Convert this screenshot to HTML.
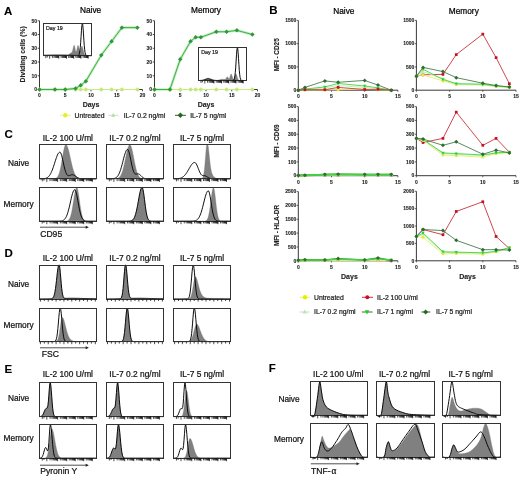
<!DOCTYPE html>
<html><head><meta charset="utf-8"><style>
html,body{margin:0;padding:0;background:#fff;}
body{width:520px;height:479px;overflow:hidden;}
svg{display:block;font-family:"Liberation Sans", sans-serif;will-change:transform;}
</style></head><body>
<svg width="520" height="479" viewBox="0 0 520 479" font-family='"Liberation Sans", sans-serif'>
<rect width="520" height="479" fill="#fff"/>
<text x="4.00" y="15.20" font-size="11.5" font-weight="bold" text-anchor="start" fill="#000" stroke="#000" stroke-width="0.1">A</text>
<text x="25.30" y="54.30" font-size="6.8" font-weight="bold" text-anchor="middle" fill="#222" stroke="#222" stroke-width="0.1" transform="rotate(-90 25.30 54.30)">Dividing cells (%)</text>
<text x="90.60" y="12.60" font-size="8.3" text-anchor="middle" fill="#000" stroke="#000" stroke-width="0.22">Naive</text>
<line x1="39.50" y1="20.75" x2="39.50" y2="89.50" stroke="#222" stroke-width="0.9"/>
<line x1="37.70" y1="89.50" x2="39.50" y2="89.50" stroke="#222" stroke-width="0.8"/>
<text x="37.10" y="91.30" font-size="5.0" font-weight="bold" text-anchor="end" fill="#222" stroke="#222" stroke-width="0.1">0</text>
<line x1="37.70" y1="75.75" x2="39.50" y2="75.75" stroke="#222" stroke-width="0.8"/>
<text x="37.10" y="77.55" font-size="5.0" font-weight="bold" text-anchor="end" fill="#222" stroke="#222" stroke-width="0.1">10</text>
<line x1="37.70" y1="62.00" x2="39.50" y2="62.00" stroke="#222" stroke-width="0.8"/>
<text x="37.10" y="63.80" font-size="5.0" font-weight="bold" text-anchor="end" fill="#222" stroke="#222" stroke-width="0.1">20</text>
<line x1="37.70" y1="48.25" x2="39.50" y2="48.25" stroke="#222" stroke-width="0.8"/>
<text x="37.10" y="50.05" font-size="5.0" font-weight="bold" text-anchor="end" fill="#222" stroke="#222" stroke-width="0.1">30</text>
<line x1="37.70" y1="34.50" x2="39.50" y2="34.50" stroke="#222" stroke-width="0.8"/>
<text x="37.10" y="36.30" font-size="5.0" font-weight="bold" text-anchor="end" fill="#222" stroke="#222" stroke-width="0.1">40</text>
<line x1="37.70" y1="20.75" x2="39.50" y2="20.75" stroke="#222" stroke-width="0.8"/>
<text x="37.10" y="22.55" font-size="5.0" font-weight="bold" text-anchor="end" fill="#222" stroke="#222" stroke-width="0.1">50</text>
<line x1="39.50" y1="89.50" x2="142.50" y2="89.50" stroke="#222" stroke-width="0.9"/>
<line x1="39.50" y1="89.50" x2="39.50" y2="91.30" stroke="#222" stroke-width="0.8"/>
<text x="39.50" y="97.10" font-size="5.0" font-weight="bold" text-anchor="middle" fill="#222" stroke="#222" stroke-width="0.1">0</text>
<line x1="65.25" y1="89.50" x2="65.25" y2="91.30" stroke="#222" stroke-width="0.8"/>
<text x="65.25" y="97.10" font-size="5.0" font-weight="bold" text-anchor="middle" fill="#222" stroke="#222" stroke-width="0.1">5</text>
<line x1="91.00" y1="89.50" x2="91.00" y2="91.30" stroke="#222" stroke-width="0.8"/>
<text x="91.00" y="97.10" font-size="5.0" font-weight="bold" text-anchor="middle" fill="#222" stroke="#222" stroke-width="0.1">10</text>
<line x1="116.75" y1="89.50" x2="116.75" y2="91.30" stroke="#222" stroke-width="0.8"/>
<text x="116.75" y="97.10" font-size="5.0" font-weight="bold" text-anchor="middle" fill="#222" stroke="#222" stroke-width="0.1">15</text>
<line x1="142.50" y1="89.50" x2="142.50" y2="91.30" stroke="#222" stroke-width="0.8"/>
<text x="142.50" y="97.10" font-size="5.0" font-weight="bold" text-anchor="middle" fill="#222" stroke="#222" stroke-width="0.1">20</text>
<text x="91.00" y="107.00" font-size="7.0" font-weight="bold" text-anchor="middle" fill="#222" stroke="#222" stroke-width="0.1">Days</text>
<polyline points="39.50,89.50 54.95,89.50 65.25,89.50 75.55,89.50 80.70,89.50 85.85,89.50 101.30,89.50 111.60,89.50 121.90,89.50 137.35,89.50" fill="none" stroke="#c8ec80" stroke-width="1.2" stroke-linejoin="round"/>
<circle cx="39.50" cy="89.50" r="1.9" fill="#d9ee6a"/>
<circle cx="54.95" cy="89.50" r="1.9" fill="#d9ee6a"/>
<circle cx="65.25" cy="89.50" r="1.9" fill="#d9ee6a"/>
<circle cx="75.55" cy="89.50" r="1.9" fill="#d9ee6a"/>
<circle cx="80.70" cy="89.50" r="1.9" fill="#d9ee6a"/>
<circle cx="85.85" cy="89.50" r="1.9" fill="#d9ee6a"/>
<circle cx="101.30" cy="89.50" r="1.9" fill="#d9ee6a"/>
<circle cx="111.60" cy="89.50" r="1.9" fill="#d9ee6a"/>
<circle cx="121.90" cy="89.50" r="1.9" fill="#d9ee6a"/>
<circle cx="137.35" cy="89.50" r="1.9" fill="#d9ee6a"/>
<polygon points="39.50,87.58 41.26,90.78 37.74,90.78" fill="#b4e6a0"/>
<polygon points="54.95,87.58 56.71,90.78 53.19,90.78" fill="#b4e6a0"/>
<polygon points="65.25,87.58 67.01,90.78 63.49,90.78" fill="#b4e6a0"/>
<polygon points="75.55,87.58 77.31,90.78 73.79,90.78" fill="#b4e6a0"/>
<polygon points="80.70,87.58 82.46,90.78 78.94,90.78" fill="#b4e6a0"/>
<polygon points="85.85,87.58 87.61,90.78 84.09,90.78" fill="#b4e6a0"/>
<polygon points="101.30,87.58 103.06,90.78 99.54,90.78" fill="#b4e6a0"/>
<polygon points="111.60,87.58 113.36,90.78 109.84,90.78" fill="#b4e6a0"/>
<polygon points="121.90,87.58 123.66,90.78 120.14,90.78" fill="#b4e6a0"/>
<polygon points="137.35,87.58 139.11,90.78 135.59,90.78" fill="#b4e6a0"/>
<polyline points="39.50,89.50 54.95,89.50 65.25,89.50 75.55,88.40 80.70,85.38 85.85,81.25 101.30,55.12 111.60,41.38 121.90,27.62 137.35,27.62" fill="none" stroke="#8ee88e" stroke-width="2.6" stroke-linejoin="round" stroke-opacity="0.6"/>
<polyline points="39.50,89.50 54.95,89.50 65.25,89.50 75.55,88.40 80.70,85.38 85.85,81.25 101.30,55.12 111.60,41.38 121.90,27.62 137.35,27.62" fill="none" stroke="#48a84e" stroke-width="1.0" stroke-linejoin="round"/>
<polygon points="39.50,87.25 41.75,89.50 39.50,91.75 37.25,89.50" fill="#2e983e"/>
<polygon points="54.95,87.25 57.20,89.50 54.95,91.75 52.70,89.50" fill="#2e983e"/>
<polygon points="65.25,87.25 67.50,89.50 65.25,91.75 63.00,89.50" fill="#2e983e"/>
<polygon points="75.55,86.15 77.80,88.40 75.55,90.65 73.30,88.40" fill="#2e983e"/>
<polygon points="80.70,83.12 82.95,85.38 80.70,87.62 78.45,85.38" fill="#2e983e"/>
<polygon points="85.85,79.00 88.10,81.25 85.85,83.50 83.60,81.25" fill="#2e983e"/>
<polygon points="101.30,52.88 103.55,55.12 101.30,57.38 99.05,55.12" fill="#2e983e"/>
<polygon points="111.60,39.12 113.85,41.38 111.60,43.62 109.35,41.38" fill="#2e983e"/>
<polygon points="121.90,25.38 124.15,27.62 121.90,29.88 119.65,27.62" fill="#2e983e"/>
<polygon points="137.35,25.38 139.60,27.62 137.35,29.88 135.10,27.62" fill="#2e983e"/>
<rect x="43.4" y="23.3" width="48.1" height="32.4" fill="#fff"/>
<path d="M43.40,55.70 L43.40,55.70 L43.80,55.70 L44.20,55.70 L44.60,55.70 L45.00,55.70 L45.40,55.70 L45.80,55.70 L46.21,55.70 L46.61,55.70 L47.01,55.70 L47.41,55.70 L47.81,55.70 L48.21,55.70 L48.61,55.70 L49.01,55.70 L49.41,55.70 L49.81,55.70 L50.21,55.70 L50.61,55.70 L51.02,55.70 L51.42,55.70 L51.82,55.70 L52.22,55.70 L52.62,55.70 L53.02,55.70 L53.42,55.70 L53.82,55.70 L54.22,55.70 L54.62,55.70 L55.02,55.70 L55.42,55.70 L55.83,55.70 L56.23,55.70 L56.63,55.70 L57.03,55.70 L57.43,55.70 L57.83,55.70 L58.23,55.70 L58.63,55.70 L59.03,55.70 L59.43,55.70 L59.83,55.70 L60.23,55.70 L60.64,55.70 L61.04,55.70 L61.44,55.70 L61.84,55.70 L62.24,55.70 L62.64,55.70 L63.04,55.70 L63.44,55.70 L63.84,55.70 L64.24,55.70 L64.64,55.70 L65.05,55.70 L65.45,55.70 L65.85,55.69 L66.25,55.68 L66.65,55.66 L67.05,55.61 L67.45,55.53 L67.85,55.39 L68.25,55.17 L68.65,54.86 L69.05,54.47 L69.45,54.04 L69.86,53.62 L70.26,53.27 L70.66,53.03 L71.06,52.88 L71.46,52.71 L71.86,52.34 L72.26,51.54 L72.66,50.21 L73.06,48.46 L73.46,46.69 L73.86,45.44 L74.26,45.19 L74.66,46.21 L75.07,48.14 L75.47,50.16 L75.87,51.49 L76.27,51.62 L76.67,50.52 L77.07,48.59 L77.47,46.60 L77.87,45.40 L78.27,45.52 L78.67,46.87 L79.07,48.81 L79.47,50.50 L79.88,51.27 L80.28,50.90 L80.68,49.59 L81.08,47.90 L81.48,46.50 L81.88,45.97 L82.28,46.40 L82.68,47.56 L83.08,49.18 L83.48,50.91 L83.88,52.49 L84.28,53.73 L84.69,54.59 L85.09,55.13 L85.49,55.43 L85.89,55.58 L86.29,55.65 L86.69,55.68 L87.09,55.69 L87.49,55.70 L87.89,55.70 L88.29,55.70 L88.69,55.70 L89.09,55.70 L89.50,55.70 L89.90,55.70 L90.30,55.70 L90.70,55.70 L91.10,55.70 L91.50,55.70 L91.50,55.70Z" fill="#808080" stroke="#777" stroke-width="0.3"/>
<path d="M43.40,55.31 L43.80,55.30 L44.20,55.29 L44.60,55.27 L45.00,55.26 L45.40,55.25 L45.80,55.24 L46.21,55.23 L46.61,55.22 L47.01,55.21 L47.41,55.20 L47.81,55.19 L48.21,55.18 L48.61,55.17 L49.01,55.16 L49.41,55.15 L49.81,55.14 L50.21,55.14 L50.61,55.13 L51.02,55.12 L51.42,55.11 L51.82,55.11 L52.22,55.10 L52.62,55.09 L53.02,55.09 L53.42,55.08 L53.82,55.08 L54.22,55.07 L54.62,55.07 L55.02,55.06 L55.42,55.06 L55.83,55.06 L56.23,55.06 L56.63,55.05 L57.03,55.05 L57.43,55.05 L57.83,55.05 L58.23,55.05 L58.63,55.05 L59.03,55.05 L59.43,55.06 L59.83,55.06 L60.23,55.06 L60.64,55.06 L61.04,55.07 L61.44,55.07 L61.84,55.08 L62.24,55.08 L62.64,55.09 L63.04,55.09 L63.44,55.10 L63.84,55.11 L64.24,55.11 L64.64,55.12 L65.05,55.13 L65.45,55.14 L65.85,55.14 L66.25,55.15 L66.65,55.16 L67.05,55.17 L67.45,55.18 L67.85,55.19 L68.25,55.20 L68.65,55.21 L69.05,55.22 L69.45,55.23 L69.86,55.24 L70.26,55.25 L70.66,55.26 L71.06,55.27 L71.46,55.29 L71.86,55.30 L72.26,55.31 L72.66,55.32 L73.06,55.33 L73.46,55.34 L73.86,55.35 L74.26,55.36 L74.66,55.37 L75.07,55.38 L75.47,55.39 L75.87,55.40 L76.27,55.41 L76.67,55.42 L77.07,55.43 L77.47,55.43 L77.87,55.40 L78.27,55.31 L78.67,55.05 L79.07,54.46 L79.47,53.23 L79.88,51.00 L80.28,47.43 L80.68,42.42 L81.08,36.38 L81.48,30.26 L81.88,25.45 L82.28,23.30 L82.68,24.20 L83.08,28.13 L83.48,33.91 L83.88,40.14 L84.28,45.66 L84.69,49.83 L85.09,52.58 L85.49,54.17 L85.89,55.00 L86.29,55.37 L86.69,55.53 L87.09,55.59 L87.49,55.61 L87.89,55.62 L88.29,55.63 L88.69,55.63 L89.09,55.64 L89.50,55.64 L89.90,55.65 L90.30,55.65 L90.70,55.65 L91.10,55.65 L91.50,55.66" fill="none" stroke="#000" stroke-width="0.95" stroke-linejoin="round"/>
<rect x="43.50" y="23.50" width="48.00" height="32.00" fill="none" stroke="#333" stroke-width="1"/>
<line x1="45.80" y1="55.70" x2="45.80" y2="58.10" stroke="#111" stroke-width="0.75"/>
<line x1="47.25" y1="55.70" x2="47.25" y2="57.50" stroke="#111" stroke-width="0.75"/>
<line x1="49.65" y1="55.70" x2="49.65" y2="58.70" stroke="#111" stroke-width="0.75"/>
<line x1="52.40" y1="55.70" x2="52.40" y2="57.90" stroke="#111" stroke-width="0.75"/>
<line x1="54.01" y1="55.70" x2="54.01" y2="57.90" stroke="#111" stroke-width="0.75"/>
<line x1="55.16" y1="55.70" x2="55.16" y2="57.90" stroke="#111" stroke-width="0.75"/>
<line x1="56.04" y1="55.70" x2="56.04" y2="57.90" stroke="#111" stroke-width="0.75"/>
<line x1="56.76" y1="55.70" x2="56.76" y2="57.90" stroke="#111" stroke-width="0.75"/>
<line x1="57.38" y1="55.70" x2="57.38" y2="57.90" stroke="#111" stroke-width="0.75"/>
<line x1="57.91" y1="55.70" x2="57.91" y2="57.90" stroke="#111" stroke-width="0.75"/>
<line x1="58.37" y1="55.70" x2="58.37" y2="57.90" stroke="#111" stroke-width="0.75"/>
<line x1="58.79" y1="55.70" x2="58.79" y2="58.70" stroke="#111" stroke-width="0.75"/>
<line x1="61.11" y1="55.70" x2="61.11" y2="57.90" stroke="#111" stroke-width="0.75"/>
<line x1="62.46" y1="55.70" x2="62.46" y2="57.90" stroke="#111" stroke-width="0.75"/>
<line x1="63.43" y1="55.70" x2="63.43" y2="57.90" stroke="#111" stroke-width="0.75"/>
<line x1="64.17" y1="55.70" x2="64.17" y2="57.90" stroke="#111" stroke-width="0.75"/>
<line x1="64.78" y1="55.70" x2="64.78" y2="57.90" stroke="#111" stroke-width="0.75"/>
<line x1="65.30" y1="55.70" x2="65.30" y2="57.90" stroke="#111" stroke-width="0.75"/>
<line x1="65.74" y1="55.70" x2="65.74" y2="57.90" stroke="#111" stroke-width="0.75"/>
<line x1="66.14" y1="55.70" x2="66.14" y2="57.90" stroke="#111" stroke-width="0.75"/>
<line x1="66.49" y1="55.70" x2="66.49" y2="58.70" stroke="#111" stroke-width="0.75"/>
<line x1="68.66" y1="55.70" x2="68.66" y2="57.90" stroke="#111" stroke-width="0.75"/>
<line x1="69.93" y1="55.70" x2="69.93" y2="57.90" stroke="#111" stroke-width="0.75"/>
<line x1="70.83" y1="55.70" x2="70.83" y2="57.90" stroke="#111" stroke-width="0.75"/>
<line x1="71.53" y1="55.70" x2="71.53" y2="57.90" stroke="#111" stroke-width="0.75"/>
<line x1="72.10" y1="55.70" x2="72.10" y2="57.90" stroke="#111" stroke-width="0.75"/>
<line x1="72.59" y1="55.70" x2="72.59" y2="57.90" stroke="#111" stroke-width="0.75"/>
<line x1="73.00" y1="55.70" x2="73.00" y2="57.90" stroke="#111" stroke-width="0.75"/>
<line x1="73.37" y1="55.70" x2="73.37" y2="57.90" stroke="#111" stroke-width="0.75"/>
<line x1="73.70" y1="55.70" x2="73.70" y2="58.70" stroke="#111" stroke-width="0.75"/>
<line x1="75.87" y1="55.70" x2="75.87" y2="57.90" stroke="#111" stroke-width="0.75"/>
<line x1="77.15" y1="55.70" x2="77.15" y2="57.90" stroke="#111" stroke-width="0.75"/>
<line x1="78.05" y1="55.70" x2="78.05" y2="57.90" stroke="#111" stroke-width="0.75"/>
<line x1="78.75" y1="55.70" x2="78.75" y2="57.90" stroke="#111" stroke-width="0.75"/>
<line x1="79.32" y1="55.70" x2="79.32" y2="57.90" stroke="#111" stroke-width="0.75"/>
<line x1="79.80" y1="55.70" x2="79.80" y2="57.90" stroke="#111" stroke-width="0.75"/>
<line x1="80.22" y1="55.70" x2="80.22" y2="57.90" stroke="#111" stroke-width="0.75"/>
<line x1="80.59" y1="55.70" x2="80.59" y2="57.90" stroke="#111" stroke-width="0.75"/>
<line x1="80.92" y1="55.70" x2="80.92" y2="58.70" stroke="#111" stroke-width="0.75"/>
<line x1="83.09" y1="55.70" x2="83.09" y2="57.90" stroke="#111" stroke-width="0.75"/>
<line x1="84.36" y1="55.70" x2="84.36" y2="57.90" stroke="#111" stroke-width="0.75"/>
<line x1="85.26" y1="55.70" x2="85.26" y2="57.90" stroke="#111" stroke-width="0.75"/>
<line x1="85.96" y1="55.70" x2="85.96" y2="57.90" stroke="#111" stroke-width="0.75"/>
<line x1="86.53" y1="55.70" x2="86.53" y2="57.90" stroke="#111" stroke-width="0.75"/>
<line x1="87.02" y1="55.70" x2="87.02" y2="57.90" stroke="#111" stroke-width="0.75"/>
<line x1="87.43" y1="55.70" x2="87.43" y2="57.90" stroke="#111" stroke-width="0.75"/>
<line x1="87.80" y1="55.70" x2="87.80" y2="57.90" stroke="#111" stroke-width="0.75"/>
<line x1="88.13" y1="55.70" x2="88.13" y2="58.70" stroke="#111" stroke-width="0.75"/>
<text x="46.00" y="30.00" font-size="5.3" text-anchor="start" fill="#222" stroke="#222" stroke-width="0.22">Day 19</text>
<text x="206.00" y="12.60" font-size="8.3" text-anchor="middle" fill="#000" stroke="#000" stroke-width="0.22">Memory</text>
<line x1="154.50" y1="20.75" x2="154.50" y2="89.50" stroke="#222" stroke-width="0.9"/>
<line x1="152.70" y1="89.50" x2="154.50" y2="89.50" stroke="#222" stroke-width="0.8"/>
<text x="152.10" y="91.30" font-size="5.0" font-weight="bold" text-anchor="end" fill="#222" stroke="#222" stroke-width="0.1">0</text>
<line x1="152.70" y1="75.75" x2="154.50" y2="75.75" stroke="#222" stroke-width="0.8"/>
<text x="152.10" y="77.55" font-size="5.0" font-weight="bold" text-anchor="end" fill="#222" stroke="#222" stroke-width="0.1">10</text>
<line x1="152.70" y1="62.00" x2="154.50" y2="62.00" stroke="#222" stroke-width="0.8"/>
<text x="152.10" y="63.80" font-size="5.0" font-weight="bold" text-anchor="end" fill="#222" stroke="#222" stroke-width="0.1">20</text>
<line x1="152.70" y1="48.25" x2="154.50" y2="48.25" stroke="#222" stroke-width="0.8"/>
<text x="152.10" y="50.05" font-size="5.0" font-weight="bold" text-anchor="end" fill="#222" stroke="#222" stroke-width="0.1">30</text>
<line x1="152.70" y1="34.50" x2="154.50" y2="34.50" stroke="#222" stroke-width="0.8"/>
<text x="152.10" y="36.30" font-size="5.0" font-weight="bold" text-anchor="end" fill="#222" stroke="#222" stroke-width="0.1">40</text>
<line x1="152.70" y1="20.75" x2="154.50" y2="20.75" stroke="#222" stroke-width="0.8"/>
<text x="152.10" y="22.55" font-size="5.0" font-weight="bold" text-anchor="end" fill="#222" stroke="#222" stroke-width="0.1">50</text>
<line x1="154.50" y1="89.50" x2="257.50" y2="89.50" stroke="#222" stroke-width="0.9"/>
<line x1="154.50" y1="89.50" x2="154.50" y2="91.30" stroke="#222" stroke-width="0.8"/>
<text x="154.50" y="97.10" font-size="5.0" font-weight="bold" text-anchor="middle" fill="#222" stroke="#222" stroke-width="0.1">0</text>
<line x1="180.25" y1="89.50" x2="180.25" y2="91.30" stroke="#222" stroke-width="0.8"/>
<text x="180.25" y="97.10" font-size="5.0" font-weight="bold" text-anchor="middle" fill="#222" stroke="#222" stroke-width="0.1">5</text>
<line x1="206.00" y1="89.50" x2="206.00" y2="91.30" stroke="#222" stroke-width="0.8"/>
<text x="206.00" y="97.10" font-size="5.0" font-weight="bold" text-anchor="middle" fill="#222" stroke="#222" stroke-width="0.1">10</text>
<line x1="231.75" y1="89.50" x2="231.75" y2="91.30" stroke="#222" stroke-width="0.8"/>
<text x="231.75" y="97.10" font-size="5.0" font-weight="bold" text-anchor="middle" fill="#222" stroke="#222" stroke-width="0.1">15</text>
<line x1="257.50" y1="89.50" x2="257.50" y2="91.30" stroke="#222" stroke-width="0.8"/>
<text x="257.50" y="97.10" font-size="5.0" font-weight="bold" text-anchor="middle" fill="#222" stroke="#222" stroke-width="0.1">20</text>
<text x="206.00" y="107.00" font-size="7.0" font-weight="bold" text-anchor="middle" fill="#222" stroke="#222" stroke-width="0.1">Days</text>
<polyline points="154.50,89.50 169.95,89.50 180.25,89.50 190.55,89.50 195.70,89.50 200.85,89.50 216.30,89.50 226.60,89.50 236.90,89.50 252.35,89.50" fill="none" stroke="#c8ec80" stroke-width="1.2" stroke-linejoin="round"/>
<circle cx="154.50" cy="89.50" r="1.9" fill="#d9ee6a"/>
<circle cx="169.95" cy="89.50" r="1.9" fill="#d9ee6a"/>
<circle cx="180.25" cy="89.50" r="1.9" fill="#d9ee6a"/>
<circle cx="190.55" cy="89.50" r="1.9" fill="#d9ee6a"/>
<circle cx="195.70" cy="89.50" r="1.9" fill="#d9ee6a"/>
<circle cx="200.85" cy="89.50" r="1.9" fill="#d9ee6a"/>
<circle cx="216.30" cy="89.50" r="1.9" fill="#d9ee6a"/>
<circle cx="226.60" cy="89.50" r="1.9" fill="#d9ee6a"/>
<circle cx="236.90" cy="89.50" r="1.9" fill="#d9ee6a"/>
<circle cx="252.35" cy="89.50" r="1.9" fill="#d9ee6a"/>
<polygon points="154.50,87.58 156.26,90.78 152.74,90.78" fill="#b4e6a0"/>
<polygon points="169.95,87.58 171.71,90.78 168.19,90.78" fill="#b4e6a0"/>
<polygon points="180.25,87.58 182.01,90.78 178.49,90.78" fill="#b4e6a0"/>
<polygon points="190.55,87.58 192.31,90.78 188.79,90.78" fill="#b4e6a0"/>
<polygon points="195.70,87.58 197.46,90.78 193.94,90.78" fill="#b4e6a0"/>
<polygon points="200.85,87.58 202.61,90.78 199.09,90.78" fill="#b4e6a0"/>
<polygon points="216.30,87.58 218.06,90.78 214.54,90.78" fill="#b4e6a0"/>
<polygon points="226.60,87.58 228.36,90.78 224.84,90.78" fill="#b4e6a0"/>
<polygon points="236.90,87.58 238.66,90.78 235.14,90.78" fill="#b4e6a0"/>
<polygon points="252.35,87.58 254.11,90.78 250.59,90.78" fill="#b4e6a0"/>
<polyline points="154.50,89.50 169.95,89.50 180.25,59.25 190.55,41.38 195.70,37.25 200.85,37.25 216.30,31.75 226.60,31.75 236.90,30.38 252.35,34.50" fill="none" stroke="#8ee88e" stroke-width="2.6" stroke-linejoin="round" stroke-opacity="0.6"/>
<polyline points="154.50,89.50 169.95,89.50 180.25,59.25 190.55,41.38 195.70,37.25 200.85,37.25 216.30,31.75 226.60,31.75 236.90,30.38 252.35,34.50" fill="none" stroke="#48a84e" stroke-width="1.0" stroke-linejoin="round"/>
<polygon points="154.50,87.25 156.75,89.50 154.50,91.75 152.25,89.50" fill="#2e983e"/>
<polygon points="169.95,87.25 172.20,89.50 169.95,91.75 167.70,89.50" fill="#2e983e"/>
<polygon points="180.25,57.00 182.50,59.25 180.25,61.50 178.00,59.25" fill="#2e983e"/>
<polygon points="190.55,39.12 192.80,41.38 190.55,43.62 188.30,41.38" fill="#2e983e"/>
<polygon points="195.70,35.00 197.95,37.25 195.70,39.50 193.45,37.25" fill="#2e983e"/>
<polygon points="200.85,35.00 203.10,37.25 200.85,39.50 198.60,37.25" fill="#2e983e"/>
<polygon points="216.30,29.50 218.55,31.75 216.30,34.00 214.05,31.75" fill="#2e983e"/>
<polygon points="226.60,29.50 228.85,31.75 226.60,34.00 224.35,31.75" fill="#2e983e"/>
<polygon points="236.90,28.12 239.15,30.38 236.90,32.62 234.65,30.38" fill="#2e983e"/>
<polygon points="252.35,32.25 254.60,34.50 252.35,36.75 250.10,34.50" fill="#2e983e"/>
<rect x="198.6" y="47.5" width="47.9" height="33.0" fill="#fff"/>
<path d="M198.60,80.50 L198.60,80.49 L199.00,80.49 L199.40,80.48 L199.80,80.47 L200.20,80.45 L200.60,80.43 L201.00,80.40 L201.39,80.36 L201.79,80.30 L202.19,80.24 L202.59,80.15 L202.99,80.05 L203.39,79.92 L203.79,79.78 L204.19,79.62 L204.59,79.44 L204.99,79.25 L205.39,79.06 L205.78,78.87 L206.18,78.68 L206.58,78.52 L206.98,78.38 L207.38,78.28 L207.78,78.21 L208.18,78.19 L208.58,78.21 L208.98,78.28 L209.38,78.38 L209.78,78.52 L210.18,78.68 L210.57,78.87 L210.97,79.06 L211.37,79.25 L211.77,79.44 L212.17,79.62 L212.57,79.78 L212.97,79.92 L213.37,80.04 L213.77,80.14 L214.17,80.22 L214.57,80.28 L214.97,80.32 L215.36,80.34 L215.76,80.35 L216.16,80.34 L216.56,80.32 L216.96,80.28 L217.36,80.23 L217.76,80.16 L218.16,80.08 L218.56,79.99 L218.96,79.89 L219.36,79.79 L219.76,79.68 L220.16,79.57 L220.55,79.46 L220.95,79.37 L221.35,79.29 L221.75,79.23 L222.15,79.19 L222.55,79.18 L222.95,79.19 L223.35,79.23 L223.75,79.28 L224.15,79.34 L224.55,79.36 L224.94,79.32 L225.34,79.13 L225.74,78.74 L226.14,78.17 L226.54,77.52 L226.94,77.02 L227.34,76.86 L227.74,77.14 L228.14,77.72 L228.54,78.33 L228.94,78.65 L229.34,78.42 L229.73,77.59 L230.13,76.30 L230.53,74.95 L230.93,74.04 L231.33,73.96 L231.73,74.75 L232.13,76.10 L232.53,77.54 L232.93,78.65 L233.33,79.21 L233.73,79.15 L234.13,78.53 L234.52,77.44 L234.92,76.10 L235.32,74.84 L235.72,74.04 L236.12,73.96 L236.52,74.64 L236.92,75.84 L237.32,77.21 L237.72,78.45 L238.12,79.36 L238.52,79.94 L238.92,80.26 L239.31,80.41 L239.71,80.47 L240.11,80.49 L240.51,80.50 L240.91,80.50 L241.31,80.50 L241.71,80.50 L242.11,80.50 L242.51,80.50 L242.91,80.50 L243.31,80.50 L243.71,80.50 L244.10,80.50 L244.50,80.50 L244.90,80.50 L245.30,80.50 L245.70,80.50 L246.10,80.50 L246.50,80.50 L246.50,80.50Z" fill="#808080" stroke="#777" stroke-width="0.3"/>
<path d="M198.60,80.49 L199.00,80.49 L199.40,80.48 L199.80,80.48 L200.20,80.47 L200.60,80.45 L201.00,80.43 L201.39,80.40 L201.79,80.36 L202.19,80.31 L202.59,80.25 L202.99,80.18 L203.39,80.09 L203.79,79.99 L204.19,79.87 L204.59,79.74 L204.99,79.61 L205.39,79.47 L205.78,79.33 L206.18,79.20 L206.58,79.09 L206.98,78.99 L207.38,78.91 L207.78,78.87 L208.18,78.85 L208.58,78.87 L208.98,78.91 L209.38,78.99 L209.78,79.09 L210.18,79.20 L210.57,79.33 L210.97,79.47 L211.37,79.61 L211.77,79.74 L212.17,79.87 L212.57,79.99 L212.97,80.09 L213.37,80.18 L213.77,80.25 L214.17,80.31 L214.57,80.36 L214.97,80.40 L215.36,80.43 L215.76,80.45 L216.16,80.47 L216.56,80.48 L216.96,80.48 L217.36,80.49 L217.76,80.49 L218.16,80.50 L218.56,80.50 L218.96,80.50 L219.36,80.50 L219.76,80.50 L220.16,80.50 L220.55,80.50 L220.95,80.50 L221.35,80.50 L221.75,80.50 L222.15,80.50 L222.55,80.50 L222.95,80.50 L223.35,80.50 L223.75,80.50 L224.15,80.50 L224.55,80.50 L224.94,80.50 L225.34,80.50 L225.74,80.50 L226.14,80.50 L226.54,80.50 L226.94,80.50 L227.34,80.50 L227.74,80.50 L228.14,80.50 L228.54,80.50 L228.94,80.50 L229.34,80.50 L229.73,80.50 L230.13,80.50 L230.53,80.50 L230.93,80.50 L231.33,80.50 L231.73,80.50 L232.13,80.50 L232.53,80.48 L232.93,80.45 L233.33,80.34 L233.73,80.07 L234.13,79.46 L234.52,78.20 L234.92,75.92 L235.32,72.27 L235.72,67.16 L236.12,61.00 L236.52,54.76 L236.92,49.85 L237.32,47.57 L237.72,48.57 L238.12,52.56 L238.52,58.44 L238.92,64.78 L239.31,70.39 L239.71,74.64 L240.11,77.43 L240.51,79.05 L240.91,79.88 L241.31,80.26 L241.71,80.42 L242.11,80.47 L242.51,80.49 L242.91,80.50 L243.31,80.50 L243.71,80.50 L244.10,80.50 L244.50,80.50 L244.90,80.50 L245.30,80.50 L245.70,80.50 L246.10,80.50 L246.50,80.50" fill="none" stroke="#000" stroke-width="0.95" stroke-linejoin="round"/>
<rect x="198.50" y="47.50" width="48.00" height="33.00" fill="none" stroke="#333" stroke-width="1"/>
<line x1="201.00" y1="80.50" x2="201.00" y2="82.90" stroke="#111" stroke-width="0.75"/>
<line x1="202.43" y1="80.50" x2="202.43" y2="82.30" stroke="#111" stroke-width="0.75"/>
<line x1="204.83" y1="80.50" x2="204.83" y2="83.50" stroke="#111" stroke-width="0.75"/>
<line x1="207.57" y1="80.50" x2="207.57" y2="82.70" stroke="#111" stroke-width="0.75"/>
<line x1="209.17" y1="80.50" x2="209.17" y2="82.70" stroke="#111" stroke-width="0.75"/>
<line x1="210.31" y1="80.50" x2="210.31" y2="82.70" stroke="#111" stroke-width="0.75"/>
<line x1="211.19" y1="80.50" x2="211.19" y2="82.70" stroke="#111" stroke-width="0.75"/>
<line x1="211.91" y1="80.50" x2="211.91" y2="82.70" stroke="#111" stroke-width="0.75"/>
<line x1="212.52" y1="80.50" x2="212.52" y2="82.70" stroke="#111" stroke-width="0.75"/>
<line x1="213.05" y1="80.50" x2="213.05" y2="82.70" stroke="#111" stroke-width="0.75"/>
<line x1="213.51" y1="80.50" x2="213.51" y2="82.70" stroke="#111" stroke-width="0.75"/>
<line x1="213.93" y1="80.50" x2="213.93" y2="83.50" stroke="#111" stroke-width="0.75"/>
<line x1="216.24" y1="80.50" x2="216.24" y2="82.70" stroke="#111" stroke-width="0.75"/>
<line x1="217.58" y1="80.50" x2="217.58" y2="82.70" stroke="#111" stroke-width="0.75"/>
<line x1="218.54" y1="80.50" x2="218.54" y2="82.70" stroke="#111" stroke-width="0.75"/>
<line x1="219.28" y1="80.50" x2="219.28" y2="82.70" stroke="#111" stroke-width="0.75"/>
<line x1="219.89" y1="80.50" x2="219.89" y2="82.70" stroke="#111" stroke-width="0.75"/>
<line x1="220.40" y1="80.50" x2="220.40" y2="82.70" stroke="#111" stroke-width="0.75"/>
<line x1="220.85" y1="80.50" x2="220.85" y2="82.70" stroke="#111" stroke-width="0.75"/>
<line x1="221.24" y1="80.50" x2="221.24" y2="82.70" stroke="#111" stroke-width="0.75"/>
<line x1="221.59" y1="80.50" x2="221.59" y2="83.50" stroke="#111" stroke-width="0.75"/>
<line x1="223.75" y1="80.50" x2="223.75" y2="82.70" stroke="#111" stroke-width="0.75"/>
<line x1="225.02" y1="80.50" x2="225.02" y2="82.70" stroke="#111" stroke-width="0.75"/>
<line x1="225.92" y1="80.50" x2="225.92" y2="82.70" stroke="#111" stroke-width="0.75"/>
<line x1="226.61" y1="80.50" x2="226.61" y2="82.70" stroke="#111" stroke-width="0.75"/>
<line x1="227.18" y1="80.50" x2="227.18" y2="82.70" stroke="#111" stroke-width="0.75"/>
<line x1="227.66" y1="80.50" x2="227.66" y2="82.70" stroke="#111" stroke-width="0.75"/>
<line x1="228.08" y1="80.50" x2="228.08" y2="82.70" stroke="#111" stroke-width="0.75"/>
<line x1="228.45" y1="80.50" x2="228.45" y2="82.70" stroke="#111" stroke-width="0.75"/>
<line x1="228.78" y1="80.50" x2="228.78" y2="83.50" stroke="#111" stroke-width="0.75"/>
<line x1="230.94" y1="80.50" x2="230.94" y2="82.70" stroke="#111" stroke-width="0.75"/>
<line x1="232.21" y1="80.50" x2="232.21" y2="82.70" stroke="#111" stroke-width="0.75"/>
<line x1="233.10" y1="80.50" x2="233.10" y2="82.70" stroke="#111" stroke-width="0.75"/>
<line x1="233.80" y1="80.50" x2="233.80" y2="82.70" stroke="#111" stroke-width="0.75"/>
<line x1="234.37" y1="80.50" x2="234.37" y2="82.70" stroke="#111" stroke-width="0.75"/>
<line x1="234.85" y1="80.50" x2="234.85" y2="82.70" stroke="#111" stroke-width="0.75"/>
<line x1="235.27" y1="80.50" x2="235.27" y2="82.70" stroke="#111" stroke-width="0.75"/>
<line x1="235.63" y1="80.50" x2="235.63" y2="82.70" stroke="#111" stroke-width="0.75"/>
<line x1="235.96" y1="80.50" x2="235.96" y2="83.50" stroke="#111" stroke-width="0.75"/>
<line x1="238.12" y1="80.50" x2="238.12" y2="82.70" stroke="#111" stroke-width="0.75"/>
<line x1="239.39" y1="80.50" x2="239.39" y2="82.70" stroke="#111" stroke-width="0.75"/>
<line x1="240.29" y1="80.50" x2="240.29" y2="82.70" stroke="#111" stroke-width="0.75"/>
<line x1="240.98" y1="80.50" x2="240.98" y2="82.70" stroke="#111" stroke-width="0.75"/>
<line x1="241.55" y1="80.50" x2="241.55" y2="82.70" stroke="#111" stroke-width="0.75"/>
<line x1="242.03" y1="80.50" x2="242.03" y2="82.70" stroke="#111" stroke-width="0.75"/>
<line x1="242.45" y1="80.50" x2="242.45" y2="82.70" stroke="#111" stroke-width="0.75"/>
<line x1="242.82" y1="80.50" x2="242.82" y2="82.70" stroke="#111" stroke-width="0.75"/>
<line x1="243.15" y1="80.50" x2="243.15" y2="83.50" stroke="#111" stroke-width="0.75"/>
<text x="201.20" y="54.20" font-size="5.3" text-anchor="start" fill="#222" stroke="#222" stroke-width="0.22">Day 19</text>
<line x1="60.00" y1="115.30" x2="71.00" y2="115.30" stroke="#eef08a" stroke-width="1.0"/>
<circle cx="65.30" cy="115.30" r="2.2" fill="#e3ef2a"/>
<text x="74.60" y="117.60" font-size="6.8" text-anchor="start" fill="#222" stroke="#222" stroke-width="0.22">Untreated</text>
<line x1="108.30" y1="115.30" x2="118.50" y2="115.30" stroke="#c8e4c0" stroke-width="1.0"/>
<polygon points="113.30,113.02 115.39,116.82 111.21,116.82" fill="#a8e29c"/>
<text x="123.70" y="117.60" font-size="6.8" text-anchor="start" fill="#222" stroke="#222" stroke-width="0.22">IL-7 0.2 ng/ml</text>
<line x1="175.00" y1="115.30" x2="186.00" y2="115.30" stroke="#3a5e3a" stroke-width="1.0"/>
<polygon points="180.40,112.55 183.15,115.30 180.40,118.05 177.65,115.30" fill="#1f6a1f"/>
<text x="190.20" y="117.60" font-size="6.8" text-anchor="start" fill="#222" stroke="#222" stroke-width="0.22">IL-7 5 ng/ml</text>
<text x="269.30" y="14.40" font-size="11.5" font-weight="bold" text-anchor="start" fill="#000" stroke="#000" stroke-width="0.1">B</text>
<text x="343.80" y="14.00" font-size="8.3" text-anchor="middle" fill="#000" stroke="#000" stroke-width="0.22">Naive</text>
<text x="463.80" y="14.00" font-size="8.3" text-anchor="middle" fill="#000" stroke="#000" stroke-width="0.22">Memory</text>
<text x="279.40" y="54.80" font-size="6.4" font-weight="bold" text-anchor="middle" fill="#222" stroke="#222" stroke-width="0.1" transform="rotate(-90 279.40 54.80)">MFI - CD25</text>
<line x1="298.30" y1="20.40" x2="298.30" y2="90.20" stroke="#222" stroke-width="0.9"/>
<line x1="296.70" y1="90.20" x2="298.30" y2="90.20" stroke="#222" stroke-width="0.7"/>
<text x="296.30" y="91.95" font-size="5.0" font-weight="bold" text-anchor="end" fill="#222" stroke="#222" stroke-width="0.1">0</text>
<line x1="296.70" y1="66.93" x2="298.30" y2="66.93" stroke="#222" stroke-width="0.7"/>
<text x="296.30" y="68.68" font-size="5.0" font-weight="bold" text-anchor="end" fill="#222" stroke="#222" stroke-width="0.1">500</text>
<line x1="296.70" y1="43.67" x2="298.30" y2="43.67" stroke="#222" stroke-width="0.7"/>
<text x="296.30" y="45.42" font-size="5.0" font-weight="bold" text-anchor="end" fill="#222" stroke="#222" stroke-width="0.1">1000</text>
<line x1="296.70" y1="20.40" x2="298.30" y2="20.40" stroke="#222" stroke-width="0.7"/>
<text x="296.30" y="22.15" font-size="5.0" font-weight="bold" text-anchor="end" fill="#222" stroke="#222" stroke-width="0.1">1500</text>
<line x1="298.30" y1="90.20" x2="397.90" y2="90.20" stroke="#222" stroke-width="0.9"/>
<line x1="298.30" y1="90.20" x2="298.30" y2="91.80" stroke="#222" stroke-width="0.7"/>
<text x="298.30" y="98.00" font-size="5.0" font-weight="bold" text-anchor="middle" fill="#222" stroke="#222" stroke-width="0.1">0</text>
<line x1="331.50" y1="90.20" x2="331.50" y2="91.80" stroke="#222" stroke-width="0.7"/>
<text x="331.50" y="98.00" font-size="5.0" font-weight="bold" text-anchor="middle" fill="#222" stroke="#222" stroke-width="0.1">5</text>
<line x1="364.70" y1="90.20" x2="364.70" y2="91.80" stroke="#222" stroke-width="0.7"/>
<text x="364.70" y="98.00" font-size="5.0" font-weight="bold" text-anchor="middle" fill="#222" stroke="#222" stroke-width="0.1">10</text>
<line x1="397.90" y1="90.20" x2="397.90" y2="91.80" stroke="#222" stroke-width="0.7"/>
<text x="397.90" y="98.00" font-size="5.0" font-weight="bold" text-anchor="middle" fill="#222" stroke="#222" stroke-width="0.1">15</text>
<polyline points="298.30,90.20 304.94,89.97 324.86,89.97 338.14,89.73 364.70,89.04 377.98,89.73 391.26,90.20" fill="none" stroke="#e8e870" stroke-width="0.9" stroke-linejoin="round"/>
<circle cx="298.30" cy="90.20" r="1.5" fill="#e6ea30"/>
<circle cx="304.94" cy="89.97" r="1.5" fill="#e6ea30"/>
<circle cx="324.86" cy="89.97" r="1.5" fill="#e6ea30"/>
<circle cx="338.14" cy="89.73" r="1.5" fill="#e6ea30"/>
<circle cx="364.70" cy="89.04" r="1.5" fill="#e6ea30"/>
<circle cx="377.98" cy="89.73" r="1.5" fill="#e6ea30"/>
<circle cx="391.26" cy="90.20" r="1.5" fill="#e6ea30"/>
<polyline points="298.30,90.20 304.94,89.50 324.86,87.87 338.14,85.55 364.70,87.41 377.98,88.80 391.26,90.20" fill="none" stroke="#bfeab5" stroke-width="0.9" stroke-linejoin="round"/>
<polygon points="298.30,88.40 299.95,91.40 296.65,91.40" fill="#b8eab0"/>
<polygon points="304.94,87.70 306.59,90.70 303.29,90.70" fill="#b8eab0"/>
<polygon points="324.86,86.07 326.51,89.07 323.21,89.07" fill="#b8eab0"/>
<polygon points="338.14,83.75 339.79,86.75 336.49,86.75" fill="#b8eab0"/>
<polygon points="364.70,85.61 366.35,88.61 363.05,88.61" fill="#b8eab0"/>
<polygon points="377.98,87.00 379.63,90.00 376.33,90.00" fill="#b8eab0"/>
<polygon points="391.26,88.40 392.91,91.40 389.61,91.40" fill="#b8eab0"/>
<polyline points="298.30,90.20 304.94,89.04 324.86,86.94 338.14,83.45 364.70,86.01 377.98,87.87 391.26,90.20" fill="none" stroke="#3cd83c" stroke-width="0.9" stroke-linejoin="round"/>
<polygon points="298.30,92.00 299.95,89.00 296.65,89.00" fill="#30cc30"/>
<polygon points="304.94,90.84 306.59,87.84 303.29,87.84" fill="#30cc30"/>
<polygon points="324.86,88.74 326.51,85.74 323.21,85.74" fill="#30cc30"/>
<polygon points="338.14,85.25 339.79,82.25 336.49,82.25" fill="#30cc30"/>
<polygon points="364.70,87.81 366.35,84.81 363.05,84.81" fill="#30cc30"/>
<polygon points="377.98,89.67 379.63,86.67 376.33,86.67" fill="#30cc30"/>
<polygon points="391.26,92.00 392.91,89.00 389.61,89.00" fill="#30cc30"/>
<polyline points="298.30,90.20 304.94,89.73 324.86,89.73 338.14,87.41 364.70,89.50 377.98,89.27 391.26,90.20" fill="none" stroke="#c8343c" stroke-width="0.9" stroke-linejoin="round"/>
<rect x="296.95" y="88.85" width="2.7" height="2.7" fill="#c41020"/>
<rect x="303.59" y="88.38" width="2.7" height="2.7" fill="#c41020"/>
<rect x="323.51" y="88.38" width="2.7" height="2.7" fill="#c41020"/>
<rect x="336.79" y="86.06" width="2.7" height="2.7" fill="#c41020"/>
<rect x="363.35" y="88.15" width="2.7" height="2.7" fill="#c41020"/>
<rect x="376.63" y="87.92" width="2.7" height="2.7" fill="#c41020"/>
<rect x="389.91" y="88.85" width="2.7" height="2.7" fill="#c41020"/>
<polyline points="298.30,90.20 304.94,87.41 324.86,80.89 338.14,82.29 364.70,80.43 377.98,85.08 391.26,90.20" fill="none" stroke="#4a7c4a" stroke-width="0.9" stroke-linejoin="round"/>
<polygon points="298.30,88.20 300.30,90.20 298.30,92.20 296.30,90.20" fill="#2a6e35"/>
<polygon points="304.94,85.41 306.94,87.41 304.94,89.41 302.94,87.41" fill="#2a6e35"/>
<polygon points="324.86,78.89 326.86,80.89 324.86,82.89 322.86,80.89" fill="#2a6e35"/>
<polygon points="338.14,80.29 340.14,82.29 338.14,84.29 336.14,82.29" fill="#2a6e35"/>
<polygon points="364.70,78.43 366.70,80.43 364.70,82.43 362.70,80.43" fill="#2a6e35"/>
<polygon points="377.98,83.08 379.98,85.08 377.98,87.08 375.98,85.08" fill="#2a6e35"/>
<polygon points="391.26,88.20 393.26,90.20 391.26,92.20 389.26,90.20" fill="#2a6e35"/>
<line x1="416.40" y1="20.40" x2="416.40" y2="90.20" stroke="#222" stroke-width="0.9"/>
<line x1="414.80" y1="90.20" x2="416.40" y2="90.20" stroke="#222" stroke-width="0.7"/>
<text x="414.40" y="91.95" font-size="5.0" font-weight="bold" text-anchor="end" fill="#222" stroke="#222" stroke-width="0.1">0</text>
<line x1="414.80" y1="66.93" x2="416.40" y2="66.93" stroke="#222" stroke-width="0.7"/>
<text x="414.40" y="68.68" font-size="5.0" font-weight="bold" text-anchor="end" fill="#222" stroke="#222" stroke-width="0.1">500</text>
<line x1="414.80" y1="43.67" x2="416.40" y2="43.67" stroke="#222" stroke-width="0.7"/>
<text x="414.40" y="45.42" font-size="5.0" font-weight="bold" text-anchor="end" fill="#222" stroke="#222" stroke-width="0.1">1000</text>
<line x1="414.80" y1="20.40" x2="416.40" y2="20.40" stroke="#222" stroke-width="0.7"/>
<text x="414.40" y="22.15" font-size="5.0" font-weight="bold" text-anchor="end" fill="#222" stroke="#222" stroke-width="0.1">1500</text>
<line x1="416.40" y1="90.20" x2="516.00" y2="90.20" stroke="#222" stroke-width="0.9"/>
<line x1="416.40" y1="90.20" x2="416.40" y2="91.80" stroke="#222" stroke-width="0.7"/>
<text x="416.40" y="98.00" font-size="5.0" font-weight="bold" text-anchor="middle" fill="#222" stroke="#222" stroke-width="0.1">0</text>
<line x1="449.60" y1="90.20" x2="449.60" y2="91.80" stroke="#222" stroke-width="0.7"/>
<text x="449.60" y="98.00" font-size="5.0" font-weight="bold" text-anchor="middle" fill="#222" stroke="#222" stroke-width="0.1">5</text>
<line x1="482.80" y1="90.20" x2="482.80" y2="91.80" stroke="#222" stroke-width="0.7"/>
<text x="482.80" y="98.00" font-size="5.0" font-weight="bold" text-anchor="middle" fill="#222" stroke="#222" stroke-width="0.1">10</text>
<line x1="516.00" y1="90.20" x2="516.00" y2="91.80" stroke="#222" stroke-width="0.7"/>
<text x="516.00" y="98.00" font-size="5.0" font-weight="bold" text-anchor="middle" fill="#222" stroke="#222" stroke-width="0.1">15</text>
<polyline points="416.40,76.24 423.04,74.84 442.96,74.38 456.24,54.60 482.80,34.13 496.08,57.63 509.36,83.69" fill="none" stroke="#c8343c" stroke-width="0.9" stroke-linejoin="round"/>
<rect x="415.05" y="74.89" width="2.7" height="2.7" fill="#c41020"/>
<rect x="421.69" y="73.49" width="2.7" height="2.7" fill="#c41020"/>
<rect x="441.61" y="73.03" width="2.7" height="2.7" fill="#c41020"/>
<rect x="454.89" y="53.25" width="2.7" height="2.7" fill="#c41020"/>
<rect x="481.45" y="32.78" width="2.7" height="2.7" fill="#c41020"/>
<rect x="494.73" y="56.28" width="2.7" height="2.7" fill="#c41020"/>
<rect x="508.01" y="82.34" width="2.7" height="2.7" fill="#c41020"/>
<polyline points="416.40,76.24 423.04,74.84 442.96,80.89 456.24,84.62 482.80,85.08 496.08,86.48 509.36,87.87" fill="none" stroke="#e8e870" stroke-width="0.9" stroke-linejoin="round"/>
<circle cx="416.40" cy="76.24" r="1.5" fill="#e6ea30"/>
<circle cx="423.04" cy="74.84" r="1.5" fill="#e6ea30"/>
<circle cx="442.96" cy="80.89" r="1.5" fill="#e6ea30"/>
<circle cx="456.24" cy="84.62" r="1.5" fill="#e6ea30"/>
<circle cx="482.80" cy="85.08" r="1.5" fill="#e6ea30"/>
<circle cx="496.08" cy="86.48" r="1.5" fill="#e6ea30"/>
<circle cx="509.36" cy="87.87" r="1.5" fill="#e6ea30"/>
<polyline points="416.40,76.24 423.04,71.59 442.96,78.57 456.24,84.15 482.80,84.62 496.08,86.01 509.36,87.41" fill="none" stroke="#bfeab5" stroke-width="0.9" stroke-linejoin="round"/>
<polygon points="416.40,74.44 418.05,77.44 414.75,77.44" fill="#b8eab0"/>
<polygon points="423.04,69.79 424.69,72.79 421.39,72.79" fill="#b8eab0"/>
<polygon points="442.96,76.77 444.61,79.77 441.31,79.77" fill="#b8eab0"/>
<polygon points="456.24,82.35 457.89,85.35 454.59,85.35" fill="#b8eab0"/>
<polygon points="482.80,82.82 484.45,85.82 481.15,85.82" fill="#b8eab0"/>
<polygon points="496.08,84.21 497.73,87.21 494.43,87.21" fill="#b8eab0"/>
<polygon points="509.36,85.61 511.01,88.61 507.71,88.61" fill="#b8eab0"/>
<polyline points="416.40,76.24 423.04,69.26 442.96,79.50 456.24,83.69 482.80,84.15 496.08,86.01 509.36,86.94" fill="none" stroke="#3cd83c" stroke-width="0.9" stroke-linejoin="round"/>
<polygon points="416.40,78.04 418.05,75.04 414.75,75.04" fill="#30cc30"/>
<polygon points="423.04,71.06 424.69,68.06 421.39,68.06" fill="#30cc30"/>
<polygon points="442.96,81.30 444.61,78.30 441.31,78.30" fill="#30cc30"/>
<polygon points="456.24,85.49 457.89,82.49 454.59,82.49" fill="#30cc30"/>
<polygon points="482.80,85.95 484.45,82.95 481.15,82.95" fill="#30cc30"/>
<polygon points="496.08,87.81 497.73,84.81 494.43,84.81" fill="#30cc30"/>
<polygon points="509.36,88.74 511.01,85.74 507.71,85.74" fill="#30cc30"/>
<polyline points="416.40,76.24 423.04,67.40 442.96,71.59 456.24,77.64 482.80,83.22 496.08,85.55 509.36,86.94" fill="none" stroke="#4a7c4a" stroke-width="0.9" stroke-linejoin="round"/>
<polygon points="416.40,74.24 418.40,76.24 416.40,78.24 414.40,76.24" fill="#2a6e35"/>
<polygon points="423.04,65.40 425.04,67.40 423.04,69.40 421.04,67.40" fill="#2a6e35"/>
<polygon points="442.96,69.59 444.96,71.59 442.96,73.59 440.96,71.59" fill="#2a6e35"/>
<polygon points="456.24,75.64 458.24,77.64 456.24,79.64 454.24,77.64" fill="#2a6e35"/>
<polygon points="482.80,81.22 484.80,83.22 482.80,85.22 480.80,83.22" fill="#2a6e35"/>
<polygon points="496.08,83.55 498.08,85.55 496.08,87.55 494.08,85.55" fill="#2a6e35"/>
<polygon points="509.36,84.94 511.36,86.94 509.36,88.94 507.36,86.94" fill="#2a6e35"/>
<text x="279.40" y="141.00" font-size="6.4" font-weight="bold" text-anchor="middle" fill="#222" stroke="#222" stroke-width="0.1" transform="rotate(-90 279.40 141.00)">MFI - CD69</text>
<line x1="298.30" y1="106.60" x2="298.30" y2="175.70" stroke="#222" stroke-width="0.9"/>
<line x1="296.70" y1="175.70" x2="298.30" y2="175.70" stroke="#222" stroke-width="0.7"/>
<text x="296.30" y="177.45" font-size="5.0" font-weight="bold" text-anchor="end" fill="#222" stroke="#222" stroke-width="0.1">0</text>
<line x1="296.70" y1="161.88" x2="298.30" y2="161.88" stroke="#222" stroke-width="0.7"/>
<text x="296.30" y="163.63" font-size="5.0" font-weight="bold" text-anchor="end" fill="#222" stroke="#222" stroke-width="0.1">100</text>
<line x1="296.70" y1="148.06" x2="298.30" y2="148.06" stroke="#222" stroke-width="0.7"/>
<text x="296.30" y="149.81" font-size="5.0" font-weight="bold" text-anchor="end" fill="#222" stroke="#222" stroke-width="0.1">200</text>
<line x1="296.70" y1="134.24" x2="298.30" y2="134.24" stroke="#222" stroke-width="0.7"/>
<text x="296.30" y="135.99" font-size="5.0" font-weight="bold" text-anchor="end" fill="#222" stroke="#222" stroke-width="0.1">300</text>
<line x1="296.70" y1="120.42" x2="298.30" y2="120.42" stroke="#222" stroke-width="0.7"/>
<text x="296.30" y="122.17" font-size="5.0" font-weight="bold" text-anchor="end" fill="#222" stroke="#222" stroke-width="0.1">400</text>
<line x1="296.70" y1="106.60" x2="298.30" y2="106.60" stroke="#222" stroke-width="0.7"/>
<text x="296.30" y="108.35" font-size="5.0" font-weight="bold" text-anchor="end" fill="#222" stroke="#222" stroke-width="0.1">500</text>
<line x1="298.30" y1="175.70" x2="397.90" y2="175.70" stroke="#222" stroke-width="0.9"/>
<line x1="298.30" y1="175.70" x2="298.30" y2="177.30" stroke="#222" stroke-width="0.7"/>
<text x="298.30" y="184.00" font-size="5.0" font-weight="bold" text-anchor="middle" fill="#222" stroke="#222" stroke-width="0.1">0</text>
<line x1="331.50" y1="175.70" x2="331.50" y2="177.30" stroke="#222" stroke-width="0.7"/>
<text x="331.50" y="184.00" font-size="5.0" font-weight="bold" text-anchor="middle" fill="#222" stroke="#222" stroke-width="0.1">5</text>
<line x1="364.70" y1="175.70" x2="364.70" y2="177.30" stroke="#222" stroke-width="0.7"/>
<text x="364.70" y="184.00" font-size="5.0" font-weight="bold" text-anchor="middle" fill="#222" stroke="#222" stroke-width="0.1">10</text>
<line x1="397.90" y1="175.70" x2="397.90" y2="177.30" stroke="#222" stroke-width="0.7"/>
<text x="397.90" y="184.00" font-size="5.0" font-weight="bold" text-anchor="middle" fill="#222" stroke="#222" stroke-width="0.1">15</text>
<polyline points="298.30,175.70 304.94,175.42 324.86,175.01 338.14,175.01 364.70,175.01 377.98,175.01 391.26,175.01" fill="none" stroke="#c8343c" stroke-width="1.6" stroke-linejoin="round"/>
<polyline points="298.30,175.70 304.94,175.42 324.86,175.01 338.14,175.01 364.70,175.01 377.98,175.01 391.26,175.01" fill="none" stroke="#e8e870" stroke-width="1.6" stroke-linejoin="round"/>
<polyline points="298.30,175.70 304.94,175.42 324.86,174.87 338.14,174.59 364.70,174.87 377.98,174.87 391.26,174.87" fill="none" stroke="#bfeab5" stroke-width="1.6" stroke-linejoin="round"/>
<polyline points="298.30,175.42 304.94,175.29 324.86,174.59 338.14,174.32 364.70,174.59 377.98,174.59 391.26,174.59" fill="none" stroke="#4a7c4a" stroke-width="1.6" stroke-linejoin="round"/>
<polyline points="298.30,175.70 304.94,175.42 324.86,174.59 338.14,174.32 364.70,174.59 377.98,174.59 391.26,174.59" fill="none" stroke="#3cd83c" stroke-width="1.6" stroke-linejoin="round"/>
<rect x="296.95" y="174.35" width="2.7" height="2.7" fill="#c41020"/>
<rect x="303.59" y="174.07" width="2.7" height="2.7" fill="#c41020"/>
<rect x="323.51" y="173.66" width="2.7" height="2.7" fill="#c41020"/>
<rect x="336.79" y="173.66" width="2.7" height="2.7" fill="#c41020"/>
<rect x="363.35" y="173.66" width="2.7" height="2.7" fill="#c41020"/>
<rect x="376.63" y="173.66" width="2.7" height="2.7" fill="#c41020"/>
<rect x="389.91" y="173.66" width="2.7" height="2.7" fill="#c41020"/>
<circle cx="298.30" cy="175.70" r="1.5" fill="#e6ea30"/>
<circle cx="304.94" cy="175.42" r="1.5" fill="#e6ea30"/>
<circle cx="324.86" cy="175.01" r="1.5" fill="#e6ea30"/>
<circle cx="338.14" cy="175.01" r="1.5" fill="#e6ea30"/>
<circle cx="364.70" cy="175.01" r="1.5" fill="#e6ea30"/>
<circle cx="377.98" cy="175.01" r="1.5" fill="#e6ea30"/>
<circle cx="391.26" cy="175.01" r="1.5" fill="#e6ea30"/>
<polygon points="298.30,173.90 299.95,176.90 296.65,176.90" fill="#b8eab0"/>
<polygon points="304.94,173.62 306.59,176.62 303.29,176.62" fill="#b8eab0"/>
<polygon points="324.86,173.07 326.51,176.07 323.21,176.07" fill="#b8eab0"/>
<polygon points="338.14,172.79 339.79,175.79 336.49,175.79" fill="#b8eab0"/>
<polygon points="364.70,173.07 366.35,176.07 363.05,176.07" fill="#b8eab0"/>
<polygon points="377.98,173.07 379.63,176.07 376.33,176.07" fill="#b8eab0"/>
<polygon points="391.26,173.07 392.91,176.07 389.61,176.07" fill="#b8eab0"/>
<polygon points="298.30,177.50 299.95,174.50 296.65,174.50" fill="#30cc30"/>
<polygon points="304.94,177.22 306.59,174.22 303.29,174.22" fill="#30cc30"/>
<polygon points="324.86,176.39 326.51,173.39 323.21,173.39" fill="#30cc30"/>
<polygon points="338.14,176.12 339.79,173.12 336.49,173.12" fill="#30cc30"/>
<polygon points="364.70,176.39 366.35,173.39 363.05,173.39" fill="#30cc30"/>
<polygon points="377.98,176.39 379.63,173.39 376.33,173.39" fill="#30cc30"/>
<polygon points="391.26,176.39 392.91,173.39 389.61,173.39" fill="#30cc30"/>
<polygon points="298.30,173.42 300.30,175.42 298.30,177.42 296.30,175.42" fill="#2a6e35"/>
<polygon points="304.94,173.29 306.94,175.29 304.94,177.29 302.94,175.29" fill="#2a6e35"/>
<polygon points="324.86,172.59 326.86,174.59 324.86,176.59 322.86,174.59" fill="#2a6e35"/>
<polygon points="338.14,172.32 340.14,174.32 338.14,176.32 336.14,174.32" fill="#2a6e35"/>
<polygon points="364.70,172.59 366.70,174.59 364.70,176.59 362.70,174.59" fill="#2a6e35"/>
<polygon points="377.98,172.59 379.98,174.59 377.98,176.59 375.98,174.59" fill="#2a6e35"/>
<polygon points="391.26,172.59 393.26,174.59 391.26,176.59 389.26,174.59" fill="#2a6e35"/>
<line x1="416.40" y1="106.60" x2="416.40" y2="175.70" stroke="#222" stroke-width="0.9"/>
<line x1="414.80" y1="175.70" x2="416.40" y2="175.70" stroke="#222" stroke-width="0.7"/>
<text x="414.40" y="177.45" font-size="5.0" font-weight="bold" text-anchor="end" fill="#222" stroke="#222" stroke-width="0.1">0</text>
<line x1="414.80" y1="161.88" x2="416.40" y2="161.88" stroke="#222" stroke-width="0.7"/>
<text x="414.40" y="163.63" font-size="5.0" font-weight="bold" text-anchor="end" fill="#222" stroke="#222" stroke-width="0.1">100</text>
<line x1="414.80" y1="148.06" x2="416.40" y2="148.06" stroke="#222" stroke-width="0.7"/>
<text x="414.40" y="149.81" font-size="5.0" font-weight="bold" text-anchor="end" fill="#222" stroke="#222" stroke-width="0.1">200</text>
<line x1="414.80" y1="134.24" x2="416.40" y2="134.24" stroke="#222" stroke-width="0.7"/>
<text x="414.40" y="135.99" font-size="5.0" font-weight="bold" text-anchor="end" fill="#222" stroke="#222" stroke-width="0.1">300</text>
<line x1="414.80" y1="120.42" x2="416.40" y2="120.42" stroke="#222" stroke-width="0.7"/>
<text x="414.40" y="122.17" font-size="5.0" font-weight="bold" text-anchor="end" fill="#222" stroke="#222" stroke-width="0.1">400</text>
<line x1="414.80" y1="106.60" x2="416.40" y2="106.60" stroke="#222" stroke-width="0.7"/>
<text x="414.40" y="108.35" font-size="5.0" font-weight="bold" text-anchor="end" fill="#222" stroke="#222" stroke-width="0.1">500</text>
<line x1="416.40" y1="175.70" x2="516.00" y2="175.70" stroke="#222" stroke-width="0.9"/>
<line x1="416.40" y1="175.70" x2="416.40" y2="177.30" stroke="#222" stroke-width="0.7"/>
<text x="416.40" y="184.00" font-size="5.0" font-weight="bold" text-anchor="middle" fill="#222" stroke="#222" stroke-width="0.1">0</text>
<line x1="449.60" y1="175.70" x2="449.60" y2="177.30" stroke="#222" stroke-width="0.7"/>
<text x="449.60" y="184.00" font-size="5.0" font-weight="bold" text-anchor="middle" fill="#222" stroke="#222" stroke-width="0.1">5</text>
<line x1="482.80" y1="175.70" x2="482.80" y2="177.30" stroke="#222" stroke-width="0.7"/>
<text x="482.80" y="184.00" font-size="5.0" font-weight="bold" text-anchor="middle" fill="#222" stroke="#222" stroke-width="0.1">10</text>
<line x1="516.00" y1="175.70" x2="516.00" y2="177.30" stroke="#222" stroke-width="0.7"/>
<text x="516.00" y="184.00" font-size="5.0" font-weight="bold" text-anchor="middle" fill="#222" stroke="#222" stroke-width="0.1">15</text>
<polyline points="416.40,138.39 423.04,142.53 442.96,138.39 456.24,112.13 482.80,145.30 496.08,138.39 509.36,152.21" fill="none" stroke="#c8343c" stroke-width="0.9" stroke-linejoin="round"/>
<rect x="415.05" y="137.04" width="2.7" height="2.7" fill="#c41020"/>
<rect x="421.69" y="141.18" width="2.7" height="2.7" fill="#c41020"/>
<rect x="441.61" y="137.04" width="2.7" height="2.7" fill="#c41020"/>
<rect x="454.89" y="110.78" width="2.7" height="2.7" fill="#c41020"/>
<rect x="481.45" y="143.95" width="2.7" height="2.7" fill="#c41020"/>
<rect x="494.73" y="137.04" width="2.7" height="2.7" fill="#c41020"/>
<rect x="508.01" y="150.86" width="2.7" height="2.7" fill="#c41020"/>
<polyline points="416.40,138.39 423.04,140.46 442.96,154.97 456.24,155.66 482.80,157.04 496.08,153.59 509.36,152.90" fill="none" stroke="#e8e870" stroke-width="0.9" stroke-linejoin="round"/>
<circle cx="416.40" cy="138.39" r="1.5" fill="#e6ea30"/>
<circle cx="423.04" cy="140.46" r="1.5" fill="#e6ea30"/>
<circle cx="442.96" cy="154.97" r="1.5" fill="#e6ea30"/>
<circle cx="456.24" cy="155.66" r="1.5" fill="#e6ea30"/>
<circle cx="482.80" cy="157.04" r="1.5" fill="#e6ea30"/>
<circle cx="496.08" cy="153.59" r="1.5" fill="#e6ea30"/>
<circle cx="509.36" cy="152.90" r="1.5" fill="#e6ea30"/>
<polyline points="416.40,138.39 423.04,139.77 442.96,153.59 456.24,154.28 482.80,155.66 496.08,152.90 509.36,152.21" fill="none" stroke="#bfeab5" stroke-width="0.9" stroke-linejoin="round"/>
<polygon points="416.40,136.59 418.05,139.59 414.75,139.59" fill="#b8eab0"/>
<polygon points="423.04,137.97 424.69,140.97 421.39,140.97" fill="#b8eab0"/>
<polygon points="442.96,151.79 444.61,154.79 441.31,154.79" fill="#b8eab0"/>
<polygon points="456.24,152.48 457.89,155.48 454.59,155.48" fill="#b8eab0"/>
<polygon points="482.80,153.86 484.45,156.86 481.15,156.86" fill="#b8eab0"/>
<polygon points="496.08,151.10 497.73,154.10 494.43,154.10" fill="#b8eab0"/>
<polygon points="509.36,150.41 511.01,153.41 507.71,153.41" fill="#b8eab0"/>
<polyline points="416.40,138.39 423.04,139.49 442.96,152.90 456.24,153.59 482.80,154.97 496.08,152.90 509.36,152.21" fill="none" stroke="#3cd83c" stroke-width="0.9" stroke-linejoin="round"/>
<polygon points="416.40,140.19 418.05,137.19 414.75,137.19" fill="#30cc30"/>
<polygon points="423.04,141.29 424.69,138.29 421.39,138.29" fill="#30cc30"/>
<polygon points="442.96,154.70 444.61,151.70 441.31,151.70" fill="#30cc30"/>
<polygon points="456.24,155.39 457.89,152.39 454.59,152.39" fill="#30cc30"/>
<polygon points="482.80,156.77 484.45,153.77 481.15,153.77" fill="#30cc30"/>
<polygon points="496.08,154.70 497.73,151.70 494.43,151.70" fill="#30cc30"/>
<polygon points="509.36,154.01 511.01,151.01 507.71,151.01" fill="#30cc30"/>
<polyline points="416.40,138.39 423.04,139.08 442.96,145.30 456.24,141.84 482.80,154.28 496.08,150.13 509.36,152.90" fill="none" stroke="#4a7c4a" stroke-width="0.9" stroke-linejoin="round"/>
<polygon points="416.40,136.39 418.40,138.39 416.40,140.39 414.40,138.39" fill="#2a6e35"/>
<polygon points="423.04,137.08 425.04,139.08 423.04,141.08 421.04,139.08" fill="#2a6e35"/>
<polygon points="442.96,143.30 444.96,145.30 442.96,147.30 440.96,145.30" fill="#2a6e35"/>
<polygon points="456.24,139.84 458.24,141.84 456.24,143.84 454.24,141.84" fill="#2a6e35"/>
<polygon points="482.80,152.28 484.80,154.28 482.80,156.28 480.80,154.28" fill="#2a6e35"/>
<polygon points="496.08,148.13 498.08,150.13 496.08,152.13 494.08,150.13" fill="#2a6e35"/>
<polygon points="509.36,150.90 511.36,152.90 509.36,154.90 507.36,152.90" fill="#2a6e35"/>
<text x="279.40" y="225.50" font-size="6.4" font-weight="bold" text-anchor="middle" fill="#222" stroke="#222" stroke-width="0.1" transform="rotate(-90 279.40 225.50)">MFI - HLA-DR</text>
<line x1="298.30" y1="191.60" x2="298.30" y2="260.80" stroke="#222" stroke-width="0.9"/>
<line x1="296.70" y1="260.80" x2="298.30" y2="260.80" stroke="#222" stroke-width="0.7"/>
<text x="296.30" y="262.55" font-size="5.0" font-weight="bold" text-anchor="end" fill="#222" stroke="#222" stroke-width="0.1">0</text>
<line x1="296.70" y1="246.96" x2="298.30" y2="246.96" stroke="#222" stroke-width="0.7"/>
<text x="296.30" y="248.71" font-size="5.0" font-weight="bold" text-anchor="end" fill="#222" stroke="#222" stroke-width="0.1">500</text>
<line x1="296.70" y1="233.12" x2="298.30" y2="233.12" stroke="#222" stroke-width="0.7"/>
<text x="296.30" y="234.87" font-size="5.0" font-weight="bold" text-anchor="end" fill="#222" stroke="#222" stroke-width="0.1">1000</text>
<line x1="296.70" y1="219.28" x2="298.30" y2="219.28" stroke="#222" stroke-width="0.7"/>
<text x="296.30" y="221.03" font-size="5.0" font-weight="bold" text-anchor="end" fill="#222" stroke="#222" stroke-width="0.1">1500</text>
<line x1="296.70" y1="205.44" x2="298.30" y2="205.44" stroke="#222" stroke-width="0.7"/>
<text x="296.30" y="207.19" font-size="5.0" font-weight="bold" text-anchor="end" fill="#222" stroke="#222" stroke-width="0.1">2000</text>
<line x1="296.70" y1="191.60" x2="298.30" y2="191.60" stroke="#222" stroke-width="0.7"/>
<text x="296.30" y="193.35" font-size="5.0" font-weight="bold" text-anchor="end" fill="#222" stroke="#222" stroke-width="0.1">2500</text>
<line x1="298.30" y1="260.80" x2="397.90" y2="260.80" stroke="#222" stroke-width="0.9"/>
<line x1="298.30" y1="260.80" x2="298.30" y2="262.40" stroke="#222" stroke-width="0.7"/>
<text x="298.30" y="269.20" font-size="5.0" font-weight="bold" text-anchor="middle" fill="#222" stroke="#222" stroke-width="0.1">0</text>
<line x1="331.50" y1="260.80" x2="331.50" y2="262.40" stroke="#222" stroke-width="0.7"/>
<text x="331.50" y="269.20" font-size="5.0" font-weight="bold" text-anchor="middle" fill="#222" stroke="#222" stroke-width="0.1">5</text>
<line x1="364.70" y1="260.80" x2="364.70" y2="262.40" stroke="#222" stroke-width="0.7"/>
<text x="364.70" y="269.20" font-size="5.0" font-weight="bold" text-anchor="middle" fill="#222" stroke="#222" stroke-width="0.1">10</text>
<line x1="397.90" y1="260.80" x2="397.90" y2="262.40" stroke="#222" stroke-width="0.7"/>
<text x="397.90" y="269.20" font-size="5.0" font-weight="bold" text-anchor="middle" fill="#222" stroke="#222" stroke-width="0.1">15</text>
<polyline points="298.30,260.80 304.94,260.25 324.86,260.25 338.14,259.69 364.70,260.25 377.98,259.69 391.26,260.80" fill="none" stroke="#c8343c" stroke-width="1.4" stroke-linejoin="round"/>
<polyline points="298.30,260.80 304.94,260.52 324.86,260.52 338.14,260.25 364.70,260.52 377.98,259.97 391.26,260.25" fill="none" stroke="#e8e870" stroke-width="1.4" stroke-linejoin="round"/>
<polyline points="298.30,260.80 304.94,260.25 324.86,260.25 338.14,259.69 364.70,260.25 377.98,259.14 391.26,260.25" fill="none" stroke="#bfeab5" stroke-width="1.4" stroke-linejoin="round"/>
<polyline points="298.30,260.25 304.94,259.69 324.86,259.97 338.14,258.59 364.70,259.97 377.98,258.03 391.26,260.52" fill="none" stroke="#4a7c4a" stroke-width="1.4" stroke-linejoin="round"/>
<polyline points="298.30,260.80 304.94,259.97 324.86,259.97 338.14,259.14 364.70,259.97 377.98,258.59 391.26,259.97" fill="none" stroke="#3cd83c" stroke-width="1.4" stroke-linejoin="round"/>
<rect x="296.95" y="259.45" width="2.7" height="2.7" fill="#c41020"/>
<rect x="303.59" y="258.90" width="2.7" height="2.7" fill="#c41020"/>
<rect x="323.51" y="258.90" width="2.7" height="2.7" fill="#c41020"/>
<rect x="336.79" y="258.34" width="2.7" height="2.7" fill="#c41020"/>
<rect x="363.35" y="258.90" width="2.7" height="2.7" fill="#c41020"/>
<rect x="376.63" y="258.34" width="2.7" height="2.7" fill="#c41020"/>
<rect x="389.91" y="259.45" width="2.7" height="2.7" fill="#c41020"/>
<circle cx="298.30" cy="260.80" r="1.5" fill="#e6ea30"/>
<circle cx="304.94" cy="260.52" r="1.5" fill="#e6ea30"/>
<circle cx="324.86" cy="260.52" r="1.5" fill="#e6ea30"/>
<circle cx="338.14" cy="260.25" r="1.5" fill="#e6ea30"/>
<circle cx="364.70" cy="260.52" r="1.5" fill="#e6ea30"/>
<circle cx="377.98" cy="259.97" r="1.5" fill="#e6ea30"/>
<circle cx="391.26" cy="260.25" r="1.5" fill="#e6ea30"/>
<polygon points="298.30,259.00 299.95,262.00 296.65,262.00" fill="#b8eab0"/>
<polygon points="304.94,258.45 306.59,261.45 303.29,261.45" fill="#b8eab0"/>
<polygon points="324.86,258.45 326.51,261.45 323.21,261.45" fill="#b8eab0"/>
<polygon points="338.14,257.89 339.79,260.89 336.49,260.89" fill="#b8eab0"/>
<polygon points="364.70,258.45 366.35,261.45 363.05,261.45" fill="#b8eab0"/>
<polygon points="377.98,257.34 379.63,260.34 376.33,260.34" fill="#b8eab0"/>
<polygon points="391.26,258.45 392.91,261.45 389.61,261.45" fill="#b8eab0"/>
<polygon points="298.30,262.60 299.95,259.60 296.65,259.60" fill="#30cc30"/>
<polygon points="304.94,261.77 306.59,258.77 303.29,258.77" fill="#30cc30"/>
<polygon points="324.86,261.77 326.51,258.77 323.21,258.77" fill="#30cc30"/>
<polygon points="338.14,260.94 339.79,257.94 336.49,257.94" fill="#30cc30"/>
<polygon points="364.70,261.77 366.35,258.77 363.05,258.77" fill="#30cc30"/>
<polygon points="377.98,260.39 379.63,257.39 376.33,257.39" fill="#30cc30"/>
<polygon points="391.26,261.77 392.91,258.77 389.61,258.77" fill="#30cc30"/>
<polygon points="298.30,258.25 300.30,260.25 298.30,262.25 296.30,260.25" fill="#2a6e35"/>
<polygon points="304.94,257.69 306.94,259.69 304.94,261.69 302.94,259.69" fill="#2a6e35"/>
<polygon points="324.86,257.97 326.86,259.97 324.86,261.97 322.86,259.97" fill="#2a6e35"/>
<polygon points="338.14,256.59 340.14,258.59 338.14,260.59 336.14,258.59" fill="#2a6e35"/>
<polygon points="364.70,257.97 366.70,259.97 364.70,261.97 362.70,259.97" fill="#2a6e35"/>
<polygon points="377.98,256.03 379.98,258.03 377.98,260.03 375.98,258.03" fill="#2a6e35"/>
<polygon points="391.26,258.52 393.26,260.52 391.26,262.52 389.26,260.52" fill="#2a6e35"/>
<text x="349.43" y="279.00" font-size="7.0" font-weight="bold" text-anchor="middle" fill="#222" stroke="#222" stroke-width="0.1">Days</text>
<line x1="416.40" y1="191.30" x2="416.40" y2="260.80" stroke="#222" stroke-width="0.9"/>
<line x1="414.80" y1="260.80" x2="416.40" y2="260.80" stroke="#222" stroke-width="0.7"/>
<text x="414.40" y="262.55" font-size="5.0" font-weight="bold" text-anchor="end" fill="#222" stroke="#222" stroke-width="0.1">0</text>
<line x1="414.80" y1="243.43" x2="416.40" y2="243.43" stroke="#222" stroke-width="0.7"/>
<text x="414.40" y="245.18" font-size="5.0" font-weight="bold" text-anchor="end" fill="#222" stroke="#222" stroke-width="0.1">500</text>
<line x1="414.80" y1="226.05" x2="416.40" y2="226.05" stroke="#222" stroke-width="0.7"/>
<text x="414.40" y="227.80" font-size="5.0" font-weight="bold" text-anchor="end" fill="#222" stroke="#222" stroke-width="0.1">1000</text>
<line x1="414.80" y1="208.68" x2="416.40" y2="208.68" stroke="#222" stroke-width="0.7"/>
<text x="414.40" y="210.43" font-size="5.0" font-weight="bold" text-anchor="end" fill="#222" stroke="#222" stroke-width="0.1">1500</text>
<line x1="414.80" y1="191.30" x2="416.40" y2="191.30" stroke="#222" stroke-width="0.7"/>
<text x="414.40" y="193.05" font-size="5.0" font-weight="bold" text-anchor="end" fill="#222" stroke="#222" stroke-width="0.1">2000</text>
<line x1="416.40" y1="260.80" x2="516.00" y2="260.80" stroke="#222" stroke-width="0.9"/>
<line x1="416.40" y1="260.80" x2="416.40" y2="262.40" stroke="#222" stroke-width="0.7"/>
<text x="416.40" y="269.20" font-size="5.0" font-weight="bold" text-anchor="middle" fill="#222" stroke="#222" stroke-width="0.1">0</text>
<line x1="449.60" y1="260.80" x2="449.60" y2="262.40" stroke="#222" stroke-width="0.7"/>
<text x="449.60" y="269.20" font-size="5.0" font-weight="bold" text-anchor="middle" fill="#222" stroke="#222" stroke-width="0.1">5</text>
<line x1="482.80" y1="260.80" x2="482.80" y2="262.40" stroke="#222" stroke-width="0.7"/>
<text x="482.80" y="269.20" font-size="5.0" font-weight="bold" text-anchor="middle" fill="#222" stroke="#222" stroke-width="0.1">10</text>
<line x1="516.00" y1="260.80" x2="516.00" y2="262.40" stroke="#222" stroke-width="0.7"/>
<text x="516.00" y="269.20" font-size="5.0" font-weight="bold" text-anchor="middle" fill="#222" stroke="#222" stroke-width="0.1">15</text>
<polyline points="416.40,236.48 423.04,229.53 442.96,234.74 456.24,211.46 482.80,201.73 496.08,236.48 509.36,248.64" fill="none" stroke="#c8343c" stroke-width="0.9" stroke-linejoin="round"/>
<rect x="415.05" y="235.13" width="2.7" height="2.7" fill="#c41020"/>
<rect x="421.69" y="228.18" width="2.7" height="2.7" fill="#c41020"/>
<rect x="441.61" y="233.39" width="2.7" height="2.7" fill="#c41020"/>
<rect x="454.89" y="210.11" width="2.7" height="2.7" fill="#c41020"/>
<rect x="481.45" y="200.38" width="2.7" height="2.7" fill="#c41020"/>
<rect x="494.73" y="235.13" width="2.7" height="2.7" fill="#c41020"/>
<rect x="508.01" y="247.29" width="2.7" height="2.7" fill="#c41020"/>
<polyline points="416.40,236.48 423.04,237.17 442.96,253.85 456.24,253.50 482.80,254.20 496.08,251.77 509.36,247.94" fill="none" stroke="#e8e870" stroke-width="0.9" stroke-linejoin="round"/>
<circle cx="416.40" cy="236.48" r="1.5" fill="#e6ea30"/>
<circle cx="423.04" cy="237.17" r="1.5" fill="#e6ea30"/>
<circle cx="442.96" cy="253.85" r="1.5" fill="#e6ea30"/>
<circle cx="456.24" cy="253.50" r="1.5" fill="#e6ea30"/>
<circle cx="482.80" cy="254.20" r="1.5" fill="#e6ea30"/>
<circle cx="496.08" cy="251.77" r="1.5" fill="#e6ea30"/>
<circle cx="509.36" cy="247.94" r="1.5" fill="#e6ea30"/>
<polyline points="416.40,236.48 423.04,234.39 442.96,252.46 456.24,252.46 482.80,253.16 496.08,251.42 509.36,247.59" fill="none" stroke="#bfeab5" stroke-width="0.9" stroke-linejoin="round"/>
<polygon points="416.40,234.68 418.05,237.68 414.75,237.68" fill="#b8eab0"/>
<polygon points="423.04,232.59 424.69,235.59 421.39,235.59" fill="#b8eab0"/>
<polygon points="442.96,250.66 444.61,253.66 441.31,253.66" fill="#b8eab0"/>
<polygon points="456.24,250.66 457.89,253.66 454.59,253.66" fill="#b8eab0"/>
<polygon points="482.80,251.35 484.45,254.35 481.15,254.35" fill="#b8eab0"/>
<polygon points="496.08,249.62 497.73,252.62 494.43,252.62" fill="#b8eab0"/>
<polygon points="509.36,245.79 511.01,248.79 507.71,248.79" fill="#b8eab0"/>
<polyline points="416.40,236.48 423.04,233.00 442.96,251.77 456.24,252.11 482.80,252.81 496.08,251.42 509.36,247.59" fill="none" stroke="#3cd83c" stroke-width="0.9" stroke-linejoin="round"/>
<polygon points="416.40,238.28 418.05,235.28 414.75,235.28" fill="#30cc30"/>
<polygon points="423.04,234.80 424.69,231.80 421.39,231.80" fill="#30cc30"/>
<polygon points="442.96,253.57 444.61,250.57 441.31,250.57" fill="#30cc30"/>
<polygon points="456.24,253.91 457.89,250.91 454.59,250.91" fill="#30cc30"/>
<polygon points="482.80,254.61 484.45,251.61 481.15,251.61" fill="#30cc30"/>
<polygon points="496.08,253.22 497.73,250.22 494.43,250.22" fill="#30cc30"/>
<polygon points="509.36,249.40 511.01,246.40 507.71,246.40" fill="#30cc30"/>
<polyline points="416.40,236.48 423.04,229.53 442.96,230.57 456.24,240.30 482.80,249.68 496.08,249.68 509.36,250.03" fill="none" stroke="#4a7c4a" stroke-width="0.9" stroke-linejoin="round"/>
<polygon points="416.40,234.48 418.40,236.48 416.40,238.48 414.40,236.48" fill="#2a6e35"/>
<polygon points="423.04,227.53 425.04,229.53 423.04,231.53 421.04,229.53" fill="#2a6e35"/>
<polygon points="442.96,228.57 444.96,230.57 442.96,232.57 440.96,230.57" fill="#2a6e35"/>
<polygon points="456.24,238.30 458.24,240.30 456.24,242.30 454.24,240.30" fill="#2a6e35"/>
<polygon points="482.80,247.68 484.80,249.68 482.80,251.68 480.80,249.68" fill="#2a6e35"/>
<polygon points="496.08,247.68 498.08,249.68 496.08,251.68 494.08,249.68" fill="#2a6e35"/>
<polygon points="509.36,248.03 511.36,250.03 509.36,252.03 507.36,250.03" fill="#2a6e35"/>
<text x="467.53" y="279.00" font-size="7.0" font-weight="bold" text-anchor="middle" fill="#222" stroke="#222" stroke-width="0.1">Days</text>
<line x1="299.50" y1="297.30" x2="310.00" y2="297.30" stroke="#eef080" stroke-width="1.0"/>
<circle cx="305.00" cy="297.30" r="2.3" fill="#e4f000"/>
<text x="314.00" y="299.60" font-size="6.8" text-anchor="start" fill="#222" stroke="#222" stroke-width="0.22">Untreated</text>
<line x1="362.00" y1="297.30" x2="373.00" y2="297.30" stroke="#c83040" stroke-width="1.0"/>
<circle cx="367.30" cy="297.30" r="2.0" fill="#c81020"/>
<text x="377.00" y="299.60" font-size="6.8" text-anchor="start" fill="#222" stroke="#222" stroke-width="0.22">IL-2 100 U/ml</text>
<line x1="299.60" y1="312.00" x2="309.60" y2="312.00" stroke="#c8dcc8" stroke-width="1.0"/>
<polygon points="304.80,309.60 307.00,313.60 302.60,313.60" fill="#b8e8b0"/>
<text x="314.00" y="314.30" font-size="6.8" text-anchor="start" fill="#222" stroke="#222" stroke-width="0.22">IL-7 0.2 ng/ml</text>
<line x1="361.80" y1="312.00" x2="372.60" y2="312.00" stroke="#3a6e3a" stroke-width="1.0"/>
<polygon points="367.00,314.52 369.31,310.32 364.69,310.32" fill="#22cc22"/>
<text x="377.00" y="314.30" font-size="6.8" text-anchor="start" fill="#222" stroke="#222" stroke-width="0.22">IL-7 1 ng/ml</text>
<line x1="421.40" y1="312.00" x2="430.30" y2="312.00" stroke="#2f5f2f" stroke-width="1.0"/>
<polygon points="425.60,309.50 428.10,312.00 425.60,314.50 423.10,312.00" fill="#1f6a1f"/>
<text x="436.00" y="314.30" font-size="6.8" text-anchor="start" fill="#222" stroke="#222" stroke-width="0.22">IL-7 5 ng/ml</text>
<text x="4.50" y="137.60" font-size="11.5" font-weight="bold" text-anchor="start" fill="#000" stroke="#000" stroke-width="0.1">C</text>
<text x="67.85" y="140.90" font-size="8.4" text-anchor="middle" fill="#111" stroke="#111" stroke-width="0.22">IL-2 100 U/ml</text>
<text x="134.95" y="140.90" font-size="8.4" text-anchor="middle" fill="#111" stroke="#111" stroke-width="0.22">IL-7 0.2 ng/ml</text>
<text x="202.05" y="140.90" font-size="8.4" text-anchor="middle" fill="#111" stroke="#111" stroke-width="0.22">IL-7 5 ng/ml</text>
<text x="18.60" y="166.00" font-size="8.3" text-anchor="middle" fill="#111" stroke="#111" stroke-width="0.22">Naive</text>
<path d="M39.40,178.90 L39.40,178.90 L39.87,178.90 L40.35,178.90 L40.82,178.90 L41.30,178.90 L41.77,178.90 L42.24,178.90 L42.72,178.90 L43.19,178.90 L43.67,178.90 L44.14,178.90 L44.62,178.90 L45.09,178.90 L45.56,178.90 L46.04,178.90 L46.51,178.90 L46.99,178.90 L47.46,178.90 L47.94,178.90 L48.41,178.90 L48.88,178.90 L49.36,178.90 L49.83,178.90 L50.31,178.90 L50.78,178.90 L51.25,178.89 L51.73,178.89 L52.20,178.88 L52.68,178.87 L53.15,178.85 L53.62,178.82 L54.10,178.77 L54.57,178.69 L55.05,178.59 L55.52,178.43 L56.00,178.21 L56.47,177.91 L56.94,177.49 L57.42,176.94 L57.89,176.22 L58.37,175.30 L58.84,174.16 L59.31,172.76 L59.79,171.09 L60.26,169.15 L60.74,166.94 L61.21,164.49 L61.69,161.86 L62.16,159.10 L62.63,156.31 L63.11,153.59 L63.58,151.04 L64.06,148.79 L64.53,146.95 L65.00,145.59 L65.48,144.80 L65.95,144.61 L66.43,144.87 L66.90,145.49 L67.38,146.45 L67.85,147.73 L68.32,149.28 L68.80,151.06 L69.27,153.01 L69.75,155.08 L70.22,157.23 L70.69,159.39 L71.17,161.53 L71.64,163.60 L72.12,165.57 L72.59,167.41 L73.07,169.11 L73.54,170.64 L74.01,172.01 L74.49,173.21 L74.96,174.26 L75.44,175.15 L75.91,175.91 L76.38,176.53 L76.86,177.05 L77.33,177.47 L77.81,177.81 L78.28,178.07 L78.76,178.28 L79.23,178.44 L79.70,178.56 L80.18,178.66 L80.65,178.73 L81.13,178.78 L81.60,178.81 L82.07,178.84 L82.55,178.86 L83.02,178.87 L83.50,178.88 L83.97,178.89 L84.45,178.89 L84.92,178.89 L85.39,178.90 L85.87,178.90 L86.34,178.90 L86.82,178.90 L87.29,178.90 L87.76,178.90 L88.24,178.90 L88.71,178.90 L89.19,178.90 L89.66,178.90 L90.14,178.90 L90.61,178.90 L91.08,178.90 L91.56,178.90 L92.03,178.90 L92.51,178.90 L92.98,178.90 L93.45,178.90 L93.93,178.90 L94.40,178.90 L94.88,178.90 L95.35,178.90 L95.83,178.90 L96.30,178.90 L96.30,178.90Z" fill="#808080" stroke="#777" stroke-width="0.3"/>
<path d="M39.40,178.89 L39.87,178.89 L40.35,178.88 L40.82,178.87 L41.30,178.86 L41.77,178.85 L42.24,178.83 L42.72,178.80 L43.19,178.77 L43.67,178.72 L44.14,178.66 L44.62,178.59 L45.09,178.49 L45.56,178.36 L46.04,178.21 L46.51,178.02 L46.99,177.78 L47.46,177.49 L47.94,177.14 L48.41,176.73 L48.88,176.24 L49.36,175.66 L49.83,175.00 L50.31,174.25 L50.78,173.39 L51.25,172.43 L51.73,171.37 L52.20,170.21 L52.68,168.96 L53.15,167.63 L53.62,166.22 L54.10,164.77 L54.57,163.27 L55.05,161.77 L55.52,160.29 L56.00,158.85 L56.47,157.48 L56.94,156.21 L57.42,155.07 L57.89,154.09 L58.37,153.29 L58.84,152.69 L59.31,152.31 L59.79,152.15 L60.26,152.30 L60.74,152.96 L61.21,154.08 L61.69,155.59 L62.16,157.43 L62.63,159.49 L63.11,161.67 L63.58,163.88 L64.06,166.02 L64.53,168.02 L65.00,169.82 L65.48,171.39 L65.95,172.70 L66.43,173.75 L66.90,174.54 L67.38,175.10 L67.85,175.45 L68.32,175.62 L68.80,175.66 L69.27,175.59 L69.75,175.45 L70.22,175.27 L70.69,175.09 L71.17,174.93 L71.64,174.81 L72.12,174.75 L72.59,174.76 L73.07,174.85 L73.54,175.00 L74.01,175.21 L74.49,175.48 L74.96,175.79 L75.44,176.13 L75.91,176.47 L76.38,176.82 L76.86,177.14 L77.33,177.45 L77.81,177.72 L78.28,177.97 L78.76,178.17 L79.23,178.34 L79.70,178.48 L80.18,178.59 L80.65,178.68 L81.13,178.74 L81.60,178.79 L82.07,178.83 L82.55,178.85 L83.02,178.87 L83.50,178.88 L83.97,178.89 L84.45,178.89 L84.92,178.90 L85.39,178.90 L85.87,178.90 L86.34,178.90 L86.82,178.90 L87.29,178.90 L87.76,178.90 L88.24,178.90 L88.71,178.90 L89.19,178.90 L89.66,178.90 L90.14,178.90 L90.61,178.90 L91.08,178.90 L91.56,178.90 L92.03,178.90 L92.51,178.90 L92.98,178.90 L93.45,178.90 L93.93,178.90 L94.40,178.90 L94.88,178.90 L95.35,178.90 L95.83,178.90 L96.30,178.90" fill="none" stroke="#000" stroke-width="0.95" stroke-linejoin="round"/>
<rect x="39.50" y="144.50" width="57.00" height="34.00" fill="none" stroke="#333" stroke-width="1"/>
<line x1="42.24" y1="178.90" x2="42.24" y2="181.30" stroke="#111" stroke-width="0.75"/>
<line x1="43.95" y1="178.90" x2="43.95" y2="180.70" stroke="#111" stroke-width="0.75"/>
<line x1="46.80" y1="178.90" x2="46.80" y2="181.90" stroke="#111" stroke-width="0.75"/>
<line x1="50.05" y1="178.90" x2="50.05" y2="181.10" stroke="#111" stroke-width="0.75"/>
<line x1="51.96" y1="178.90" x2="51.96" y2="181.10" stroke="#111" stroke-width="0.75"/>
<line x1="53.31" y1="178.90" x2="53.31" y2="181.10" stroke="#111" stroke-width="0.75"/>
<line x1="54.35" y1="178.90" x2="54.35" y2="181.10" stroke="#111" stroke-width="0.75"/>
<line x1="55.21" y1="178.90" x2="55.21" y2="181.10" stroke="#111" stroke-width="0.75"/>
<line x1="55.93" y1="178.90" x2="55.93" y2="181.10" stroke="#111" stroke-width="0.75"/>
<line x1="56.56" y1="178.90" x2="56.56" y2="181.10" stroke="#111" stroke-width="0.75"/>
<line x1="57.11" y1="178.90" x2="57.11" y2="181.10" stroke="#111" stroke-width="0.75"/>
<line x1="57.61" y1="178.90" x2="57.61" y2="181.90" stroke="#111" stroke-width="0.75"/>
<line x1="60.35" y1="178.90" x2="60.35" y2="181.10" stroke="#111" stroke-width="0.75"/>
<line x1="61.95" y1="178.90" x2="61.95" y2="181.10" stroke="#111" stroke-width="0.75"/>
<line x1="63.09" y1="178.90" x2="63.09" y2="181.10" stroke="#111" stroke-width="0.75"/>
<line x1="63.97" y1="178.90" x2="63.97" y2="181.10" stroke="#111" stroke-width="0.75"/>
<line x1="64.69" y1="178.90" x2="64.69" y2="181.10" stroke="#111" stroke-width="0.75"/>
<line x1="65.30" y1="178.90" x2="65.30" y2="181.10" stroke="#111" stroke-width="0.75"/>
<line x1="65.83" y1="178.90" x2="65.83" y2="181.10" stroke="#111" stroke-width="0.75"/>
<line x1="66.30" y1="178.90" x2="66.30" y2="181.10" stroke="#111" stroke-width="0.75"/>
<line x1="66.71" y1="178.90" x2="66.71" y2="181.90" stroke="#111" stroke-width="0.75"/>
<line x1="69.28" y1="178.90" x2="69.28" y2="181.10" stroke="#111" stroke-width="0.75"/>
<line x1="70.78" y1="178.90" x2="70.78" y2="181.10" stroke="#111" stroke-width="0.75"/>
<line x1="71.85" y1="178.90" x2="71.85" y2="181.10" stroke="#111" stroke-width="0.75"/>
<line x1="72.68" y1="178.90" x2="72.68" y2="181.10" stroke="#111" stroke-width="0.75"/>
<line x1="73.35" y1="178.90" x2="73.35" y2="181.10" stroke="#111" stroke-width="0.75"/>
<line x1="73.92" y1="178.90" x2="73.92" y2="181.10" stroke="#111" stroke-width="0.75"/>
<line x1="74.42" y1="178.90" x2="74.42" y2="181.10" stroke="#111" stroke-width="0.75"/>
<line x1="74.86" y1="178.90" x2="74.86" y2="181.10" stroke="#111" stroke-width="0.75"/>
<line x1="75.25" y1="178.90" x2="75.25" y2="181.90" stroke="#111" stroke-width="0.75"/>
<line x1="77.82" y1="178.90" x2="77.82" y2="181.10" stroke="#111" stroke-width="0.75"/>
<line x1="79.32" y1="178.90" x2="79.32" y2="181.10" stroke="#111" stroke-width="0.75"/>
<line x1="80.39" y1="178.90" x2="80.39" y2="181.10" stroke="#111" stroke-width="0.75"/>
<line x1="81.21" y1="178.90" x2="81.21" y2="181.10" stroke="#111" stroke-width="0.75"/>
<line x1="81.89" y1="178.90" x2="81.89" y2="181.10" stroke="#111" stroke-width="0.75"/>
<line x1="82.46" y1="178.90" x2="82.46" y2="181.10" stroke="#111" stroke-width="0.75"/>
<line x1="82.95" y1="178.90" x2="82.95" y2="181.10" stroke="#111" stroke-width="0.75"/>
<line x1="83.39" y1="178.90" x2="83.39" y2="181.10" stroke="#111" stroke-width="0.75"/>
<line x1="83.78" y1="178.90" x2="83.78" y2="181.90" stroke="#111" stroke-width="0.75"/>
<line x1="86.35" y1="178.90" x2="86.35" y2="181.10" stroke="#111" stroke-width="0.75"/>
<line x1="87.85" y1="178.90" x2="87.85" y2="181.10" stroke="#111" stroke-width="0.75"/>
<line x1="88.92" y1="178.90" x2="88.92" y2="181.10" stroke="#111" stroke-width="0.75"/>
<line x1="89.75" y1="178.90" x2="89.75" y2="181.10" stroke="#111" stroke-width="0.75"/>
<line x1="90.42" y1="178.90" x2="90.42" y2="181.10" stroke="#111" stroke-width="0.75"/>
<line x1="90.99" y1="178.90" x2="90.99" y2="181.10" stroke="#111" stroke-width="0.75"/>
<line x1="91.49" y1="178.90" x2="91.49" y2="181.10" stroke="#111" stroke-width="0.75"/>
<line x1="91.93" y1="178.90" x2="91.93" y2="181.10" stroke="#111" stroke-width="0.75"/>
<line x1="92.32" y1="178.90" x2="92.32" y2="181.90" stroke="#111" stroke-width="0.75"/>
<path d="M106.50,178.90 L106.50,178.90 L106.97,178.90 L107.45,178.90 L107.92,178.90 L108.40,178.90 L108.87,178.90 L109.34,178.90 L109.82,178.90 L110.29,178.90 L110.77,178.90 L111.24,178.90 L111.72,178.90 L112.19,178.89 L112.66,178.89 L113.14,178.88 L113.61,178.87 L114.09,178.86 L114.56,178.84 L115.03,178.82 L115.51,178.78 L115.98,178.72 L116.46,178.65 L116.93,178.54 L117.41,178.40 L117.88,178.22 L118.35,177.98 L118.83,177.66 L119.30,177.26 L119.78,176.76 L120.25,176.14 L120.72,175.38 L121.20,174.46 L121.67,173.38 L122.15,172.11 L122.62,170.66 L123.10,169.02 L123.57,167.20 L124.04,165.21 L124.52,163.09 L124.99,160.85 L125.47,158.56 L125.94,156.25 L126.41,153.99 L126.89,151.85 L127.36,149.87 L127.84,148.14 L128.31,146.70 L128.79,145.61 L129.26,144.90 L129.73,144.61 L130.21,144.76 L130.68,145.38 L131.16,146.45 L131.63,147.94 L132.10,149.77 L132.58,151.87 L133.05,154.18 L133.53,156.61 L134.00,159.09 L134.48,161.53 L134.95,163.89 L135.42,166.11 L135.90,168.16 L136.37,170.00 L136.85,171.64 L137.32,173.05 L137.80,174.26 L138.27,175.27 L138.74,176.10 L139.22,176.77 L139.69,177.30 L140.17,177.72 L140.64,178.04 L141.11,178.28 L141.59,178.46 L142.06,178.59 L142.54,178.69 L143.01,178.76 L143.49,178.80 L143.96,178.84 L144.43,178.86 L144.91,178.87 L145.38,178.88 L145.86,178.89 L146.33,178.89 L146.80,178.90 L147.28,178.90 L147.75,178.90 L148.23,178.90 L148.70,178.90 L149.18,178.90 L149.65,178.90 L150.12,178.90 L150.60,178.90 L151.07,178.90 L151.55,178.90 L152.02,178.90 L152.49,178.90 L152.97,178.90 L153.44,178.90 L153.92,178.90 L154.39,178.90 L154.87,178.90 L155.34,178.90 L155.81,178.90 L156.29,178.90 L156.76,178.90 L157.24,178.90 L157.71,178.90 L158.18,178.90 L158.66,178.90 L159.13,178.90 L159.61,178.90 L160.08,178.90 L160.56,178.90 L161.03,178.90 L161.50,178.90 L161.98,178.90 L162.45,178.90 L162.93,178.90 L163.40,178.90 L163.40,178.90Z" fill="#808080" stroke="#777" stroke-width="0.3"/>
<path d="M106.50,178.90 L106.97,178.90 L107.45,178.90 L107.92,178.90 L108.40,178.90 L108.87,178.89 L109.34,178.89 L109.82,178.89 L110.29,178.88 L110.77,178.87 L111.24,178.85 L111.72,178.83 L112.19,178.80 L112.66,178.76 L113.14,178.70 L113.61,178.63 L114.09,178.53 L114.56,178.40 L115.03,178.23 L115.51,178.01 L115.98,177.73 L116.46,177.39 L116.93,176.96 L117.41,176.44 L117.88,175.82 L118.35,175.07 L118.83,174.20 L119.30,173.19 L119.78,172.04 L120.25,170.75 L120.72,169.32 L121.20,167.76 L121.67,166.09 L122.15,164.33 L122.62,162.50 L123.10,160.64 L123.57,158.78 L124.04,156.98 L124.52,155.28 L124.99,153.72 L125.47,152.34 L125.94,151.19 L126.41,150.31 L126.89,149.71 L127.36,149.42 L127.84,149.50 L128.31,150.11 L128.79,151.25 L129.26,152.84 L129.73,154.80 L130.21,157.02 L130.68,159.40 L131.16,161.81 L131.63,164.15 L132.10,166.35 L132.58,168.31 L133.05,170.00 L133.53,171.39 L134.00,172.46 L134.48,173.24 L134.95,173.74 L135.42,174.02 L135.90,174.11 L136.37,174.09 L136.85,174.01 L137.32,173.92 L137.80,173.87 L138.27,173.89 L138.74,174.00 L139.22,174.22 L139.69,174.54 L140.17,174.94 L140.64,175.39 L141.11,175.88 L141.59,176.37 L142.06,176.83 L142.54,177.26 L143.01,177.63 L143.49,177.95 L143.96,178.21 L144.43,178.41 L144.91,178.56 L145.38,178.67 L145.86,178.75 L146.33,178.80 L146.80,178.84 L147.28,178.86 L147.75,178.88 L148.23,178.89 L148.70,178.89 L149.18,178.90 L149.65,178.90 L150.12,178.90 L150.60,178.90 L151.07,178.90 L151.55,178.90 L152.02,178.90 L152.49,178.90 L152.97,178.90 L153.44,178.90 L153.92,178.90 L154.39,178.90 L154.87,178.90 L155.34,178.90 L155.81,178.90 L156.29,178.90 L156.76,178.90 L157.24,178.90 L157.71,178.90 L158.18,178.90 L158.66,178.90 L159.13,178.90 L159.61,178.90 L160.08,178.90 L160.56,178.90 L161.03,178.90 L161.50,178.90 L161.98,178.90 L162.45,178.90 L162.93,178.90 L163.40,178.90" fill="none" stroke="#000" stroke-width="0.95" stroke-linejoin="round"/>
<rect x="106.50" y="144.50" width="57.00" height="34.00" fill="none" stroke="#333" stroke-width="1"/>
<line x1="109.34" y1="178.90" x2="109.34" y2="181.30" stroke="#111" stroke-width="0.75"/>
<line x1="111.05" y1="178.90" x2="111.05" y2="180.70" stroke="#111" stroke-width="0.75"/>
<line x1="113.90" y1="178.90" x2="113.90" y2="181.90" stroke="#111" stroke-width="0.75"/>
<line x1="117.15" y1="178.90" x2="117.15" y2="181.10" stroke="#111" stroke-width="0.75"/>
<line x1="119.06" y1="178.90" x2="119.06" y2="181.10" stroke="#111" stroke-width="0.75"/>
<line x1="120.41" y1="178.90" x2="120.41" y2="181.10" stroke="#111" stroke-width="0.75"/>
<line x1="121.45" y1="178.90" x2="121.45" y2="181.10" stroke="#111" stroke-width="0.75"/>
<line x1="122.31" y1="178.90" x2="122.31" y2="181.10" stroke="#111" stroke-width="0.75"/>
<line x1="123.03" y1="178.90" x2="123.03" y2="181.10" stroke="#111" stroke-width="0.75"/>
<line x1="123.66" y1="178.90" x2="123.66" y2="181.10" stroke="#111" stroke-width="0.75"/>
<line x1="124.21" y1="178.90" x2="124.21" y2="181.10" stroke="#111" stroke-width="0.75"/>
<line x1="124.71" y1="178.90" x2="124.71" y2="181.90" stroke="#111" stroke-width="0.75"/>
<line x1="127.45" y1="178.90" x2="127.45" y2="181.10" stroke="#111" stroke-width="0.75"/>
<line x1="129.05" y1="178.90" x2="129.05" y2="181.10" stroke="#111" stroke-width="0.75"/>
<line x1="130.19" y1="178.90" x2="130.19" y2="181.10" stroke="#111" stroke-width="0.75"/>
<line x1="131.07" y1="178.90" x2="131.07" y2="181.10" stroke="#111" stroke-width="0.75"/>
<line x1="131.79" y1="178.90" x2="131.79" y2="181.10" stroke="#111" stroke-width="0.75"/>
<line x1="132.40" y1="178.90" x2="132.40" y2="181.10" stroke="#111" stroke-width="0.75"/>
<line x1="132.93" y1="178.90" x2="132.93" y2="181.10" stroke="#111" stroke-width="0.75"/>
<line x1="133.40" y1="178.90" x2="133.40" y2="181.10" stroke="#111" stroke-width="0.75"/>
<line x1="133.81" y1="178.90" x2="133.81" y2="181.90" stroke="#111" stroke-width="0.75"/>
<line x1="136.38" y1="178.90" x2="136.38" y2="181.10" stroke="#111" stroke-width="0.75"/>
<line x1="137.88" y1="178.90" x2="137.88" y2="181.10" stroke="#111" stroke-width="0.75"/>
<line x1="138.95" y1="178.90" x2="138.95" y2="181.10" stroke="#111" stroke-width="0.75"/>
<line x1="139.78" y1="178.90" x2="139.78" y2="181.10" stroke="#111" stroke-width="0.75"/>
<line x1="140.45" y1="178.90" x2="140.45" y2="181.10" stroke="#111" stroke-width="0.75"/>
<line x1="141.02" y1="178.90" x2="141.02" y2="181.10" stroke="#111" stroke-width="0.75"/>
<line x1="141.52" y1="178.90" x2="141.52" y2="181.10" stroke="#111" stroke-width="0.75"/>
<line x1="141.96" y1="178.90" x2="141.96" y2="181.10" stroke="#111" stroke-width="0.75"/>
<line x1="142.35" y1="178.90" x2="142.35" y2="181.90" stroke="#111" stroke-width="0.75"/>
<line x1="144.92" y1="178.90" x2="144.92" y2="181.10" stroke="#111" stroke-width="0.75"/>
<line x1="146.42" y1="178.90" x2="146.42" y2="181.10" stroke="#111" stroke-width="0.75"/>
<line x1="147.49" y1="178.90" x2="147.49" y2="181.10" stroke="#111" stroke-width="0.75"/>
<line x1="148.31" y1="178.90" x2="148.31" y2="181.10" stroke="#111" stroke-width="0.75"/>
<line x1="148.99" y1="178.90" x2="148.99" y2="181.10" stroke="#111" stroke-width="0.75"/>
<line x1="149.56" y1="178.90" x2="149.56" y2="181.10" stroke="#111" stroke-width="0.75"/>
<line x1="150.05" y1="178.90" x2="150.05" y2="181.10" stroke="#111" stroke-width="0.75"/>
<line x1="150.49" y1="178.90" x2="150.49" y2="181.10" stroke="#111" stroke-width="0.75"/>
<line x1="150.88" y1="178.90" x2="150.88" y2="181.90" stroke="#111" stroke-width="0.75"/>
<line x1="153.45" y1="178.90" x2="153.45" y2="181.10" stroke="#111" stroke-width="0.75"/>
<line x1="154.95" y1="178.90" x2="154.95" y2="181.10" stroke="#111" stroke-width="0.75"/>
<line x1="156.02" y1="178.90" x2="156.02" y2="181.10" stroke="#111" stroke-width="0.75"/>
<line x1="156.85" y1="178.90" x2="156.85" y2="181.10" stroke="#111" stroke-width="0.75"/>
<line x1="157.52" y1="178.90" x2="157.52" y2="181.10" stroke="#111" stroke-width="0.75"/>
<line x1="158.09" y1="178.90" x2="158.09" y2="181.10" stroke="#111" stroke-width="0.75"/>
<line x1="158.59" y1="178.90" x2="158.59" y2="181.10" stroke="#111" stroke-width="0.75"/>
<line x1="159.03" y1="178.90" x2="159.03" y2="181.10" stroke="#111" stroke-width="0.75"/>
<line x1="159.42" y1="178.90" x2="159.42" y2="181.90" stroke="#111" stroke-width="0.75"/>
<path d="M173.60,178.90 L173.60,178.90 L174.07,178.90 L174.55,178.90 L175.02,178.90 L175.50,178.90 L175.97,178.90 L176.44,178.90 L176.92,178.90 L177.39,178.90 L177.87,178.90 L178.34,178.90 L178.82,178.90 L179.29,178.90 L179.76,178.90 L180.24,178.90 L180.71,178.90 L181.19,178.90 L181.66,178.90 L182.13,178.90 L182.61,178.90 L183.08,178.90 L183.56,178.90 L184.03,178.90 L184.51,178.90 L184.98,178.90 L185.45,178.90 L185.93,178.90 L186.40,178.90 L186.88,178.90 L187.35,178.90 L187.82,178.90 L188.30,178.90 L188.77,178.90 L189.25,178.90 L189.72,178.90 L190.20,178.90 L190.67,178.90 L191.14,178.90 L191.62,178.90 L192.09,178.90 L192.57,178.90 L193.04,178.90 L193.51,178.90 L193.99,178.90 L194.46,178.90 L194.94,178.90 L195.41,178.90 L195.89,178.90 L196.36,178.90 L196.83,178.90 L197.31,178.90 L197.78,178.90 L198.26,178.90 L198.73,178.90 L199.20,178.90 L199.68,178.90 L200.15,178.89 L200.63,178.87 L201.10,178.82 L201.58,178.71 L202.05,178.47 L202.52,177.98 L203.00,177.05 L203.47,175.44 L203.95,172.87 L204.42,169.14 L204.89,164.24 L205.37,158.48 L205.84,152.53 L206.32,147.29 L206.79,144.60 L207.27,144.60 L207.74,144.60 L208.21,146.09 L208.69,149.95 L209.16,154.46 L209.64,159.07 L210.11,163.30 L210.58,166.89 L211.06,169.74 L211.53,171.89 L212.01,173.47 L212.48,174.62 L212.96,175.49 L213.43,176.16 L213.90,176.70 L214.38,177.16 L214.85,177.54 L215.33,177.87 L215.80,178.13 L216.27,178.34 L216.75,178.51 L217.22,178.63 L217.70,178.72 L218.17,178.78 L218.65,178.83 L219.12,178.85 L219.59,178.87 L220.07,178.88 L220.54,178.89 L221.02,178.90 L221.49,178.90 L221.96,178.90 L222.44,178.90 L222.91,178.90 L223.39,178.90 L223.86,178.90 L224.34,178.90 L224.81,178.90 L225.28,178.90 L225.76,178.90 L226.23,178.90 L226.71,178.90 L227.18,178.90 L227.65,178.90 L228.13,178.90 L228.60,178.90 L229.08,178.90 L229.55,178.90 L230.03,178.90 L230.50,178.90 L230.50,178.90Z" fill="#808080" stroke="#777" stroke-width="0.3"/>
<path d="M173.60,178.88 L174.07,178.88 L174.55,178.87 L175.02,178.86 L175.50,178.84 L175.97,178.82 L176.44,178.80 L176.92,178.77 L177.39,178.73 L177.87,178.69 L178.34,178.63 L178.82,178.56 L179.29,178.47 L179.76,178.36 L180.24,178.23 L180.71,178.08 L181.19,177.90 L181.66,177.69 L182.13,177.44 L182.61,177.15 L183.08,176.82 L183.56,176.44 L184.03,176.02 L184.51,175.54 L184.98,175.02 L185.45,174.44 L185.93,173.82 L186.40,173.15 L186.88,172.43 L187.35,171.67 L187.82,170.89 L188.30,170.07 L188.77,169.25 L189.25,168.42 L189.72,167.59 L190.20,166.79 L190.67,166.01 L191.14,165.29 L191.62,164.62 L192.09,164.02 L192.57,163.51 L193.04,163.08 L193.51,162.76 L193.99,162.55 L194.46,162.45 L194.94,162.48 L195.41,162.77 L195.89,163.30 L196.36,164.05 L196.83,164.99 L197.31,166.07 L197.78,167.24 L198.26,168.47 L198.73,169.70 L199.20,170.88 L199.68,171.98 L200.15,172.95 L200.63,173.78 L201.10,174.45 L201.58,174.94 L202.05,175.28 L202.52,175.47 L203.00,175.57 L203.47,175.60 L203.95,175.61 L204.42,175.66 L204.89,175.76 L205.37,175.91 L205.84,176.11 L206.32,176.35 L206.79,176.61 L207.27,176.90 L207.74,177.20 L208.21,177.49 L208.69,177.76 L209.16,178.00 L209.64,178.21 L210.11,178.39 L210.58,178.53 L211.06,178.64 L211.53,178.72 L212.01,178.78 L212.48,178.82 L212.96,178.85 L213.43,178.87 L213.90,178.88 L214.38,178.89 L214.85,178.89 L215.33,178.90 L215.80,178.90 L216.27,178.90 L216.75,178.90 L217.22,178.90 L217.70,178.90 L218.17,178.90 L218.65,178.90 L219.12,178.90 L219.59,178.90 L220.07,178.90 L220.54,178.90 L221.02,178.90 L221.49,178.90 L221.96,178.90 L222.44,178.90 L222.91,178.90 L223.39,178.90 L223.86,178.90 L224.34,178.90 L224.81,178.90 L225.28,178.90 L225.76,178.90 L226.23,178.90 L226.71,178.90 L227.18,178.90 L227.65,178.90 L228.13,178.90 L228.60,178.90 L229.08,178.90 L229.55,178.90 L230.03,178.90 L230.50,178.90" fill="none" stroke="#000" stroke-width="0.95" stroke-linejoin="round"/>
<rect x="173.50" y="144.50" width="57.00" height="34.00" fill="none" stroke="#333" stroke-width="1"/>
<line x1="176.44" y1="178.90" x2="176.44" y2="181.30" stroke="#111" stroke-width="0.75"/>
<line x1="178.15" y1="178.90" x2="178.15" y2="180.70" stroke="#111" stroke-width="0.75"/>
<line x1="181.00" y1="178.90" x2="181.00" y2="181.90" stroke="#111" stroke-width="0.75"/>
<line x1="184.25" y1="178.90" x2="184.25" y2="181.10" stroke="#111" stroke-width="0.75"/>
<line x1="186.16" y1="178.90" x2="186.16" y2="181.10" stroke="#111" stroke-width="0.75"/>
<line x1="187.51" y1="178.90" x2="187.51" y2="181.10" stroke="#111" stroke-width="0.75"/>
<line x1="188.55" y1="178.90" x2="188.55" y2="181.10" stroke="#111" stroke-width="0.75"/>
<line x1="189.41" y1="178.90" x2="189.41" y2="181.10" stroke="#111" stroke-width="0.75"/>
<line x1="190.13" y1="178.90" x2="190.13" y2="181.10" stroke="#111" stroke-width="0.75"/>
<line x1="190.76" y1="178.90" x2="190.76" y2="181.10" stroke="#111" stroke-width="0.75"/>
<line x1="191.31" y1="178.90" x2="191.31" y2="181.10" stroke="#111" stroke-width="0.75"/>
<line x1="191.81" y1="178.90" x2="191.81" y2="181.90" stroke="#111" stroke-width="0.75"/>
<line x1="194.55" y1="178.90" x2="194.55" y2="181.10" stroke="#111" stroke-width="0.75"/>
<line x1="196.15" y1="178.90" x2="196.15" y2="181.10" stroke="#111" stroke-width="0.75"/>
<line x1="197.29" y1="178.90" x2="197.29" y2="181.10" stroke="#111" stroke-width="0.75"/>
<line x1="198.17" y1="178.90" x2="198.17" y2="181.10" stroke="#111" stroke-width="0.75"/>
<line x1="198.89" y1="178.90" x2="198.89" y2="181.10" stroke="#111" stroke-width="0.75"/>
<line x1="199.50" y1="178.90" x2="199.50" y2="181.10" stroke="#111" stroke-width="0.75"/>
<line x1="200.03" y1="178.90" x2="200.03" y2="181.10" stroke="#111" stroke-width="0.75"/>
<line x1="200.50" y1="178.90" x2="200.50" y2="181.10" stroke="#111" stroke-width="0.75"/>
<line x1="200.91" y1="178.90" x2="200.91" y2="181.90" stroke="#111" stroke-width="0.75"/>
<line x1="203.48" y1="178.90" x2="203.48" y2="181.10" stroke="#111" stroke-width="0.75"/>
<line x1="204.98" y1="178.90" x2="204.98" y2="181.10" stroke="#111" stroke-width="0.75"/>
<line x1="206.05" y1="178.90" x2="206.05" y2="181.10" stroke="#111" stroke-width="0.75"/>
<line x1="206.88" y1="178.90" x2="206.88" y2="181.10" stroke="#111" stroke-width="0.75"/>
<line x1="207.55" y1="178.90" x2="207.55" y2="181.10" stroke="#111" stroke-width="0.75"/>
<line x1="208.12" y1="178.90" x2="208.12" y2="181.10" stroke="#111" stroke-width="0.75"/>
<line x1="208.62" y1="178.90" x2="208.62" y2="181.10" stroke="#111" stroke-width="0.75"/>
<line x1="209.06" y1="178.90" x2="209.06" y2="181.10" stroke="#111" stroke-width="0.75"/>
<line x1="209.45" y1="178.90" x2="209.45" y2="181.90" stroke="#111" stroke-width="0.75"/>
<line x1="212.02" y1="178.90" x2="212.02" y2="181.10" stroke="#111" stroke-width="0.75"/>
<line x1="213.52" y1="178.90" x2="213.52" y2="181.10" stroke="#111" stroke-width="0.75"/>
<line x1="214.59" y1="178.90" x2="214.59" y2="181.10" stroke="#111" stroke-width="0.75"/>
<line x1="215.41" y1="178.90" x2="215.41" y2="181.10" stroke="#111" stroke-width="0.75"/>
<line x1="216.09" y1="178.90" x2="216.09" y2="181.10" stroke="#111" stroke-width="0.75"/>
<line x1="216.66" y1="178.90" x2="216.66" y2="181.10" stroke="#111" stroke-width="0.75"/>
<line x1="217.15" y1="178.90" x2="217.15" y2="181.10" stroke="#111" stroke-width="0.75"/>
<line x1="217.59" y1="178.90" x2="217.59" y2="181.10" stroke="#111" stroke-width="0.75"/>
<line x1="217.98" y1="178.90" x2="217.98" y2="181.90" stroke="#111" stroke-width="0.75"/>
<line x1="220.55" y1="178.90" x2="220.55" y2="181.10" stroke="#111" stroke-width="0.75"/>
<line x1="222.05" y1="178.90" x2="222.05" y2="181.10" stroke="#111" stroke-width="0.75"/>
<line x1="223.12" y1="178.90" x2="223.12" y2="181.10" stroke="#111" stroke-width="0.75"/>
<line x1="223.95" y1="178.90" x2="223.95" y2="181.10" stroke="#111" stroke-width="0.75"/>
<line x1="224.62" y1="178.90" x2="224.62" y2="181.10" stroke="#111" stroke-width="0.75"/>
<line x1="225.19" y1="178.90" x2="225.19" y2="181.10" stroke="#111" stroke-width="0.75"/>
<line x1="225.69" y1="178.90" x2="225.69" y2="181.10" stroke="#111" stroke-width="0.75"/>
<line x1="226.13" y1="178.90" x2="226.13" y2="181.10" stroke="#111" stroke-width="0.75"/>
<line x1="226.52" y1="178.90" x2="226.52" y2="181.90" stroke="#111" stroke-width="0.75"/>
<text x="18.60" y="206.80" font-size="8.3" text-anchor="middle" fill="#111" stroke="#111" stroke-width="0.22">Memory</text>
<path d="M39.40,221.20 L39.40,221.20 L39.87,221.20 L40.35,221.20 L40.82,221.20 L41.30,221.20 L41.77,221.20 L42.24,221.20 L42.72,221.20 L43.19,221.20 L43.67,221.20 L44.14,221.20 L44.62,221.20 L45.09,221.20 L45.56,221.20 L46.04,221.20 L46.51,221.20 L46.99,221.20 L47.46,221.20 L47.94,221.20 L48.41,221.20 L48.88,221.20 L49.36,221.20 L49.83,221.20 L50.31,221.20 L50.78,221.20 L51.25,221.20 L51.73,221.20 L52.20,221.20 L52.68,221.20 L53.15,221.20 L53.62,221.20 L54.10,221.20 L54.57,221.20 L55.05,221.20 L55.52,221.20 L56.00,221.20 L56.47,221.20 L56.94,221.20 L57.42,221.20 L57.89,221.20 L58.37,221.20 L58.84,221.20 L59.31,221.20 L59.79,221.20 L60.26,221.20 L60.74,221.20 L61.21,221.20 L61.69,221.20 L62.16,221.20 L62.63,221.20 L63.11,221.20 L63.58,221.19 L64.06,221.19 L64.53,221.18 L65.00,221.17 L65.48,221.14 L65.95,221.10 L66.43,221.04 L66.90,220.94 L67.38,220.79 L67.85,220.56 L68.32,220.23 L68.80,219.77 L69.27,219.13 L69.75,218.27 L70.22,217.16 L70.69,215.74 L71.17,213.99 L71.64,211.89 L72.12,209.46 L72.59,206.74 L73.07,203.78 L73.54,200.70 L74.01,197.62 L74.49,194.69 L74.96,192.07 L75.44,189.92 L75.91,188.38 L76.38,187.54 L76.86,187.48 L77.33,188.31 L77.81,190.00 L78.28,192.41 L78.76,195.37 L79.23,198.66 L79.70,202.06 L80.18,205.40 L80.65,208.51 L81.13,211.29 L81.60,213.67 L82.07,215.64 L82.55,217.21 L83.02,218.41 L83.50,219.30 L83.97,219.95 L84.45,220.39 L84.92,220.70 L85.39,220.89 L85.87,221.02 L86.34,221.10 L86.82,221.14 L87.29,221.17 L87.76,221.18 L88.24,221.19 L88.71,221.20 L89.19,221.20 L89.66,221.20 L90.14,221.20 L90.61,221.20 L91.08,221.20 L91.56,221.20 L92.03,221.20 L92.51,221.20 L92.98,221.20 L93.45,221.20 L93.93,221.20 L94.40,221.20 L94.88,221.20 L95.35,221.20 L95.83,221.20 L96.30,221.20 L96.30,221.20Z" fill="#808080" stroke="#777" stroke-width="0.3"/>
<path d="M39.40,221.20 L39.87,221.20 L40.35,221.20 L40.82,221.20 L41.30,221.20 L41.77,221.20 L42.24,221.20 L42.72,221.20 L43.19,221.20 L43.67,221.20 L44.14,221.20 L44.62,221.20 L45.09,221.20 L45.56,221.20 L46.04,221.20 L46.51,221.20 L46.99,221.20 L47.46,221.20 L47.94,221.20 L48.41,221.20 L48.88,221.20 L49.36,221.20 L49.83,221.20 L50.31,221.20 L50.78,221.20 L51.25,221.20 L51.73,221.20 L52.20,221.20 L52.68,221.20 L53.15,221.20 L53.62,221.20 L54.10,221.20 L54.57,221.20 L55.05,221.20 L55.52,221.20 L56.00,221.20 L56.47,221.20 L56.94,221.19 L57.42,221.19 L57.89,221.19 L58.37,221.18 L58.84,221.17 L59.31,221.15 L59.79,221.13 L60.26,221.10 L60.74,221.05 L61.21,220.98 L61.69,220.89 L62.16,220.77 L62.63,220.61 L63.11,220.40 L63.58,220.13 L64.06,219.78 L64.53,219.34 L65.00,218.79 L65.48,218.12 L65.95,217.31 L66.43,216.35 L66.90,215.22 L67.38,213.93 L67.85,212.46 L68.32,210.82 L68.80,209.03 L69.27,207.11 L69.75,205.08 L70.22,202.98 L70.69,200.87 L71.17,198.78 L71.64,196.79 L72.12,194.94 L72.59,193.31 L73.07,191.93 L73.54,190.86 L74.01,190.14 L74.49,189.80 L74.96,189.87 L75.44,190.53 L75.91,191.75 L76.38,193.46 L76.86,195.57 L77.33,197.97 L77.81,200.55 L78.28,203.19 L78.76,205.80 L79.23,208.28 L79.70,210.56 L80.18,212.61 L80.65,214.40 L81.13,215.92 L81.60,217.18 L82.07,218.19 L82.55,219.00 L83.02,219.62 L83.50,220.08 L83.97,220.43 L84.45,220.68 L84.92,220.85 L85.39,220.97 L85.87,221.05 L86.34,221.11 L86.82,221.14 L87.29,221.17 L87.76,221.18 L88.24,221.19 L88.71,221.19 L89.19,221.20 L89.66,221.20 L90.14,221.20 L90.61,221.20 L91.08,221.20 L91.56,221.20 L92.03,221.20 L92.51,221.20 L92.98,221.20 L93.45,221.20 L93.93,221.20 L94.40,221.20 L94.88,221.20 L95.35,221.20 L95.83,221.20 L96.30,221.20" fill="none" stroke="#000" stroke-width="0.95" stroke-linejoin="round"/>
<rect x="39.50" y="187.50" width="57.00" height="34.00" fill="none" stroke="#333" stroke-width="1"/>
<line x1="42.24" y1="221.20" x2="42.24" y2="223.60" stroke="#111" stroke-width="0.75"/>
<line x1="43.95" y1="221.20" x2="43.95" y2="223.00" stroke="#111" stroke-width="0.75"/>
<line x1="46.80" y1="221.20" x2="46.80" y2="224.20" stroke="#111" stroke-width="0.75"/>
<line x1="50.05" y1="221.20" x2="50.05" y2="223.40" stroke="#111" stroke-width="0.75"/>
<line x1="51.96" y1="221.20" x2="51.96" y2="223.40" stroke="#111" stroke-width="0.75"/>
<line x1="53.31" y1="221.20" x2="53.31" y2="223.40" stroke="#111" stroke-width="0.75"/>
<line x1="54.35" y1="221.20" x2="54.35" y2="223.40" stroke="#111" stroke-width="0.75"/>
<line x1="55.21" y1="221.20" x2="55.21" y2="223.40" stroke="#111" stroke-width="0.75"/>
<line x1="55.93" y1="221.20" x2="55.93" y2="223.40" stroke="#111" stroke-width="0.75"/>
<line x1="56.56" y1="221.20" x2="56.56" y2="223.40" stroke="#111" stroke-width="0.75"/>
<line x1="57.11" y1="221.20" x2="57.11" y2="223.40" stroke="#111" stroke-width="0.75"/>
<line x1="57.61" y1="221.20" x2="57.61" y2="224.20" stroke="#111" stroke-width="0.75"/>
<line x1="60.35" y1="221.20" x2="60.35" y2="223.40" stroke="#111" stroke-width="0.75"/>
<line x1="61.95" y1="221.20" x2="61.95" y2="223.40" stroke="#111" stroke-width="0.75"/>
<line x1="63.09" y1="221.20" x2="63.09" y2="223.40" stroke="#111" stroke-width="0.75"/>
<line x1="63.97" y1="221.20" x2="63.97" y2="223.40" stroke="#111" stroke-width="0.75"/>
<line x1="64.69" y1="221.20" x2="64.69" y2="223.40" stroke="#111" stroke-width="0.75"/>
<line x1="65.30" y1="221.20" x2="65.30" y2="223.40" stroke="#111" stroke-width="0.75"/>
<line x1="65.83" y1="221.20" x2="65.83" y2="223.40" stroke="#111" stroke-width="0.75"/>
<line x1="66.30" y1="221.20" x2="66.30" y2="223.40" stroke="#111" stroke-width="0.75"/>
<line x1="66.71" y1="221.20" x2="66.71" y2="224.20" stroke="#111" stroke-width="0.75"/>
<line x1="69.28" y1="221.20" x2="69.28" y2="223.40" stroke="#111" stroke-width="0.75"/>
<line x1="70.78" y1="221.20" x2="70.78" y2="223.40" stroke="#111" stroke-width="0.75"/>
<line x1="71.85" y1="221.20" x2="71.85" y2="223.40" stroke="#111" stroke-width="0.75"/>
<line x1="72.68" y1="221.20" x2="72.68" y2="223.40" stroke="#111" stroke-width="0.75"/>
<line x1="73.35" y1="221.20" x2="73.35" y2="223.40" stroke="#111" stroke-width="0.75"/>
<line x1="73.92" y1="221.20" x2="73.92" y2="223.40" stroke="#111" stroke-width="0.75"/>
<line x1="74.42" y1="221.20" x2="74.42" y2="223.40" stroke="#111" stroke-width="0.75"/>
<line x1="74.86" y1="221.20" x2="74.86" y2="223.40" stroke="#111" stroke-width="0.75"/>
<line x1="75.25" y1="221.20" x2="75.25" y2="224.20" stroke="#111" stroke-width="0.75"/>
<line x1="77.82" y1="221.20" x2="77.82" y2="223.40" stroke="#111" stroke-width="0.75"/>
<line x1="79.32" y1="221.20" x2="79.32" y2="223.40" stroke="#111" stroke-width="0.75"/>
<line x1="80.39" y1="221.20" x2="80.39" y2="223.40" stroke="#111" stroke-width="0.75"/>
<line x1="81.21" y1="221.20" x2="81.21" y2="223.40" stroke="#111" stroke-width="0.75"/>
<line x1="81.89" y1="221.20" x2="81.89" y2="223.40" stroke="#111" stroke-width="0.75"/>
<line x1="82.46" y1="221.20" x2="82.46" y2="223.40" stroke="#111" stroke-width="0.75"/>
<line x1="82.95" y1="221.20" x2="82.95" y2="223.40" stroke="#111" stroke-width="0.75"/>
<line x1="83.39" y1="221.20" x2="83.39" y2="223.40" stroke="#111" stroke-width="0.75"/>
<line x1="83.78" y1="221.20" x2="83.78" y2="224.20" stroke="#111" stroke-width="0.75"/>
<line x1="86.35" y1="221.20" x2="86.35" y2="223.40" stroke="#111" stroke-width="0.75"/>
<line x1="87.85" y1="221.20" x2="87.85" y2="223.40" stroke="#111" stroke-width="0.75"/>
<line x1="88.92" y1="221.20" x2="88.92" y2="223.40" stroke="#111" stroke-width="0.75"/>
<line x1="89.75" y1="221.20" x2="89.75" y2="223.40" stroke="#111" stroke-width="0.75"/>
<line x1="90.42" y1="221.20" x2="90.42" y2="223.40" stroke="#111" stroke-width="0.75"/>
<line x1="90.99" y1="221.20" x2="90.99" y2="223.40" stroke="#111" stroke-width="0.75"/>
<line x1="91.49" y1="221.20" x2="91.49" y2="223.40" stroke="#111" stroke-width="0.75"/>
<line x1="91.93" y1="221.20" x2="91.93" y2="223.40" stroke="#111" stroke-width="0.75"/>
<line x1="92.32" y1="221.20" x2="92.32" y2="224.20" stroke="#111" stroke-width="0.75"/>
<path d="M106.50,221.20 L106.50,221.20 L106.97,221.20 L107.45,221.20 L107.92,221.20 L108.40,221.20 L108.87,221.20 L109.34,221.20 L109.82,221.20 L110.29,221.20 L110.77,221.20 L111.24,221.20 L111.72,221.20 L112.19,221.20 L112.66,221.20 L113.14,221.20 L113.61,221.20 L114.09,221.20 L114.56,221.20 L115.03,221.20 L115.51,221.20 L115.98,221.20 L116.46,221.20 L116.93,221.20 L117.41,221.20 L117.88,221.20 L118.35,221.20 L118.83,221.20 L119.30,221.20 L119.78,221.20 L120.25,221.20 L120.72,221.20 L121.20,221.20 L121.67,221.20 L122.15,221.20 L122.62,221.20 L123.10,221.20 L123.57,221.20 L124.04,221.20 L124.52,221.20 L124.99,221.20 L125.47,221.20 L125.94,221.20 L126.41,221.20 L126.89,221.19 L127.36,221.19 L127.84,221.18 L128.31,221.17 L128.79,221.16 L129.26,221.13 L129.73,221.09 L130.21,221.03 L130.68,220.94 L131.16,220.82 L131.63,220.64 L132.10,220.40 L132.58,220.06 L133.05,219.62 L133.53,219.03 L134.00,218.28 L134.48,217.34 L134.95,216.18 L135.42,214.78 L135.90,213.13 L136.37,211.23 L136.85,209.08 L137.32,206.72 L137.80,204.19 L138.27,201.55 L138.74,198.89 L139.22,196.29 L139.69,193.86 L140.17,191.69 L140.64,189.88 L141.11,188.53 L141.59,187.69 L142.06,187.40 L142.54,187.97 L143.01,189.64 L143.49,192.23 L143.96,195.51 L144.43,199.18 L144.91,202.97 L145.38,206.61 L145.86,209.92 L146.33,212.77 L146.80,215.12 L147.28,216.96 L147.75,218.34 L148.23,219.34 L148.70,220.03 L149.18,220.49 L149.65,220.78 L150.12,220.96 L150.60,221.07 L151.07,221.13 L151.55,221.16 L152.02,221.18 L152.49,221.19 L152.97,221.20 L153.44,221.20 L153.92,221.20 L154.39,221.20 L154.87,221.20 L155.34,221.20 L155.81,221.20 L156.29,221.20 L156.76,221.20 L157.24,221.20 L157.71,221.20 L158.18,221.20 L158.66,221.20 L159.13,221.20 L159.61,221.20 L160.08,221.20 L160.56,221.20 L161.03,221.20 L161.50,221.20 L161.98,221.20 L162.45,221.20 L162.93,221.20 L163.40,221.20 L163.40,221.20Z" fill="#808080" stroke="#777" stroke-width="0.3"/>
<path d="M106.50,221.20 L106.97,221.20 L107.45,221.20 L107.92,221.20 L108.40,221.20 L108.87,221.20 L109.34,221.20 L109.82,221.20 L110.29,221.20 L110.77,221.20 L111.24,221.20 L111.72,221.20 L112.19,221.20 L112.66,221.20 L113.14,221.20 L113.61,221.20 L114.09,221.20 L114.56,221.20 L115.03,221.20 L115.51,221.20 L115.98,221.20 L116.46,221.20 L116.93,221.20 L117.41,221.20 L117.88,221.20 L118.35,221.20 L118.83,221.20 L119.30,221.20 L119.78,221.20 L120.25,221.20 L120.72,221.20 L121.20,221.20 L121.67,221.20 L122.15,221.20 L122.62,221.20 L123.10,221.20 L123.57,221.20 L124.04,221.20 L124.52,221.20 L124.99,221.20 L125.47,221.20 L125.94,221.20 L126.41,221.20 L126.89,221.19 L127.36,221.19 L127.84,221.18 L128.31,221.17 L128.79,221.16 L129.26,221.13 L129.73,221.09 L130.21,221.03 L130.68,220.94 L131.16,220.82 L131.63,220.64 L132.10,220.40 L132.58,220.06 L133.05,219.62 L133.53,219.03 L134.00,218.28 L134.48,217.34 L134.95,216.18 L135.42,214.78 L135.90,213.13 L136.37,211.23 L136.85,209.08 L137.32,206.72 L137.80,204.19 L138.27,201.55 L138.74,198.89 L139.22,196.29 L139.69,193.86 L140.17,191.69 L140.64,189.88 L141.11,188.53 L141.59,187.69 L142.06,187.40 L142.54,187.97 L143.01,189.64 L143.49,192.23 L143.96,195.51 L144.43,199.18 L144.91,202.97 L145.38,206.61 L145.86,209.92 L146.33,212.77 L146.80,215.12 L147.28,216.96 L147.75,218.34 L148.23,219.34 L148.70,220.03 L149.18,220.49 L149.65,220.78 L150.12,220.96 L150.60,221.07 L151.07,221.13 L151.55,221.16 L152.02,221.18 L152.49,221.19 L152.97,221.20 L153.44,221.20 L153.92,221.20 L154.39,221.20 L154.87,221.20 L155.34,221.20 L155.81,221.20 L156.29,221.20 L156.76,221.20 L157.24,221.20 L157.71,221.20 L158.18,221.20 L158.66,221.20 L159.13,221.20 L159.61,221.20 L160.08,221.20 L160.56,221.20 L161.03,221.20 L161.50,221.20 L161.98,221.20 L162.45,221.20 L162.93,221.20 L163.40,221.20" fill="none" stroke="#000" stroke-width="0.95" stroke-linejoin="round"/>
<rect x="106.50" y="187.50" width="57.00" height="34.00" fill="none" stroke="#333" stroke-width="1"/>
<line x1="109.34" y1="221.20" x2="109.34" y2="223.60" stroke="#111" stroke-width="0.75"/>
<line x1="111.05" y1="221.20" x2="111.05" y2="223.00" stroke="#111" stroke-width="0.75"/>
<line x1="113.90" y1="221.20" x2="113.90" y2="224.20" stroke="#111" stroke-width="0.75"/>
<line x1="117.15" y1="221.20" x2="117.15" y2="223.40" stroke="#111" stroke-width="0.75"/>
<line x1="119.06" y1="221.20" x2="119.06" y2="223.40" stroke="#111" stroke-width="0.75"/>
<line x1="120.41" y1="221.20" x2="120.41" y2="223.40" stroke="#111" stroke-width="0.75"/>
<line x1="121.45" y1="221.20" x2="121.45" y2="223.40" stroke="#111" stroke-width="0.75"/>
<line x1="122.31" y1="221.20" x2="122.31" y2="223.40" stroke="#111" stroke-width="0.75"/>
<line x1="123.03" y1="221.20" x2="123.03" y2="223.40" stroke="#111" stroke-width="0.75"/>
<line x1="123.66" y1="221.20" x2="123.66" y2="223.40" stroke="#111" stroke-width="0.75"/>
<line x1="124.21" y1="221.20" x2="124.21" y2="223.40" stroke="#111" stroke-width="0.75"/>
<line x1="124.71" y1="221.20" x2="124.71" y2="224.20" stroke="#111" stroke-width="0.75"/>
<line x1="127.45" y1="221.20" x2="127.45" y2="223.40" stroke="#111" stroke-width="0.75"/>
<line x1="129.05" y1="221.20" x2="129.05" y2="223.40" stroke="#111" stroke-width="0.75"/>
<line x1="130.19" y1="221.20" x2="130.19" y2="223.40" stroke="#111" stroke-width="0.75"/>
<line x1="131.07" y1="221.20" x2="131.07" y2="223.40" stroke="#111" stroke-width="0.75"/>
<line x1="131.79" y1="221.20" x2="131.79" y2="223.40" stroke="#111" stroke-width="0.75"/>
<line x1="132.40" y1="221.20" x2="132.40" y2="223.40" stroke="#111" stroke-width="0.75"/>
<line x1="132.93" y1="221.20" x2="132.93" y2="223.40" stroke="#111" stroke-width="0.75"/>
<line x1="133.40" y1="221.20" x2="133.40" y2="223.40" stroke="#111" stroke-width="0.75"/>
<line x1="133.81" y1="221.20" x2="133.81" y2="224.20" stroke="#111" stroke-width="0.75"/>
<line x1="136.38" y1="221.20" x2="136.38" y2="223.40" stroke="#111" stroke-width="0.75"/>
<line x1="137.88" y1="221.20" x2="137.88" y2="223.40" stroke="#111" stroke-width="0.75"/>
<line x1="138.95" y1="221.20" x2="138.95" y2="223.40" stroke="#111" stroke-width="0.75"/>
<line x1="139.78" y1="221.20" x2="139.78" y2="223.40" stroke="#111" stroke-width="0.75"/>
<line x1="140.45" y1="221.20" x2="140.45" y2="223.40" stroke="#111" stroke-width="0.75"/>
<line x1="141.02" y1="221.20" x2="141.02" y2="223.40" stroke="#111" stroke-width="0.75"/>
<line x1="141.52" y1="221.20" x2="141.52" y2="223.40" stroke="#111" stroke-width="0.75"/>
<line x1="141.96" y1="221.20" x2="141.96" y2="223.40" stroke="#111" stroke-width="0.75"/>
<line x1="142.35" y1="221.20" x2="142.35" y2="224.20" stroke="#111" stroke-width="0.75"/>
<line x1="144.92" y1="221.20" x2="144.92" y2="223.40" stroke="#111" stroke-width="0.75"/>
<line x1="146.42" y1="221.20" x2="146.42" y2="223.40" stroke="#111" stroke-width="0.75"/>
<line x1="147.49" y1="221.20" x2="147.49" y2="223.40" stroke="#111" stroke-width="0.75"/>
<line x1="148.31" y1="221.20" x2="148.31" y2="223.40" stroke="#111" stroke-width="0.75"/>
<line x1="148.99" y1="221.20" x2="148.99" y2="223.40" stroke="#111" stroke-width="0.75"/>
<line x1="149.56" y1="221.20" x2="149.56" y2="223.40" stroke="#111" stroke-width="0.75"/>
<line x1="150.05" y1="221.20" x2="150.05" y2="223.40" stroke="#111" stroke-width="0.75"/>
<line x1="150.49" y1="221.20" x2="150.49" y2="223.40" stroke="#111" stroke-width="0.75"/>
<line x1="150.88" y1="221.20" x2="150.88" y2="224.20" stroke="#111" stroke-width="0.75"/>
<line x1="153.45" y1="221.20" x2="153.45" y2="223.40" stroke="#111" stroke-width="0.75"/>
<line x1="154.95" y1="221.20" x2="154.95" y2="223.40" stroke="#111" stroke-width="0.75"/>
<line x1="156.02" y1="221.20" x2="156.02" y2="223.40" stroke="#111" stroke-width="0.75"/>
<line x1="156.85" y1="221.20" x2="156.85" y2="223.40" stroke="#111" stroke-width="0.75"/>
<line x1="157.52" y1="221.20" x2="157.52" y2="223.40" stroke="#111" stroke-width="0.75"/>
<line x1="158.09" y1="221.20" x2="158.09" y2="223.40" stroke="#111" stroke-width="0.75"/>
<line x1="158.59" y1="221.20" x2="158.59" y2="223.40" stroke="#111" stroke-width="0.75"/>
<line x1="159.03" y1="221.20" x2="159.03" y2="223.40" stroke="#111" stroke-width="0.75"/>
<line x1="159.42" y1="221.20" x2="159.42" y2="224.20" stroke="#111" stroke-width="0.75"/>
<path d="M173.60,221.20 L173.60,221.20 L174.07,221.20 L174.55,221.20 L175.02,221.20 L175.50,221.20 L175.97,221.20 L176.44,221.20 L176.92,221.20 L177.39,221.20 L177.87,221.20 L178.34,221.20 L178.82,221.20 L179.29,221.20 L179.76,221.20 L180.24,221.20 L180.71,221.20 L181.19,221.20 L181.66,221.20 L182.13,221.20 L182.61,221.20 L183.08,221.20 L183.56,221.20 L184.03,221.20 L184.51,221.20 L184.98,221.20 L185.45,221.20 L185.93,221.20 L186.40,221.20 L186.88,221.20 L187.35,221.20 L187.82,221.20 L188.30,221.20 L188.77,221.20 L189.25,221.20 L189.72,221.20 L190.20,221.20 L190.67,221.20 L191.14,221.20 L191.62,221.20 L192.09,221.20 L192.57,221.20 L193.04,221.20 L193.51,221.20 L193.99,221.20 L194.46,221.20 L194.94,221.20 L195.41,221.20 L195.89,221.20 L196.36,221.20 L196.83,221.20 L197.31,221.20 L197.78,221.20 L198.26,221.20 L198.73,221.20 L199.20,221.20 L199.68,221.20 L200.15,221.20 L200.63,221.20 L201.10,221.20 L201.58,221.20 L202.05,221.20 L202.52,221.20 L203.00,221.19 L203.47,221.18 L203.95,221.16 L204.42,221.13 L204.89,221.07 L205.37,220.96 L205.84,220.78 L206.32,220.49 L206.79,220.03 L207.27,219.34 L207.74,218.34 L208.21,216.96 L208.69,215.12 L209.16,212.77 L209.64,209.92 L210.11,206.61 L210.58,202.97 L211.06,199.18 L211.53,195.51 L212.01,192.23 L212.48,189.64 L212.96,187.97 L213.43,187.40 L213.90,188.13 L214.38,190.21 L214.85,193.40 L215.33,197.32 L215.80,201.55 L216.27,205.73 L216.75,209.53 L217.22,212.77 L217.70,215.37 L218.17,217.34 L218.65,218.75 L219.12,219.71 L219.59,220.34 L220.07,220.72 L220.54,220.94 L221.02,221.07 L221.49,221.14 L221.96,221.17 L222.44,221.19 L222.91,221.19 L223.39,221.20 L223.86,221.20 L224.34,221.20 L224.81,221.20 L225.28,221.20 L225.76,221.20 L226.23,221.20 L226.71,221.20 L227.18,221.20 L227.65,221.20 L228.13,221.20 L228.60,221.20 L229.08,221.20 L229.55,221.20 L230.03,221.20 L230.50,221.20 L230.50,221.20Z" fill="#808080" stroke="#777" stroke-width="0.3"/>
<path d="M173.60,221.20 L174.07,221.20 L174.55,221.20 L175.02,221.20 L175.50,221.20 L175.97,221.20 L176.44,221.20 L176.92,221.20 L177.39,221.20 L177.87,221.20 L178.34,221.20 L178.82,221.20 L179.29,221.20 L179.76,221.20 L180.24,221.20 L180.71,221.20 L181.19,221.20 L181.66,221.20 L182.13,221.20 L182.61,221.20 L183.08,221.20 L183.56,221.20 L184.03,221.20 L184.51,221.20 L184.98,221.20 L185.45,221.20 L185.93,221.20 L186.40,221.20 L186.88,221.20 L187.35,221.20 L187.82,221.20 L188.30,221.20 L188.77,221.20 L189.25,221.20 L189.72,221.19 L190.20,221.19 L190.67,221.18 L191.14,221.18 L191.62,221.16 L192.09,221.15 L192.57,221.12 L193.04,221.09 L193.51,221.05 L193.99,220.98 L194.46,220.90 L194.94,220.79 L195.41,220.65 L195.89,220.47 L196.36,220.23 L196.83,219.93 L197.31,219.56 L197.78,219.10 L198.26,218.54 L198.73,217.88 L199.20,217.08 L199.68,216.16 L200.15,215.09 L200.63,213.88 L201.10,212.51 L201.58,211.01 L202.05,209.38 L202.52,207.63 L203.00,205.80 L203.47,203.90 L203.95,201.98 L204.42,200.08 L204.89,198.24 L205.37,196.51 L205.84,194.93 L206.32,193.56 L206.79,192.42 L207.27,191.57 L207.74,191.02 L208.21,190.79 L208.69,191.05 L209.16,192.12 L209.64,193.92 L210.11,196.31 L210.58,199.11 L211.06,202.13 L211.53,205.20 L212.01,208.13 L212.48,210.82 L212.96,213.19 L213.43,215.18 L213.90,216.80 L214.38,218.07 L214.85,219.04 L215.33,219.75 L215.80,220.25 L216.27,220.60 L216.75,220.83 L217.22,220.98 L217.70,221.07 L218.17,221.13 L218.65,221.16 L219.12,221.18 L219.59,221.19 L220.07,221.19 L220.54,221.20 L221.02,221.20 L221.49,221.20 L221.96,221.20 L222.44,221.20 L222.91,221.20 L223.39,221.20 L223.86,221.20 L224.34,221.20 L224.81,221.20 L225.28,221.20 L225.76,221.20 L226.23,221.20 L226.71,221.20 L227.18,221.20 L227.65,221.20 L228.13,221.20 L228.60,221.20 L229.08,221.20 L229.55,221.20 L230.03,221.20 L230.50,221.20" fill="none" stroke="#000" stroke-width="0.95" stroke-linejoin="round"/>
<rect x="173.50" y="187.50" width="57.00" height="34.00" fill="none" stroke="#333" stroke-width="1"/>
<line x1="176.44" y1="221.20" x2="176.44" y2="223.60" stroke="#111" stroke-width="0.75"/>
<line x1="178.15" y1="221.20" x2="178.15" y2="223.00" stroke="#111" stroke-width="0.75"/>
<line x1="181.00" y1="221.20" x2="181.00" y2="224.20" stroke="#111" stroke-width="0.75"/>
<line x1="184.25" y1="221.20" x2="184.25" y2="223.40" stroke="#111" stroke-width="0.75"/>
<line x1="186.16" y1="221.20" x2="186.16" y2="223.40" stroke="#111" stroke-width="0.75"/>
<line x1="187.51" y1="221.20" x2="187.51" y2="223.40" stroke="#111" stroke-width="0.75"/>
<line x1="188.55" y1="221.20" x2="188.55" y2="223.40" stroke="#111" stroke-width="0.75"/>
<line x1="189.41" y1="221.20" x2="189.41" y2="223.40" stroke="#111" stroke-width="0.75"/>
<line x1="190.13" y1="221.20" x2="190.13" y2="223.40" stroke="#111" stroke-width="0.75"/>
<line x1="190.76" y1="221.20" x2="190.76" y2="223.40" stroke="#111" stroke-width="0.75"/>
<line x1="191.31" y1="221.20" x2="191.31" y2="223.40" stroke="#111" stroke-width="0.75"/>
<line x1="191.81" y1="221.20" x2="191.81" y2="224.20" stroke="#111" stroke-width="0.75"/>
<line x1="194.55" y1="221.20" x2="194.55" y2="223.40" stroke="#111" stroke-width="0.75"/>
<line x1="196.15" y1="221.20" x2="196.15" y2="223.40" stroke="#111" stroke-width="0.75"/>
<line x1="197.29" y1="221.20" x2="197.29" y2="223.40" stroke="#111" stroke-width="0.75"/>
<line x1="198.17" y1="221.20" x2="198.17" y2="223.40" stroke="#111" stroke-width="0.75"/>
<line x1="198.89" y1="221.20" x2="198.89" y2="223.40" stroke="#111" stroke-width="0.75"/>
<line x1="199.50" y1="221.20" x2="199.50" y2="223.40" stroke="#111" stroke-width="0.75"/>
<line x1="200.03" y1="221.20" x2="200.03" y2="223.40" stroke="#111" stroke-width="0.75"/>
<line x1="200.50" y1="221.20" x2="200.50" y2="223.40" stroke="#111" stroke-width="0.75"/>
<line x1="200.91" y1="221.20" x2="200.91" y2="224.20" stroke="#111" stroke-width="0.75"/>
<line x1="203.48" y1="221.20" x2="203.48" y2="223.40" stroke="#111" stroke-width="0.75"/>
<line x1="204.98" y1="221.20" x2="204.98" y2="223.40" stroke="#111" stroke-width="0.75"/>
<line x1="206.05" y1="221.20" x2="206.05" y2="223.40" stroke="#111" stroke-width="0.75"/>
<line x1="206.88" y1="221.20" x2="206.88" y2="223.40" stroke="#111" stroke-width="0.75"/>
<line x1="207.55" y1="221.20" x2="207.55" y2="223.40" stroke="#111" stroke-width="0.75"/>
<line x1="208.12" y1="221.20" x2="208.12" y2="223.40" stroke="#111" stroke-width="0.75"/>
<line x1="208.62" y1="221.20" x2="208.62" y2="223.40" stroke="#111" stroke-width="0.75"/>
<line x1="209.06" y1="221.20" x2="209.06" y2="223.40" stroke="#111" stroke-width="0.75"/>
<line x1="209.45" y1="221.20" x2="209.45" y2="224.20" stroke="#111" stroke-width="0.75"/>
<line x1="212.02" y1="221.20" x2="212.02" y2="223.40" stroke="#111" stroke-width="0.75"/>
<line x1="213.52" y1="221.20" x2="213.52" y2="223.40" stroke="#111" stroke-width="0.75"/>
<line x1="214.59" y1="221.20" x2="214.59" y2="223.40" stroke="#111" stroke-width="0.75"/>
<line x1="215.41" y1="221.20" x2="215.41" y2="223.40" stroke="#111" stroke-width="0.75"/>
<line x1="216.09" y1="221.20" x2="216.09" y2="223.40" stroke="#111" stroke-width="0.75"/>
<line x1="216.66" y1="221.20" x2="216.66" y2="223.40" stroke="#111" stroke-width="0.75"/>
<line x1="217.15" y1="221.20" x2="217.15" y2="223.40" stroke="#111" stroke-width="0.75"/>
<line x1="217.59" y1="221.20" x2="217.59" y2="223.40" stroke="#111" stroke-width="0.75"/>
<line x1="217.98" y1="221.20" x2="217.98" y2="224.20" stroke="#111" stroke-width="0.75"/>
<line x1="220.55" y1="221.20" x2="220.55" y2="223.40" stroke="#111" stroke-width="0.75"/>
<line x1="222.05" y1="221.20" x2="222.05" y2="223.40" stroke="#111" stroke-width="0.75"/>
<line x1="223.12" y1="221.20" x2="223.12" y2="223.40" stroke="#111" stroke-width="0.75"/>
<line x1="223.95" y1="221.20" x2="223.95" y2="223.40" stroke="#111" stroke-width="0.75"/>
<line x1="224.62" y1="221.20" x2="224.62" y2="223.40" stroke="#111" stroke-width="0.75"/>
<line x1="225.19" y1="221.20" x2="225.19" y2="223.40" stroke="#111" stroke-width="0.75"/>
<line x1="225.69" y1="221.20" x2="225.69" y2="223.40" stroke="#111" stroke-width="0.75"/>
<line x1="226.13" y1="221.20" x2="226.13" y2="223.40" stroke="#111" stroke-width="0.75"/>
<line x1="226.52" y1="221.20" x2="226.52" y2="224.20" stroke="#111" stroke-width="0.75"/>
<line x1="40.00" y1="227.20" x2="86.90" y2="227.20" stroke="#222" stroke-width="0.8"/>
<polygon points="88.90,227.20 85.70,225.70 85.70,228.70" fill="#222"/>
<text x="40.20" y="236.80" font-size="8.6" text-anchor="start" fill="#111" stroke="#111" stroke-width="0.22">CD95</text>
<text x="4.50" y="257.20" font-size="11.5" font-weight="bold" text-anchor="start" fill="#000" stroke="#000" stroke-width="0.1">D</text>
<text x="67.85" y="261.00" font-size="8.4" text-anchor="middle" fill="#111" stroke="#111" stroke-width="0.22">IL-2 100 U/ml</text>
<text x="134.95" y="261.00" font-size="8.4" text-anchor="middle" fill="#111" stroke="#111" stroke-width="0.22">IL-7 0.2 ng/ml</text>
<text x="202.05" y="261.00" font-size="8.4" text-anchor="middle" fill="#111" stroke="#111" stroke-width="0.22">IL-7 5 ng/ml</text>
<text x="18.60" y="287.30" font-size="8.3" text-anchor="middle" fill="#111" stroke="#111" stroke-width="0.22">Naive</text>
<path d="M39.40,299.00 L39.40,298.98 L39.87,298.98 L40.35,298.98 L40.82,298.98 L41.30,298.98 L41.77,298.97 L42.24,298.97 L42.72,298.97 L43.19,298.96 L43.67,298.96 L44.14,298.96 L44.62,298.95 L45.09,298.95 L45.56,298.94 L46.04,298.93 L46.51,298.93 L46.99,298.92 L47.46,298.92 L47.94,298.91 L48.41,298.90 L48.88,298.89 L49.36,298.88 L49.83,298.86 L50.31,298.84 L50.78,298.81 L51.25,298.74 L51.73,298.63 L52.20,298.44 L52.68,298.12 L53.15,297.58 L53.62,296.75 L54.10,295.51 L54.57,293.75 L55.05,291.38 L55.52,288.36 L56.00,284.73 L56.47,280.63 L56.94,276.34 L57.42,272.20 L57.89,268.63 L58.37,266.04 L58.84,265.00 L59.31,265.06 L59.79,267.77 L60.26,272.36 L60.74,277.91 L61.21,283.49 L61.69,288.36 L62.16,292.15 L62.63,294.81 L63.11,296.50 L63.58,297.47 L64.06,297.98 L64.53,298.22 L65.00,298.33 L65.48,298.36 L65.95,298.37 L66.43,298.36 L66.90,298.36 L67.38,298.35 L67.85,298.34 L68.32,298.33 L68.80,298.33 L69.27,298.33 L69.75,298.32 L70.22,298.32 L70.69,298.32 L71.17,298.32 L71.64,298.32 L72.12,298.32 L72.59,298.32 L73.07,298.33 L73.54,298.33 L74.01,298.33 L74.49,298.34 L74.96,298.34 L75.44,298.35 L75.91,298.35 L76.38,298.36 L76.86,298.36 L77.33,298.37 L77.81,298.38 L78.28,298.38 L78.76,298.39 L79.23,298.40 L79.70,298.41 L80.18,298.42 L80.65,298.43 L81.13,298.44 L81.60,298.45 L82.07,298.46 L82.55,298.47 L83.02,298.48 L83.50,298.49 L83.97,298.50 L84.45,298.51 L84.92,298.52 L85.39,298.53 L85.87,298.54 L86.34,298.55 L86.82,298.56 L87.29,298.58 L87.76,298.59 L88.24,298.60 L88.71,298.61 L89.19,298.62 L89.66,298.63 L90.14,298.64 L90.61,298.66 L91.08,298.67 L91.56,298.68 L92.03,298.69 L92.51,298.70 L92.98,298.71 L93.45,298.72 L93.93,298.73 L94.40,298.74 L94.88,298.75 L95.35,298.76 L95.83,298.77 L96.30,298.78 L96.30,299.00Z" fill="#808080" stroke="#777" stroke-width="0.3"/>
<path d="M39.40,298.98 L39.87,298.98 L40.35,298.98 L40.82,298.98 L41.30,298.98 L41.77,298.97 L42.24,298.97 L42.72,298.97 L43.19,298.96 L43.67,298.96 L44.14,298.96 L44.62,298.95 L45.09,298.95 L45.56,298.94 L46.04,298.93 L46.51,298.93 L46.99,298.92 L47.46,298.92 L47.94,298.91 L48.41,298.90 L48.88,298.89 L49.36,298.88 L49.83,298.86 L50.31,298.84 L50.78,298.81 L51.25,298.74 L51.73,298.63 L52.20,298.44 L52.68,298.12 L53.15,297.58 L53.62,296.75 L54.10,295.51 L54.57,293.75 L55.05,291.38 L55.52,288.36 L56.00,284.73 L56.47,280.63 L56.94,276.34 L57.42,272.20 L57.89,268.63 L58.37,266.04 L58.84,265.00 L59.31,265.06 L59.79,267.77 L60.26,272.36 L60.74,277.91 L61.21,283.49 L61.69,288.36 L62.16,292.15 L62.63,294.81 L63.11,296.50 L63.58,297.47 L64.06,297.98 L64.53,298.22 L65.00,298.33 L65.48,298.36 L65.95,298.37 L66.43,298.36 L66.90,298.36 L67.38,298.35 L67.85,298.34 L68.32,298.33 L68.80,298.33 L69.27,298.33 L69.75,298.32 L70.22,298.32 L70.69,298.32 L71.17,298.32 L71.64,298.32 L72.12,298.32 L72.59,298.32 L73.07,298.33 L73.54,298.33 L74.01,298.33 L74.49,298.34 L74.96,298.34 L75.44,298.35 L75.91,298.35 L76.38,298.36 L76.86,298.36 L77.33,298.37 L77.81,298.38 L78.28,298.38 L78.76,298.39 L79.23,298.40 L79.70,298.41 L80.18,298.42 L80.65,298.43 L81.13,298.44 L81.60,298.45 L82.07,298.46 L82.55,298.47 L83.02,298.48 L83.50,298.49 L83.97,298.50 L84.45,298.51 L84.92,298.52 L85.39,298.53 L85.87,298.54 L86.34,298.55 L86.82,298.56 L87.29,298.58 L87.76,298.59 L88.24,298.60 L88.71,298.61 L89.19,298.62 L89.66,298.63 L90.14,298.64 L90.61,298.66 L91.08,298.67 L91.56,298.68 L92.03,298.69 L92.51,298.70 L92.98,298.71 L93.45,298.72 L93.93,298.73 L94.40,298.74 L94.88,298.75 L95.35,298.76 L95.83,298.77 L96.30,298.78" fill="none" stroke="#000" stroke-width="0.95" stroke-linejoin="round"/>
<rect x="39.50" y="265.50" width="57.00" height="34.00" fill="none" stroke="#333" stroke-width="1"/>
<line x1="40.40" y1="299.00" x2="40.40" y2="301.60" stroke="#111" stroke-width="0.75"/>
<line x1="44.32" y1="299.00" x2="44.32" y2="301.00" stroke="#111" stroke-width="0.75"/>
<line x1="48.24" y1="299.00" x2="48.24" y2="301.60" stroke="#111" stroke-width="0.75"/>
<line x1="52.16" y1="299.00" x2="52.16" y2="301.00" stroke="#111" stroke-width="0.75"/>
<line x1="56.09" y1="299.00" x2="56.09" y2="301.60" stroke="#111" stroke-width="0.75"/>
<line x1="60.01" y1="299.00" x2="60.01" y2="301.00" stroke="#111" stroke-width="0.75"/>
<line x1="63.93" y1="299.00" x2="63.93" y2="301.60" stroke="#111" stroke-width="0.75"/>
<line x1="67.85" y1="299.00" x2="67.85" y2="301.00" stroke="#111" stroke-width="0.75"/>
<line x1="71.77" y1="299.00" x2="71.77" y2="301.60" stroke="#111" stroke-width="0.75"/>
<line x1="75.69" y1="299.00" x2="75.69" y2="301.00" stroke="#111" stroke-width="0.75"/>
<line x1="79.61" y1="299.00" x2="79.61" y2="301.60" stroke="#111" stroke-width="0.75"/>
<line x1="83.54" y1="299.00" x2="83.54" y2="301.00" stroke="#111" stroke-width="0.75"/>
<line x1="87.46" y1="299.00" x2="87.46" y2="301.60" stroke="#111" stroke-width="0.75"/>
<line x1="91.38" y1="299.00" x2="91.38" y2="301.00" stroke="#111" stroke-width="0.75"/>
<line x1="95.30" y1="299.00" x2="95.30" y2="301.60" stroke="#111" stroke-width="0.75"/>
<path d="M106.50,299.00 L106.50,298.98 L106.97,298.98 L107.45,298.98 L107.92,298.98 L108.40,298.98 L108.87,298.97 L109.34,298.97 L109.82,298.97 L110.29,298.96 L110.77,298.96 L111.24,298.96 L111.72,298.95 L112.19,298.95 L112.66,298.94 L113.14,298.93 L113.61,298.93 L114.09,298.92 L114.56,298.92 L115.03,298.91 L115.51,298.90 L115.98,298.89 L116.46,298.88 L116.93,298.87 L117.41,298.86 L117.88,298.85 L118.35,298.84 L118.83,298.83 L119.30,298.80 L119.78,298.76 L120.25,298.66 L120.72,298.44 L121.20,297.96 L121.67,297.02 L122.15,295.31 L122.62,292.52 L123.10,288.44 L123.57,283.12 L124.04,277.07 L124.52,271.22 L124.99,266.74 L125.47,265.00 L125.94,265.43 L126.41,268.58 L126.89,273.44 L127.36,279.08 L127.84,284.56 L128.31,289.23 L128.79,292.79 L129.26,295.24 L129.73,296.76 L130.21,297.62 L130.68,298.06 L131.16,298.27 L131.63,298.35 L132.10,298.38 L132.58,298.38 L133.05,298.37 L133.53,298.37 L134.00,298.36 L134.48,298.35 L134.95,298.34 L135.42,298.33 L135.90,298.33 L136.37,298.33 L136.85,298.32 L137.32,298.32 L137.80,298.32 L138.27,298.32 L138.74,298.32 L139.22,298.32 L139.69,298.32 L140.17,298.33 L140.64,298.33 L141.11,298.33 L141.59,298.34 L142.06,298.34 L142.54,298.35 L143.01,298.35 L143.49,298.36 L143.96,298.36 L144.43,298.37 L144.91,298.38 L145.38,298.38 L145.86,298.39 L146.33,298.40 L146.80,298.41 L147.28,298.42 L147.75,298.43 L148.23,298.44 L148.70,298.45 L149.18,298.46 L149.65,298.47 L150.12,298.48 L150.60,298.49 L151.07,298.50 L151.55,298.51 L152.02,298.52 L152.49,298.53 L152.97,298.54 L153.44,298.55 L153.92,298.56 L154.39,298.58 L154.87,298.59 L155.34,298.60 L155.81,298.61 L156.29,298.62 L156.76,298.63 L157.24,298.64 L157.71,298.66 L158.18,298.67 L158.66,298.68 L159.13,298.69 L159.61,298.70 L160.08,298.71 L160.56,298.72 L161.03,298.73 L161.50,298.74 L161.98,298.75 L162.45,298.76 L162.93,298.77 L163.40,298.78 L163.40,299.00Z" fill="#808080" stroke="#777" stroke-width="0.3"/>
<path d="M106.50,298.98 L106.97,298.98 L107.45,298.98 L107.92,298.98 L108.40,298.98 L108.87,298.97 L109.34,298.97 L109.82,298.97 L110.29,298.96 L110.77,298.96 L111.24,298.96 L111.72,298.95 L112.19,298.95 L112.66,298.94 L113.14,298.93 L113.61,298.93 L114.09,298.92 L114.56,298.92 L115.03,298.91 L115.51,298.90 L115.98,298.89 L116.46,298.88 L116.93,298.87 L117.41,298.86 L117.88,298.85 L118.35,298.84 L118.83,298.83 L119.30,298.80 L119.78,298.76 L120.25,298.66 L120.72,298.44 L121.20,297.96 L121.67,297.02 L122.15,295.31 L122.62,292.52 L123.10,288.44 L123.57,283.12 L124.04,277.07 L124.52,271.22 L124.99,266.74 L125.47,265.00 L125.94,265.43 L126.41,268.58 L126.89,273.44 L127.36,279.08 L127.84,284.56 L128.31,289.23 L128.79,292.79 L129.26,295.24 L129.73,296.76 L130.21,297.62 L130.68,298.06 L131.16,298.27 L131.63,298.35 L132.10,298.38 L132.58,298.38 L133.05,298.37 L133.53,298.37 L134.00,298.36 L134.48,298.35 L134.95,298.34 L135.42,298.33 L135.90,298.33 L136.37,298.33 L136.85,298.32 L137.32,298.32 L137.80,298.32 L138.27,298.32 L138.74,298.32 L139.22,298.32 L139.69,298.32 L140.17,298.33 L140.64,298.33 L141.11,298.33 L141.59,298.34 L142.06,298.34 L142.54,298.35 L143.01,298.35 L143.49,298.36 L143.96,298.36 L144.43,298.37 L144.91,298.38 L145.38,298.38 L145.86,298.39 L146.33,298.40 L146.80,298.41 L147.28,298.42 L147.75,298.43 L148.23,298.44 L148.70,298.45 L149.18,298.46 L149.65,298.47 L150.12,298.48 L150.60,298.49 L151.07,298.50 L151.55,298.51 L152.02,298.52 L152.49,298.53 L152.97,298.54 L153.44,298.55 L153.92,298.56 L154.39,298.58 L154.87,298.59 L155.34,298.60 L155.81,298.61 L156.29,298.62 L156.76,298.63 L157.24,298.64 L157.71,298.66 L158.18,298.67 L158.66,298.68 L159.13,298.69 L159.61,298.70 L160.08,298.71 L160.56,298.72 L161.03,298.73 L161.50,298.74 L161.98,298.75 L162.45,298.76 L162.93,298.77 L163.40,298.78" fill="none" stroke="#000" stroke-width="0.95" stroke-linejoin="round"/>
<rect x="106.50" y="265.50" width="57.00" height="34.00" fill="none" stroke="#333" stroke-width="1"/>
<line x1="107.50" y1="299.00" x2="107.50" y2="301.60" stroke="#111" stroke-width="0.75"/>
<line x1="111.42" y1="299.00" x2="111.42" y2="301.00" stroke="#111" stroke-width="0.75"/>
<line x1="115.34" y1="299.00" x2="115.34" y2="301.60" stroke="#111" stroke-width="0.75"/>
<line x1="119.26" y1="299.00" x2="119.26" y2="301.00" stroke="#111" stroke-width="0.75"/>
<line x1="123.19" y1="299.00" x2="123.19" y2="301.60" stroke="#111" stroke-width="0.75"/>
<line x1="127.11" y1="299.00" x2="127.11" y2="301.00" stroke="#111" stroke-width="0.75"/>
<line x1="131.03" y1="299.00" x2="131.03" y2="301.60" stroke="#111" stroke-width="0.75"/>
<line x1="134.95" y1="299.00" x2="134.95" y2="301.00" stroke="#111" stroke-width="0.75"/>
<line x1="138.87" y1="299.00" x2="138.87" y2="301.60" stroke="#111" stroke-width="0.75"/>
<line x1="142.79" y1="299.00" x2="142.79" y2="301.00" stroke="#111" stroke-width="0.75"/>
<line x1="146.71" y1="299.00" x2="146.71" y2="301.60" stroke="#111" stroke-width="0.75"/>
<line x1="150.64" y1="299.00" x2="150.64" y2="301.00" stroke="#111" stroke-width="0.75"/>
<line x1="154.56" y1="299.00" x2="154.56" y2="301.60" stroke="#111" stroke-width="0.75"/>
<line x1="158.48" y1="299.00" x2="158.48" y2="301.00" stroke="#111" stroke-width="0.75"/>
<line x1="162.40" y1="299.00" x2="162.40" y2="301.60" stroke="#111" stroke-width="0.75"/>
<path d="M173.60,299.00 L173.60,298.98 L174.07,298.98 L174.55,298.98 L175.02,298.98 L175.50,298.98 L175.97,298.97 L176.44,298.97 L176.92,298.97 L177.39,298.96 L177.87,298.96 L178.34,298.96 L178.82,298.95 L179.29,298.95 L179.76,298.94 L180.24,298.93 L180.71,298.93 L181.19,298.92 L181.66,298.92 L182.13,298.91 L182.61,298.90 L183.08,298.89 L183.56,298.88 L184.03,298.87 L184.51,298.86 L184.98,298.85 L185.45,298.84 L185.93,298.83 L186.40,298.82 L186.88,298.80 L187.35,298.78 L187.82,298.75 L188.30,298.70 L188.77,298.60 L189.25,298.44 L189.72,298.15 L190.20,297.68 L190.67,296.92 L191.14,295.80 L191.62,294.22 L192.09,292.14 L192.57,289.59 L193.04,286.71 L193.51,283.71 L193.99,280.92 L194.46,278.66 L194.94,277.23 L195.41,276.77 L195.89,276.98 L196.36,277.72 L196.83,278.93 L197.31,280.50 L197.78,282.29 L198.26,284.21 L198.73,286.12 L199.20,287.96 L199.68,289.63 L200.15,291.11 L200.63,292.37 L201.10,293.43 L201.58,294.31 L202.05,295.04 L202.52,295.64 L203.00,296.14 L203.47,296.56 L203.95,296.90 L204.42,297.19 L204.89,297.43 L205.37,297.63 L205.84,297.80 L206.32,297.93 L206.79,298.03 L207.27,298.12 L207.74,298.18 L208.21,298.23 L208.69,298.26 L209.16,298.29 L209.64,298.31 L210.11,298.33 L210.58,298.34 L211.06,298.35 L211.53,298.36 L212.01,298.37 L212.48,298.38 L212.96,298.39 L213.43,298.40 L213.90,298.41 L214.38,298.42 L214.85,298.43 L215.33,298.44 L215.80,298.45 L216.27,298.46 L216.75,298.47 L217.22,298.48 L217.70,298.49 L218.17,298.50 L218.65,298.51 L219.12,298.52 L219.59,298.53 L220.07,298.54 L220.54,298.55 L221.02,298.56 L221.49,298.58 L221.96,298.59 L222.44,298.60 L222.91,298.61 L223.39,298.62 L223.86,298.63 L224.34,298.64 L224.81,298.66 L225.28,298.67 L225.76,298.68 L226.23,298.69 L226.71,298.70 L227.18,298.71 L227.65,298.72 L228.13,298.73 L228.60,298.74 L229.08,298.75 L229.55,298.76 L230.03,298.77 L230.50,298.78 L230.50,299.00Z" fill="#808080" stroke="#777" stroke-width="0.3"/>
<path d="M173.60,299.00 L174.07,299.00 L174.55,299.00 L175.02,299.00 L175.50,299.00 L175.97,299.00 L176.44,299.00 L176.92,299.00 L177.39,299.00 L177.87,299.00 L178.34,299.00 L178.82,299.00 L179.29,299.00 L179.76,299.00 L180.24,299.00 L180.71,299.00 L181.19,299.00 L181.66,299.00 L182.13,299.00 L182.61,299.00 L183.08,299.00 L183.56,299.00 L184.03,299.00 L184.51,299.00 L184.98,299.00 L185.45,299.00 L185.93,299.00 L186.40,298.99 L186.88,298.97 L187.35,298.91 L187.82,298.77 L188.30,298.48 L188.77,297.88 L189.25,296.77 L189.72,294.89 L190.20,292.00 L190.67,287.96 L191.14,282.89 L191.62,277.23 L192.09,271.77 L192.57,267.48 L193.04,265.21 L193.51,265.47 L193.99,268.20 L194.46,272.81 L194.94,278.38 L195.41,283.97 L195.89,288.86 L196.36,292.67 L196.83,295.34 L197.31,297.04 L197.78,298.03 L198.26,298.55 L198.73,298.81 L199.20,298.93 L199.68,298.97 L200.15,298.99 L200.63,299.00 L201.10,299.00 L201.58,299.00 L202.05,299.00 L202.52,299.00 L203.00,299.00 L203.47,299.00 L203.95,299.00 L204.42,299.00 L204.89,299.00 L205.37,299.00 L205.84,299.00 L206.32,299.00 L206.79,299.00 L207.27,299.00 L207.74,299.00 L208.21,299.00 L208.69,299.00 L209.16,299.00 L209.64,299.00 L210.11,299.00 L210.58,299.00 L211.06,299.00 L211.53,299.00 L212.01,299.00 L212.48,299.00 L212.96,299.00 L213.43,299.00 L213.90,299.00 L214.38,299.00 L214.85,299.00 L215.33,299.00 L215.80,299.00 L216.27,299.00 L216.75,299.00 L217.22,299.00 L217.70,299.00 L218.17,299.00 L218.65,299.00 L219.12,299.00 L219.59,299.00 L220.07,299.00 L220.54,299.00 L221.02,299.00 L221.49,299.00 L221.96,299.00 L222.44,299.00 L222.91,299.00 L223.39,299.00 L223.86,299.00 L224.34,299.00 L224.81,299.00 L225.28,299.00 L225.76,299.00 L226.23,299.00 L226.71,299.00 L227.18,299.00 L227.65,299.00 L228.13,299.00 L228.60,299.00 L229.08,299.00 L229.55,299.00 L230.03,299.00 L230.50,299.00" fill="none" stroke="#000" stroke-width="0.95" stroke-linejoin="round"/>
<rect x="173.50" y="265.50" width="57.00" height="34.00" fill="none" stroke="#333" stroke-width="1"/>
<line x1="174.60" y1="299.00" x2="174.60" y2="301.60" stroke="#111" stroke-width="0.75"/>
<line x1="178.52" y1="299.00" x2="178.52" y2="301.00" stroke="#111" stroke-width="0.75"/>
<line x1="182.44" y1="299.00" x2="182.44" y2="301.60" stroke="#111" stroke-width="0.75"/>
<line x1="186.36" y1="299.00" x2="186.36" y2="301.00" stroke="#111" stroke-width="0.75"/>
<line x1="190.29" y1="299.00" x2="190.29" y2="301.60" stroke="#111" stroke-width="0.75"/>
<line x1="194.21" y1="299.00" x2="194.21" y2="301.00" stroke="#111" stroke-width="0.75"/>
<line x1="198.13" y1="299.00" x2="198.13" y2="301.60" stroke="#111" stroke-width="0.75"/>
<line x1="202.05" y1="299.00" x2="202.05" y2="301.00" stroke="#111" stroke-width="0.75"/>
<line x1="205.97" y1="299.00" x2="205.97" y2="301.60" stroke="#111" stroke-width="0.75"/>
<line x1="209.89" y1="299.00" x2="209.89" y2="301.00" stroke="#111" stroke-width="0.75"/>
<line x1="213.81" y1="299.00" x2="213.81" y2="301.60" stroke="#111" stroke-width="0.75"/>
<line x1="217.74" y1="299.00" x2="217.74" y2="301.00" stroke="#111" stroke-width="0.75"/>
<line x1="221.66" y1="299.00" x2="221.66" y2="301.60" stroke="#111" stroke-width="0.75"/>
<line x1="225.58" y1="299.00" x2="225.58" y2="301.00" stroke="#111" stroke-width="0.75"/>
<line x1="229.50" y1="299.00" x2="229.50" y2="301.60" stroke="#111" stroke-width="0.75"/>
<text x="18.60" y="327.50" font-size="8.3" text-anchor="middle" fill="#111" stroke="#111" stroke-width="0.22">Memory</text>
<path d="M39.40,341.60 L39.40,341.60 L39.87,341.60 L40.35,341.60 L40.82,341.60 L41.30,341.60 L41.77,341.60 L42.24,341.60 L42.72,341.60 L43.19,341.60 L43.67,341.60 L44.14,341.60 L44.62,341.60 L45.09,341.60 L45.56,341.60 L46.04,341.60 L46.51,341.60 L46.99,341.60 L47.46,341.60 L47.94,341.60 L48.41,341.60 L48.88,341.60 L49.36,341.60 L49.83,341.60 L50.31,341.60 L50.78,341.60 L51.25,341.60 L51.73,341.60 L52.20,341.60 L52.68,341.60 L53.15,341.60 L53.62,341.60 L54.10,341.59 L54.57,341.58 L55.05,341.56 L55.52,341.51 L56.00,341.40 L56.47,341.20 L56.94,340.84 L57.42,340.22 L57.89,339.24 L58.37,337.78 L58.84,335.75 L59.31,333.13 L59.79,330.01 L60.26,326.61 L60.74,323.27 L61.21,320.38 L61.69,318.36 L62.16,317.48 L62.63,317.50 L63.11,318.03 L63.58,319.02 L64.06,320.40 L64.53,322.07 L65.00,323.94 L65.48,325.89 L65.95,327.85 L66.43,329.74 L66.90,331.51 L67.38,333.11 L67.85,334.51 L68.32,335.72 L68.80,336.76 L69.27,337.63 L69.75,338.36 L70.22,338.97 L70.69,339.48 L71.17,339.90 L71.64,340.25 L72.12,340.54 L72.59,340.78 L73.07,340.97 L73.54,341.13 L74.01,341.25 L74.49,341.34 L74.96,341.42 L75.44,341.47 L75.91,341.51 L76.38,341.54 L76.86,341.56 L77.33,341.57 L77.81,341.58 L78.28,341.59 L78.76,341.59 L79.23,341.60 L79.70,341.60 L80.18,341.60 L80.65,341.60 L81.13,341.60 L81.60,341.60 L82.07,341.60 L82.55,341.60 L83.02,341.60 L83.50,341.60 L83.97,341.60 L84.45,341.60 L84.92,341.60 L85.39,341.60 L85.87,341.60 L86.34,341.60 L86.82,341.60 L87.29,341.60 L87.76,341.60 L88.24,341.60 L88.71,341.60 L89.19,341.60 L89.66,341.60 L90.14,341.60 L90.61,341.60 L91.08,341.60 L91.56,341.60 L92.03,341.60 L92.51,341.60 L92.98,341.60 L93.45,341.60 L93.93,341.60 L94.40,341.60 L94.88,341.60 L95.35,341.60 L95.83,341.60 L96.30,341.60 L96.30,341.60Z" fill="#808080" stroke="#777" stroke-width="0.3"/>
<path d="M39.40,341.60 L39.87,341.60 L40.35,341.60 L40.82,341.60 L41.30,341.60 L41.77,341.60 L42.24,341.60 L42.72,341.60 L43.19,341.60 L43.67,341.60 L44.14,341.60 L44.62,341.60 L45.09,341.60 L45.56,341.60 L46.04,341.60 L46.51,341.60 L46.99,341.60 L47.46,341.60 L47.94,341.60 L48.41,341.60 L48.88,341.60 L49.36,341.60 L49.83,341.60 L50.31,341.60 L50.78,341.60 L51.25,341.60 L51.73,341.60 L52.20,341.60 L52.68,341.60 L53.15,341.59 L53.62,341.58 L54.10,341.55 L54.57,341.46 L55.05,341.26 L55.52,340.85 L56.00,340.04 L56.47,338.61 L56.94,336.30 L57.42,332.91 L57.89,328.39 L58.37,323.03 L58.84,317.42 L59.31,312.45 L59.79,309.08 L60.26,308.01 L60.74,309.48 L61.21,313.17 L61.69,318.30 L62.16,323.92 L62.63,329.18 L63.11,333.53 L63.58,336.74 L64.06,338.89 L64.53,340.20 L65.00,340.93 L65.48,341.31 L65.95,341.48 L66.43,341.55 L66.90,341.58 L67.38,341.59 L67.85,341.60 L68.32,341.60 L68.80,341.60 L69.27,341.60 L69.75,341.60 L70.22,341.60 L70.69,341.60 L71.17,341.60 L71.64,341.60 L72.12,341.60 L72.59,341.60 L73.07,341.60 L73.54,341.60 L74.01,341.60 L74.49,341.60 L74.96,341.60 L75.44,341.60 L75.91,341.60 L76.38,341.60 L76.86,341.60 L77.33,341.60 L77.81,341.60 L78.28,341.60 L78.76,341.60 L79.23,341.60 L79.70,341.60 L80.18,341.60 L80.65,341.60 L81.13,341.60 L81.60,341.60 L82.07,341.60 L82.55,341.60 L83.02,341.60 L83.50,341.60 L83.97,341.60 L84.45,341.60 L84.92,341.60 L85.39,341.60 L85.87,341.60 L86.34,341.60 L86.82,341.60 L87.29,341.60 L87.76,341.60 L88.24,341.60 L88.71,341.60 L89.19,341.60 L89.66,341.60 L90.14,341.60 L90.61,341.60 L91.08,341.60 L91.56,341.60 L92.03,341.60 L92.51,341.60 L92.98,341.60 L93.45,341.60 L93.93,341.60 L94.40,341.60 L94.88,341.60 L95.35,341.60 L95.83,341.60 L96.30,341.60" fill="none" stroke="#000" stroke-width="0.95" stroke-linejoin="round"/>
<rect x="39.50" y="308.50" width="57.00" height="33.00" fill="none" stroke="#333" stroke-width="1"/>
<line x1="40.40" y1="341.60" x2="40.40" y2="344.20" stroke="#111" stroke-width="0.75"/>
<line x1="44.32" y1="341.60" x2="44.32" y2="343.60" stroke="#111" stroke-width="0.75"/>
<line x1="48.24" y1="341.60" x2="48.24" y2="344.20" stroke="#111" stroke-width="0.75"/>
<line x1="52.16" y1="341.60" x2="52.16" y2="343.60" stroke="#111" stroke-width="0.75"/>
<line x1="56.09" y1="341.60" x2="56.09" y2="344.20" stroke="#111" stroke-width="0.75"/>
<line x1="60.01" y1="341.60" x2="60.01" y2="343.60" stroke="#111" stroke-width="0.75"/>
<line x1="63.93" y1="341.60" x2="63.93" y2="344.20" stroke="#111" stroke-width="0.75"/>
<line x1="67.85" y1="341.60" x2="67.85" y2="343.60" stroke="#111" stroke-width="0.75"/>
<line x1="71.77" y1="341.60" x2="71.77" y2="344.20" stroke="#111" stroke-width="0.75"/>
<line x1="75.69" y1="341.60" x2="75.69" y2="343.60" stroke="#111" stroke-width="0.75"/>
<line x1="79.61" y1="341.60" x2="79.61" y2="344.20" stroke="#111" stroke-width="0.75"/>
<line x1="83.54" y1="341.60" x2="83.54" y2="343.60" stroke="#111" stroke-width="0.75"/>
<line x1="87.46" y1="341.60" x2="87.46" y2="344.20" stroke="#111" stroke-width="0.75"/>
<line x1="91.38" y1="341.60" x2="91.38" y2="343.60" stroke="#111" stroke-width="0.75"/>
<line x1="95.30" y1="341.60" x2="95.30" y2="344.20" stroke="#111" stroke-width="0.75"/>
<path d="M106.50,341.60 L106.50,341.60 L106.97,341.60 L107.45,341.60 L107.92,341.60 L108.40,341.60 L108.87,341.60 L109.34,341.60 L109.82,341.60 L110.29,341.60 L110.77,341.60 L111.24,341.60 L111.72,341.60 L112.19,341.60 L112.66,341.60 L113.14,341.60 L113.61,341.60 L114.09,341.60 L114.56,341.60 L115.03,341.60 L115.51,341.60 L115.98,341.60 L116.46,341.60 L116.93,341.60 L117.41,341.60 L117.88,341.60 L118.35,341.60 L118.83,341.60 L119.30,341.60 L119.78,341.60 L120.25,341.59 L120.72,341.58 L121.20,341.54 L121.67,341.44 L122.15,341.23 L122.62,340.77 L123.10,339.91 L123.57,338.39 L124.04,335.96 L124.52,332.42 L124.99,327.79 L125.47,322.35 L125.94,316.77 L126.41,311.95 L126.89,308.82 L127.36,308.05 L127.84,309.82 L128.31,313.72 L128.79,318.97 L129.26,324.59 L129.73,329.76 L130.21,333.97 L130.68,337.05 L131.16,339.09 L131.63,340.32 L132.10,340.99 L132.58,341.33 L133.05,341.49 L133.53,341.56 L134.00,341.59 L134.48,341.60 L134.95,341.60 L135.42,341.60 L135.90,341.60 L136.37,341.60 L136.85,341.60 L137.32,341.60 L137.80,341.60 L138.27,341.60 L138.74,341.60 L139.22,341.60 L139.69,341.60 L140.17,341.60 L140.64,341.60 L141.11,341.60 L141.59,341.60 L142.06,341.60 L142.54,341.60 L143.01,341.60 L143.49,341.60 L143.96,341.60 L144.43,341.60 L144.91,341.60 L145.38,341.60 L145.86,341.60 L146.33,341.60 L146.80,341.60 L147.28,341.60 L147.75,341.60 L148.23,341.60 L148.70,341.60 L149.18,341.60 L149.65,341.60 L150.12,341.60 L150.60,341.60 L151.07,341.60 L151.55,341.60 L152.02,341.60 L152.49,341.60 L152.97,341.60 L153.44,341.60 L153.92,341.60 L154.39,341.60 L154.87,341.60 L155.34,341.60 L155.81,341.60 L156.29,341.60 L156.76,341.60 L157.24,341.60 L157.71,341.60 L158.18,341.60 L158.66,341.60 L159.13,341.60 L159.61,341.60 L160.08,341.60 L160.56,341.60 L161.03,341.60 L161.50,341.60 L161.98,341.60 L162.45,341.60 L162.93,341.60 L163.40,341.60 L163.40,341.60Z" fill="#808080" stroke="#777" stroke-width="0.3"/>
<path d="M106.50,341.60 L106.97,341.60 L107.45,341.60 L107.92,341.60 L108.40,341.60 L108.87,341.60 L109.34,341.60 L109.82,341.60 L110.29,341.60 L110.77,341.60 L111.24,341.60 L111.72,341.60 L112.19,341.60 L112.66,341.60 L113.14,341.60 L113.61,341.60 L114.09,341.60 L114.56,341.60 L115.03,341.60 L115.51,341.60 L115.98,341.60 L116.46,341.60 L116.93,341.60 L117.41,341.60 L117.88,341.60 L118.35,341.60 L118.83,341.60 L119.30,341.60 L119.78,341.60 L120.25,341.59 L120.72,341.58 L121.20,341.54 L121.67,341.44 L122.15,341.23 L122.62,340.77 L123.10,339.91 L123.57,338.39 L124.04,335.96 L124.52,332.42 L124.99,327.79 L125.47,322.35 L125.94,316.77 L126.41,311.95 L126.89,308.82 L127.36,308.05 L127.84,309.82 L128.31,313.72 L128.79,318.97 L129.26,324.59 L129.73,329.76 L130.21,333.97 L130.68,337.05 L131.16,339.09 L131.63,340.32 L132.10,340.99 L132.58,341.33 L133.05,341.49 L133.53,341.56 L134.00,341.59 L134.48,341.60 L134.95,341.60 L135.42,341.60 L135.90,341.60 L136.37,341.60 L136.85,341.60 L137.32,341.60 L137.80,341.60 L138.27,341.60 L138.74,341.60 L139.22,341.60 L139.69,341.60 L140.17,341.60 L140.64,341.60 L141.11,341.60 L141.59,341.60 L142.06,341.60 L142.54,341.60 L143.01,341.60 L143.49,341.60 L143.96,341.60 L144.43,341.60 L144.91,341.60 L145.38,341.60 L145.86,341.60 L146.33,341.60 L146.80,341.60 L147.28,341.60 L147.75,341.60 L148.23,341.60 L148.70,341.60 L149.18,341.60 L149.65,341.60 L150.12,341.60 L150.60,341.60 L151.07,341.60 L151.55,341.60 L152.02,341.60 L152.49,341.60 L152.97,341.60 L153.44,341.60 L153.92,341.60 L154.39,341.60 L154.87,341.60 L155.34,341.60 L155.81,341.60 L156.29,341.60 L156.76,341.60 L157.24,341.60 L157.71,341.60 L158.18,341.60 L158.66,341.60 L159.13,341.60 L159.61,341.60 L160.08,341.60 L160.56,341.60 L161.03,341.60 L161.50,341.60 L161.98,341.60 L162.45,341.60 L162.93,341.60 L163.40,341.60" fill="none" stroke="#000" stroke-width="0.95" stroke-linejoin="round"/>
<rect x="106.50" y="308.50" width="57.00" height="33.00" fill="none" stroke="#333" stroke-width="1"/>
<line x1="107.50" y1="341.60" x2="107.50" y2="344.20" stroke="#111" stroke-width="0.75"/>
<line x1="111.42" y1="341.60" x2="111.42" y2="343.60" stroke="#111" stroke-width="0.75"/>
<line x1="115.34" y1="341.60" x2="115.34" y2="344.20" stroke="#111" stroke-width="0.75"/>
<line x1="119.26" y1="341.60" x2="119.26" y2="343.60" stroke="#111" stroke-width="0.75"/>
<line x1="123.19" y1="341.60" x2="123.19" y2="344.20" stroke="#111" stroke-width="0.75"/>
<line x1="127.11" y1="341.60" x2="127.11" y2="343.60" stroke="#111" stroke-width="0.75"/>
<line x1="131.03" y1="341.60" x2="131.03" y2="344.20" stroke="#111" stroke-width="0.75"/>
<line x1="134.95" y1="341.60" x2="134.95" y2="343.60" stroke="#111" stroke-width="0.75"/>
<line x1="138.87" y1="341.60" x2="138.87" y2="344.20" stroke="#111" stroke-width="0.75"/>
<line x1="142.79" y1="341.60" x2="142.79" y2="343.60" stroke="#111" stroke-width="0.75"/>
<line x1="146.71" y1="341.60" x2="146.71" y2="344.20" stroke="#111" stroke-width="0.75"/>
<line x1="150.64" y1="341.60" x2="150.64" y2="343.60" stroke="#111" stroke-width="0.75"/>
<line x1="154.56" y1="341.60" x2="154.56" y2="344.20" stroke="#111" stroke-width="0.75"/>
<line x1="158.48" y1="341.60" x2="158.48" y2="343.60" stroke="#111" stroke-width="0.75"/>
<line x1="162.40" y1="341.60" x2="162.40" y2="344.20" stroke="#111" stroke-width="0.75"/>
<path d="M173.60,341.60 L173.60,341.60 L174.07,341.60 L174.55,341.60 L175.02,341.60 L175.50,341.60 L175.97,341.60 L176.44,341.60 L176.92,341.60 L177.39,341.60 L177.87,341.60 L178.34,341.60 L178.82,341.60 L179.29,341.60 L179.76,341.60 L180.24,341.60 L180.71,341.60 L181.19,341.60 L181.66,341.60 L182.13,341.60 L182.61,341.60 L183.08,341.60 L183.56,341.60 L184.03,341.60 L184.51,341.60 L184.98,341.60 L185.45,341.60 L185.93,341.59 L186.40,341.59 L186.88,341.58 L187.35,341.56 L187.82,341.53 L188.30,341.47 L188.77,341.37 L189.25,341.23 L189.72,341.00 L190.20,340.66 L190.67,340.19 L191.14,339.53 L191.62,338.67 L192.09,337.57 L192.57,336.23 L193.04,334.67 L193.51,332.94 L193.99,331.10 L194.46,329.25 L194.94,327.53 L195.41,326.06 L195.89,324.95 L196.36,324.29 L196.83,324.12 L197.31,324.30 L197.78,324.80 L198.26,325.56 L198.73,326.55 L199.20,327.70 L199.68,328.95 L200.15,330.25 L200.63,331.55 L201.10,332.81 L201.58,334.00 L202.05,335.10 L202.52,336.11 L203.00,337.01 L203.47,337.81 L203.95,338.50 L204.42,339.11 L204.89,339.62 L205.37,340.06 L205.84,340.42 L206.32,340.71 L206.79,340.95 L207.27,341.13 L207.74,341.27 L208.21,341.37 L208.69,341.45 L209.16,341.50 L209.64,341.54 L210.11,341.56 L210.58,341.58 L211.06,341.59 L211.53,341.59 L212.01,341.60 L212.48,341.60 L212.96,341.60 L213.43,341.60 L213.90,341.60 L214.38,341.60 L214.85,341.60 L215.33,341.60 L215.80,341.60 L216.27,341.60 L216.75,341.60 L217.22,341.60 L217.70,341.60 L218.17,341.60 L218.65,341.60 L219.12,341.60 L219.59,341.60 L220.07,341.60 L220.54,341.60 L221.02,341.60 L221.49,341.60 L221.96,341.60 L222.44,341.60 L222.91,341.60 L223.39,341.60 L223.86,341.60 L224.34,341.60 L224.81,341.60 L225.28,341.60 L225.76,341.60 L226.23,341.60 L226.71,341.60 L227.18,341.60 L227.65,341.60 L228.13,341.60 L228.60,341.60 L229.08,341.60 L229.55,341.60 L230.03,341.60 L230.50,341.60 L230.50,341.60Z" fill="#808080" stroke="#777" stroke-width="0.3"/>
<path d="M173.60,341.60 L174.07,341.60 L174.55,341.60 L175.02,341.60 L175.50,341.60 L175.97,341.60 L176.44,341.60 L176.92,341.60 L177.39,341.60 L177.87,341.60 L178.34,341.60 L178.82,341.60 L179.29,341.60 L179.76,341.60 L180.24,341.60 L180.71,341.60 L181.19,341.60 L181.66,341.60 L182.13,341.60 L182.61,341.60 L183.08,341.60 L183.56,341.60 L184.03,341.60 L184.51,341.60 L184.98,341.60 L185.45,341.60 L185.93,341.60 L186.40,341.60 L186.88,341.60 L187.35,341.60 L187.82,341.59 L188.30,341.57 L188.77,341.52 L189.25,341.39 L189.72,341.07 L190.20,340.41 L190.67,339.13 L191.14,336.94 L191.62,333.55 L192.09,328.86 L192.57,323.16 L193.04,317.15 L193.51,311.95 L193.99,308.68 L194.46,308.13 L194.94,310.18 L195.41,314.30 L195.89,319.64 L196.36,325.25 L196.83,330.32 L197.31,334.40 L197.78,337.35 L198.26,339.27 L198.73,340.42 L199.20,341.05 L199.68,341.36 L200.15,341.50 L200.63,341.56 L201.10,341.59 L201.58,341.60 L202.05,341.60 L202.52,341.60 L203.00,341.60 L203.47,341.60 L203.95,341.60 L204.42,341.60 L204.89,341.60 L205.37,341.60 L205.84,341.60 L206.32,341.60 L206.79,341.60 L207.27,341.60 L207.74,341.60 L208.21,341.60 L208.69,341.60 L209.16,341.60 L209.64,341.60 L210.11,341.60 L210.58,341.60 L211.06,341.60 L211.53,341.60 L212.01,341.60 L212.48,341.60 L212.96,341.60 L213.43,341.60 L213.90,341.60 L214.38,341.60 L214.85,341.60 L215.33,341.60 L215.80,341.60 L216.27,341.60 L216.75,341.60 L217.22,341.60 L217.70,341.60 L218.17,341.60 L218.65,341.60 L219.12,341.60 L219.59,341.60 L220.07,341.60 L220.54,341.60 L221.02,341.60 L221.49,341.60 L221.96,341.60 L222.44,341.60 L222.91,341.60 L223.39,341.60 L223.86,341.60 L224.34,341.60 L224.81,341.60 L225.28,341.60 L225.76,341.60 L226.23,341.60 L226.71,341.60 L227.18,341.60 L227.65,341.60 L228.13,341.60 L228.60,341.60 L229.08,341.60 L229.55,341.60 L230.03,341.60 L230.50,341.60" fill="none" stroke="#000" stroke-width="0.95" stroke-linejoin="round"/>
<rect x="173.50" y="308.50" width="57.00" height="33.00" fill="none" stroke="#333" stroke-width="1"/>
<line x1="174.60" y1="341.60" x2="174.60" y2="344.20" stroke="#111" stroke-width="0.75"/>
<line x1="178.52" y1="341.60" x2="178.52" y2="343.60" stroke="#111" stroke-width="0.75"/>
<line x1="182.44" y1="341.60" x2="182.44" y2="344.20" stroke="#111" stroke-width="0.75"/>
<line x1="186.36" y1="341.60" x2="186.36" y2="343.60" stroke="#111" stroke-width="0.75"/>
<line x1="190.29" y1="341.60" x2="190.29" y2="344.20" stroke="#111" stroke-width="0.75"/>
<line x1="194.21" y1="341.60" x2="194.21" y2="343.60" stroke="#111" stroke-width="0.75"/>
<line x1="198.13" y1="341.60" x2="198.13" y2="344.20" stroke="#111" stroke-width="0.75"/>
<line x1="202.05" y1="341.60" x2="202.05" y2="343.60" stroke="#111" stroke-width="0.75"/>
<line x1="205.97" y1="341.60" x2="205.97" y2="344.20" stroke="#111" stroke-width="0.75"/>
<line x1="209.89" y1="341.60" x2="209.89" y2="343.60" stroke="#111" stroke-width="0.75"/>
<line x1="213.81" y1="341.60" x2="213.81" y2="344.20" stroke="#111" stroke-width="0.75"/>
<line x1="217.74" y1="341.60" x2="217.74" y2="343.60" stroke="#111" stroke-width="0.75"/>
<line x1="221.66" y1="341.60" x2="221.66" y2="344.20" stroke="#111" stroke-width="0.75"/>
<line x1="225.58" y1="341.60" x2="225.58" y2="343.60" stroke="#111" stroke-width="0.75"/>
<line x1="229.50" y1="341.60" x2="229.50" y2="344.20" stroke="#111" stroke-width="0.75"/>
<line x1="40.00" y1="347.80" x2="86.90" y2="347.80" stroke="#222" stroke-width="0.8"/>
<polygon points="88.90,347.80 85.70,346.30 85.70,349.30" fill="#222"/>
<text x="41.80" y="357.10" font-size="8.6" text-anchor="start" fill="#111" stroke="#111" stroke-width="0.22">FSC</text>
<text x="4.50" y="372.60" font-size="11.5" font-weight="bold" text-anchor="start" fill="#000" stroke="#000" stroke-width="0.1">E</text>
<text x="67.85" y="377.30" font-size="8.4" text-anchor="middle" fill="#111" stroke="#111" stroke-width="0.22">IL-2 100 U/ml</text>
<text x="134.95" y="377.30" font-size="8.4" text-anchor="middle" fill="#111" stroke="#111" stroke-width="0.22">IL-7 0.2 ng/ml</text>
<text x="202.05" y="377.30" font-size="8.4" text-anchor="middle" fill="#111" stroke="#111" stroke-width="0.22">IL-7 5 ng/ml</text>
<text x="18.60" y="400.50" font-size="8.3" text-anchor="middle" fill="#111" stroke="#111" stroke-width="0.22">Naive</text>
<path d="M39.40,416.60 L39.40,416.58 L39.87,416.55 L40.35,416.50 L40.82,416.40 L41.30,416.23 L41.77,415.94 L42.24,415.51 L42.72,414.90 L43.19,414.08 L43.67,413.08 L44.14,411.96 L44.62,410.81 L45.09,409.77 L45.56,408.97 L46.04,408.47 L46.51,408.25 L46.99,408.11 L47.46,407.41 L47.94,405.32 L48.41,401.17 L48.88,395.13 L49.36,388.57 L49.83,383.76 L50.31,382.73 L50.78,385.28 L51.25,390.39 L51.73,396.77 L52.20,403.06 L52.68,408.25 L53.15,411.95 L53.62,414.26 L54.10,415.54 L54.57,416.17 L55.05,416.44 L55.52,416.55 L56.00,416.58 L56.47,416.60 L56.94,416.60 L57.42,416.60 L57.89,416.60 L58.37,416.60 L58.84,416.60 L59.31,416.60 L59.79,416.60 L60.26,416.60 L60.74,416.60 L61.21,416.60 L61.69,416.60 L62.16,416.60 L62.63,416.60 L63.11,416.60 L63.58,416.60 L64.06,416.60 L64.53,416.60 L65.00,416.60 L65.48,416.60 L65.95,416.60 L66.43,416.60 L66.90,416.60 L67.38,416.60 L67.85,416.60 L68.32,416.60 L68.80,416.60 L69.27,416.60 L69.75,416.60 L70.22,416.60 L70.69,416.60 L71.17,416.60 L71.64,416.60 L72.12,416.60 L72.59,416.60 L73.07,416.60 L73.54,416.60 L74.01,416.60 L74.49,416.60 L74.96,416.60 L75.44,416.60 L75.91,416.60 L76.38,416.60 L76.86,416.60 L77.33,416.60 L77.81,416.60 L78.28,416.60 L78.76,416.60 L79.23,416.60 L79.70,416.60 L80.18,416.60 L80.65,416.60 L81.13,416.60 L81.60,416.60 L82.07,416.60 L82.55,416.60 L83.02,416.60 L83.50,416.60 L83.97,416.60 L84.45,416.60 L84.92,416.60 L85.39,416.60 L85.87,416.60 L86.34,416.60 L86.82,416.60 L87.29,416.60 L87.76,416.60 L88.24,416.60 L88.71,416.60 L89.19,416.60 L89.66,416.60 L90.14,416.60 L90.61,416.60 L91.08,416.60 L91.56,416.60 L92.03,416.60 L92.51,416.60 L92.98,416.60 L93.45,416.60 L93.93,416.60 L94.40,416.60 L94.88,416.60 L95.35,416.60 L95.83,416.60 L96.30,416.60 L96.30,416.60Z" fill="#808080" stroke="#777" stroke-width="0.3"/>
<path d="M39.40,416.58 L39.87,416.55 L40.35,416.50 L40.82,416.40 L41.30,416.23 L41.77,415.94 L42.24,415.51 L42.72,414.90 L43.19,414.08 L43.67,413.08 L44.14,411.96 L44.62,410.81 L45.09,409.77 L45.56,408.97 L46.04,408.47 L46.51,408.25 L46.99,408.11 L47.46,407.41 L47.94,405.32 L48.41,401.17 L48.88,395.13 L49.36,388.57 L49.83,383.76 L50.31,382.73 L50.78,385.28 L51.25,390.39 L51.73,396.77 L52.20,403.06 L52.68,408.25 L53.15,411.95 L53.62,414.26 L54.10,415.54 L54.57,416.17 L55.05,416.44 L55.52,416.55 L56.00,416.58 L56.47,416.60 L56.94,416.60 L57.42,416.60 L57.89,416.60 L58.37,416.60 L58.84,416.60 L59.31,416.60 L59.79,416.60 L60.26,416.60 L60.74,416.60 L61.21,416.60 L61.69,416.60 L62.16,416.60 L62.63,416.60 L63.11,416.60 L63.58,416.60 L64.06,416.60 L64.53,416.60 L65.00,416.60 L65.48,416.60 L65.95,416.60 L66.43,416.60 L66.90,416.60 L67.38,416.60 L67.85,416.60 L68.32,416.60 L68.80,416.60 L69.27,416.60 L69.75,416.60 L70.22,416.60 L70.69,416.60 L71.17,416.60 L71.64,416.60 L72.12,416.60 L72.59,416.60 L73.07,416.60 L73.54,416.60 L74.01,416.60 L74.49,416.60 L74.96,416.60 L75.44,416.60 L75.91,416.60 L76.38,416.60 L76.86,416.60 L77.33,416.60 L77.81,416.60 L78.28,416.60 L78.76,416.60 L79.23,416.60 L79.70,416.60 L80.18,416.60 L80.65,416.60 L81.13,416.60 L81.60,416.60 L82.07,416.60 L82.55,416.60 L83.02,416.60 L83.50,416.60 L83.97,416.60 L84.45,416.60 L84.92,416.60 L85.39,416.60 L85.87,416.60 L86.34,416.60 L86.82,416.60 L87.29,416.60 L87.76,416.60 L88.24,416.60 L88.71,416.60 L89.19,416.60 L89.66,416.60 L90.14,416.60 L90.61,416.60 L91.08,416.60 L91.56,416.60 L92.03,416.60 L92.51,416.60 L92.98,416.60 L93.45,416.60 L93.93,416.60 L94.40,416.60 L94.88,416.60 L95.35,416.60 L95.83,416.60 L96.30,416.60" fill="none" stroke="#000" stroke-width="0.95" stroke-linejoin="round"/>
<rect x="39.50" y="382.50" width="57.00" height="34.00" fill="none" stroke="#333" stroke-width="1"/>
<line x1="42.24" y1="416.60" x2="42.24" y2="419.00" stroke="#111" stroke-width="0.75"/>
<line x1="43.95" y1="416.60" x2="43.95" y2="418.40" stroke="#111" stroke-width="0.75"/>
<line x1="46.80" y1="416.60" x2="46.80" y2="419.60" stroke="#111" stroke-width="0.75"/>
<line x1="50.05" y1="416.60" x2="50.05" y2="418.80" stroke="#111" stroke-width="0.75"/>
<line x1="51.96" y1="416.60" x2="51.96" y2="418.80" stroke="#111" stroke-width="0.75"/>
<line x1="53.31" y1="416.60" x2="53.31" y2="418.80" stroke="#111" stroke-width="0.75"/>
<line x1="54.35" y1="416.60" x2="54.35" y2="418.80" stroke="#111" stroke-width="0.75"/>
<line x1="55.21" y1="416.60" x2="55.21" y2="418.80" stroke="#111" stroke-width="0.75"/>
<line x1="55.93" y1="416.60" x2="55.93" y2="418.80" stroke="#111" stroke-width="0.75"/>
<line x1="56.56" y1="416.60" x2="56.56" y2="418.80" stroke="#111" stroke-width="0.75"/>
<line x1="57.11" y1="416.60" x2="57.11" y2="418.80" stroke="#111" stroke-width="0.75"/>
<line x1="57.61" y1="416.60" x2="57.61" y2="419.60" stroke="#111" stroke-width="0.75"/>
<line x1="60.35" y1="416.60" x2="60.35" y2="418.80" stroke="#111" stroke-width="0.75"/>
<line x1="61.95" y1="416.60" x2="61.95" y2="418.80" stroke="#111" stroke-width="0.75"/>
<line x1="63.09" y1="416.60" x2="63.09" y2="418.80" stroke="#111" stroke-width="0.75"/>
<line x1="63.97" y1="416.60" x2="63.97" y2="418.80" stroke="#111" stroke-width="0.75"/>
<line x1="64.69" y1="416.60" x2="64.69" y2="418.80" stroke="#111" stroke-width="0.75"/>
<line x1="65.30" y1="416.60" x2="65.30" y2="418.80" stroke="#111" stroke-width="0.75"/>
<line x1="65.83" y1="416.60" x2="65.83" y2="418.80" stroke="#111" stroke-width="0.75"/>
<line x1="66.30" y1="416.60" x2="66.30" y2="418.80" stroke="#111" stroke-width="0.75"/>
<line x1="66.71" y1="416.60" x2="66.71" y2="419.60" stroke="#111" stroke-width="0.75"/>
<line x1="69.28" y1="416.60" x2="69.28" y2="418.80" stroke="#111" stroke-width="0.75"/>
<line x1="70.78" y1="416.60" x2="70.78" y2="418.80" stroke="#111" stroke-width="0.75"/>
<line x1="71.85" y1="416.60" x2="71.85" y2="418.80" stroke="#111" stroke-width="0.75"/>
<line x1="72.68" y1="416.60" x2="72.68" y2="418.80" stroke="#111" stroke-width="0.75"/>
<line x1="73.35" y1="416.60" x2="73.35" y2="418.80" stroke="#111" stroke-width="0.75"/>
<line x1="73.92" y1="416.60" x2="73.92" y2="418.80" stroke="#111" stroke-width="0.75"/>
<line x1="74.42" y1="416.60" x2="74.42" y2="418.80" stroke="#111" stroke-width="0.75"/>
<line x1="74.86" y1="416.60" x2="74.86" y2="418.80" stroke="#111" stroke-width="0.75"/>
<line x1="75.25" y1="416.60" x2="75.25" y2="419.60" stroke="#111" stroke-width="0.75"/>
<line x1="77.82" y1="416.60" x2="77.82" y2="418.80" stroke="#111" stroke-width="0.75"/>
<line x1="79.32" y1="416.60" x2="79.32" y2="418.80" stroke="#111" stroke-width="0.75"/>
<line x1="80.39" y1="416.60" x2="80.39" y2="418.80" stroke="#111" stroke-width="0.75"/>
<line x1="81.21" y1="416.60" x2="81.21" y2="418.80" stroke="#111" stroke-width="0.75"/>
<line x1="81.89" y1="416.60" x2="81.89" y2="418.80" stroke="#111" stroke-width="0.75"/>
<line x1="82.46" y1="416.60" x2="82.46" y2="418.80" stroke="#111" stroke-width="0.75"/>
<line x1="82.95" y1="416.60" x2="82.95" y2="418.80" stroke="#111" stroke-width="0.75"/>
<line x1="83.39" y1="416.60" x2="83.39" y2="418.80" stroke="#111" stroke-width="0.75"/>
<line x1="83.78" y1="416.60" x2="83.78" y2="419.60" stroke="#111" stroke-width="0.75"/>
<line x1="86.35" y1="416.60" x2="86.35" y2="418.80" stroke="#111" stroke-width="0.75"/>
<line x1="87.85" y1="416.60" x2="87.85" y2="418.80" stroke="#111" stroke-width="0.75"/>
<line x1="88.92" y1="416.60" x2="88.92" y2="418.80" stroke="#111" stroke-width="0.75"/>
<line x1="89.75" y1="416.60" x2="89.75" y2="418.80" stroke="#111" stroke-width="0.75"/>
<line x1="90.42" y1="416.60" x2="90.42" y2="418.80" stroke="#111" stroke-width="0.75"/>
<line x1="90.99" y1="416.60" x2="90.99" y2="418.80" stroke="#111" stroke-width="0.75"/>
<line x1="91.49" y1="416.60" x2="91.49" y2="418.80" stroke="#111" stroke-width="0.75"/>
<line x1="91.93" y1="416.60" x2="91.93" y2="418.80" stroke="#111" stroke-width="0.75"/>
<line x1="92.32" y1="416.60" x2="92.32" y2="419.60" stroke="#111" stroke-width="0.75"/>
<path d="M106.50,416.60 L106.50,416.59 L106.97,416.57 L107.45,416.53 L107.92,416.46 L108.40,416.34 L108.87,416.13 L109.34,415.79 L109.82,415.29 L110.29,414.60 L110.77,413.70 L111.24,412.64 L111.72,411.50 L112.19,410.37 L112.66,409.41 L113.14,408.73 L113.61,408.35 L114.09,408.21 L114.56,407.94 L115.03,406.79 L115.51,403.92 L115.98,398.93 L116.46,392.45 L116.93,386.31 L117.41,382.83 L117.88,383.39 L118.35,387.08 L118.83,392.87 L119.30,399.37 L119.78,405.30 L120.25,409.91 L120.72,413.03 L121.20,414.88 L121.67,415.85 L122.15,416.31 L122.62,416.50 L123.10,416.57 L123.57,416.59 L124.04,416.60 L124.52,416.60 L124.99,416.60 L125.47,416.60 L125.94,416.60 L126.41,416.60 L126.89,416.60 L127.36,416.60 L127.84,416.60 L128.31,416.60 L128.79,416.60 L129.26,416.60 L129.73,416.60 L130.21,416.60 L130.68,416.60 L131.16,416.60 L131.63,416.60 L132.10,416.60 L132.58,416.60 L133.05,416.60 L133.53,416.60 L134.00,416.60 L134.48,416.60 L134.95,416.60 L135.42,416.60 L135.90,416.60 L136.37,416.60 L136.85,416.60 L137.32,416.60 L137.80,416.60 L138.27,416.60 L138.74,416.60 L139.22,416.60 L139.69,416.60 L140.17,416.60 L140.64,416.60 L141.11,416.60 L141.59,416.60 L142.06,416.60 L142.54,416.60 L143.01,416.60 L143.49,416.60 L143.96,416.60 L144.43,416.60 L144.91,416.60 L145.38,416.60 L145.86,416.60 L146.33,416.60 L146.80,416.60 L147.28,416.60 L147.75,416.60 L148.23,416.60 L148.70,416.60 L149.18,416.60 L149.65,416.60 L150.12,416.60 L150.60,416.60 L151.07,416.60 L151.55,416.60 L152.02,416.60 L152.49,416.60 L152.97,416.60 L153.44,416.60 L153.92,416.60 L154.39,416.60 L154.87,416.60 L155.34,416.60 L155.81,416.60 L156.29,416.60 L156.76,416.60 L157.24,416.60 L157.71,416.60 L158.18,416.60 L158.66,416.60 L159.13,416.60 L159.61,416.60 L160.08,416.60 L160.56,416.60 L161.03,416.60 L161.50,416.60 L161.98,416.60 L162.45,416.60 L162.93,416.60 L163.40,416.60 L163.40,416.60Z" fill="#808080" stroke="#777" stroke-width="0.3"/>
<path d="M106.50,416.59 L106.97,416.57 L107.45,416.53 L107.92,416.46 L108.40,416.34 L108.87,416.13 L109.34,415.79 L109.82,415.29 L110.29,414.60 L110.77,413.70 L111.24,412.64 L111.72,411.50 L112.19,410.37 L112.66,409.41 L113.14,408.73 L113.61,408.35 L114.09,408.21 L114.56,407.94 L115.03,406.79 L115.51,403.92 L115.98,398.93 L116.46,392.45 L116.93,386.31 L117.41,382.83 L117.88,383.39 L118.35,387.08 L118.83,392.87 L119.30,399.37 L119.78,405.30 L120.25,409.91 L120.72,413.03 L121.20,414.88 L121.67,415.85 L122.15,416.31 L122.62,416.50 L123.10,416.57 L123.57,416.59 L124.04,416.60 L124.52,416.60 L124.99,416.60 L125.47,416.60 L125.94,416.60 L126.41,416.60 L126.89,416.60 L127.36,416.60 L127.84,416.60 L128.31,416.60 L128.79,416.60 L129.26,416.60 L129.73,416.60 L130.21,416.60 L130.68,416.60 L131.16,416.60 L131.63,416.60 L132.10,416.60 L132.58,416.60 L133.05,416.60 L133.53,416.60 L134.00,416.60 L134.48,416.60 L134.95,416.60 L135.42,416.60 L135.90,416.60 L136.37,416.60 L136.85,416.60 L137.32,416.60 L137.80,416.60 L138.27,416.60 L138.74,416.60 L139.22,416.60 L139.69,416.60 L140.17,416.60 L140.64,416.60 L141.11,416.60 L141.59,416.60 L142.06,416.60 L142.54,416.60 L143.01,416.60 L143.49,416.60 L143.96,416.60 L144.43,416.60 L144.91,416.60 L145.38,416.60 L145.86,416.60 L146.33,416.60 L146.80,416.60 L147.28,416.60 L147.75,416.60 L148.23,416.60 L148.70,416.60 L149.18,416.60 L149.65,416.60 L150.12,416.60 L150.60,416.60 L151.07,416.60 L151.55,416.60 L152.02,416.60 L152.49,416.60 L152.97,416.60 L153.44,416.60 L153.92,416.60 L154.39,416.60 L154.87,416.60 L155.34,416.60 L155.81,416.60 L156.29,416.60 L156.76,416.60 L157.24,416.60 L157.71,416.60 L158.18,416.60 L158.66,416.60 L159.13,416.60 L159.61,416.60 L160.08,416.60 L160.56,416.60 L161.03,416.60 L161.50,416.60 L161.98,416.60 L162.45,416.60 L162.93,416.60 L163.40,416.60" fill="none" stroke="#000" stroke-width="0.95" stroke-linejoin="round"/>
<rect x="106.50" y="382.50" width="57.00" height="34.00" fill="none" stroke="#333" stroke-width="1"/>
<line x1="109.34" y1="416.60" x2="109.34" y2="419.00" stroke="#111" stroke-width="0.75"/>
<line x1="111.05" y1="416.60" x2="111.05" y2="418.40" stroke="#111" stroke-width="0.75"/>
<line x1="113.90" y1="416.60" x2="113.90" y2="419.60" stroke="#111" stroke-width="0.75"/>
<line x1="117.15" y1="416.60" x2="117.15" y2="418.80" stroke="#111" stroke-width="0.75"/>
<line x1="119.06" y1="416.60" x2="119.06" y2="418.80" stroke="#111" stroke-width="0.75"/>
<line x1="120.41" y1="416.60" x2="120.41" y2="418.80" stroke="#111" stroke-width="0.75"/>
<line x1="121.45" y1="416.60" x2="121.45" y2="418.80" stroke="#111" stroke-width="0.75"/>
<line x1="122.31" y1="416.60" x2="122.31" y2="418.80" stroke="#111" stroke-width="0.75"/>
<line x1="123.03" y1="416.60" x2="123.03" y2="418.80" stroke="#111" stroke-width="0.75"/>
<line x1="123.66" y1="416.60" x2="123.66" y2="418.80" stroke="#111" stroke-width="0.75"/>
<line x1="124.21" y1="416.60" x2="124.21" y2="418.80" stroke="#111" stroke-width="0.75"/>
<line x1="124.71" y1="416.60" x2="124.71" y2="419.60" stroke="#111" stroke-width="0.75"/>
<line x1="127.45" y1="416.60" x2="127.45" y2="418.80" stroke="#111" stroke-width="0.75"/>
<line x1="129.05" y1="416.60" x2="129.05" y2="418.80" stroke="#111" stroke-width="0.75"/>
<line x1="130.19" y1="416.60" x2="130.19" y2="418.80" stroke="#111" stroke-width="0.75"/>
<line x1="131.07" y1="416.60" x2="131.07" y2="418.80" stroke="#111" stroke-width="0.75"/>
<line x1="131.79" y1="416.60" x2="131.79" y2="418.80" stroke="#111" stroke-width="0.75"/>
<line x1="132.40" y1="416.60" x2="132.40" y2="418.80" stroke="#111" stroke-width="0.75"/>
<line x1="132.93" y1="416.60" x2="132.93" y2="418.80" stroke="#111" stroke-width="0.75"/>
<line x1="133.40" y1="416.60" x2="133.40" y2="418.80" stroke="#111" stroke-width="0.75"/>
<line x1="133.81" y1="416.60" x2="133.81" y2="419.60" stroke="#111" stroke-width="0.75"/>
<line x1="136.38" y1="416.60" x2="136.38" y2="418.80" stroke="#111" stroke-width="0.75"/>
<line x1="137.88" y1="416.60" x2="137.88" y2="418.80" stroke="#111" stroke-width="0.75"/>
<line x1="138.95" y1="416.60" x2="138.95" y2="418.80" stroke="#111" stroke-width="0.75"/>
<line x1="139.78" y1="416.60" x2="139.78" y2="418.80" stroke="#111" stroke-width="0.75"/>
<line x1="140.45" y1="416.60" x2="140.45" y2="418.80" stroke="#111" stroke-width="0.75"/>
<line x1="141.02" y1="416.60" x2="141.02" y2="418.80" stroke="#111" stroke-width="0.75"/>
<line x1="141.52" y1="416.60" x2="141.52" y2="418.80" stroke="#111" stroke-width="0.75"/>
<line x1="141.96" y1="416.60" x2="141.96" y2="418.80" stroke="#111" stroke-width="0.75"/>
<line x1="142.35" y1="416.60" x2="142.35" y2="419.60" stroke="#111" stroke-width="0.75"/>
<line x1="144.92" y1="416.60" x2="144.92" y2="418.80" stroke="#111" stroke-width="0.75"/>
<line x1="146.42" y1="416.60" x2="146.42" y2="418.80" stroke="#111" stroke-width="0.75"/>
<line x1="147.49" y1="416.60" x2="147.49" y2="418.80" stroke="#111" stroke-width="0.75"/>
<line x1="148.31" y1="416.60" x2="148.31" y2="418.80" stroke="#111" stroke-width="0.75"/>
<line x1="148.99" y1="416.60" x2="148.99" y2="418.80" stroke="#111" stroke-width="0.75"/>
<line x1="149.56" y1="416.60" x2="149.56" y2="418.80" stroke="#111" stroke-width="0.75"/>
<line x1="150.05" y1="416.60" x2="150.05" y2="418.80" stroke="#111" stroke-width="0.75"/>
<line x1="150.49" y1="416.60" x2="150.49" y2="418.80" stroke="#111" stroke-width="0.75"/>
<line x1="150.88" y1="416.60" x2="150.88" y2="419.60" stroke="#111" stroke-width="0.75"/>
<line x1="153.45" y1="416.60" x2="153.45" y2="418.80" stroke="#111" stroke-width="0.75"/>
<line x1="154.95" y1="416.60" x2="154.95" y2="418.80" stroke="#111" stroke-width="0.75"/>
<line x1="156.02" y1="416.60" x2="156.02" y2="418.80" stroke="#111" stroke-width="0.75"/>
<line x1="156.85" y1="416.60" x2="156.85" y2="418.80" stroke="#111" stroke-width="0.75"/>
<line x1="157.52" y1="416.60" x2="157.52" y2="418.80" stroke="#111" stroke-width="0.75"/>
<line x1="158.09" y1="416.60" x2="158.09" y2="418.80" stroke="#111" stroke-width="0.75"/>
<line x1="158.59" y1="416.60" x2="158.59" y2="418.80" stroke="#111" stroke-width="0.75"/>
<line x1="159.03" y1="416.60" x2="159.03" y2="418.80" stroke="#111" stroke-width="0.75"/>
<line x1="159.42" y1="416.60" x2="159.42" y2="419.60" stroke="#111" stroke-width="0.75"/>
<path d="M173.60,416.60 L173.60,416.60 L174.07,416.60 L174.55,416.60 L175.02,416.60 L175.50,416.60 L175.97,416.60 L176.44,416.60 L176.92,416.60 L177.39,416.60 L177.87,416.60 L178.34,416.60 L178.82,416.60 L179.29,416.60 L179.76,416.59 L180.24,416.57 L180.71,416.53 L181.19,416.42 L181.66,416.18 L182.13,415.71 L182.61,414.83 L183.08,413.36 L183.56,411.10 L184.03,407.96 L184.51,404.02 L184.98,399.66 L185.45,395.48 L185.93,392.22 L186.40,390.55 L186.88,390.76 L187.35,392.57 L187.82,395.63 L188.30,399.44 L188.77,403.42 L189.25,407.10 L189.72,410.18 L190.20,412.53 L190.67,414.18 L191.14,415.25 L191.62,415.89 L192.09,416.25 L192.57,416.44 L193.04,416.53 L193.51,416.57 L193.99,416.59 L194.46,416.60 L194.94,416.60 L195.41,416.60 L195.89,416.60 L196.36,416.60 L196.83,416.60 L197.31,416.60 L197.78,416.60 L198.26,416.60 L198.73,416.60 L199.20,416.60 L199.68,416.60 L200.15,416.60 L200.63,416.60 L201.10,416.60 L201.58,416.60 L202.05,416.60 L202.52,416.60 L203.00,416.60 L203.47,416.60 L203.95,416.60 L204.42,416.60 L204.89,416.60 L205.37,416.60 L205.84,416.60 L206.32,416.60 L206.79,416.60 L207.27,416.60 L207.74,416.60 L208.21,416.60 L208.69,416.60 L209.16,416.60 L209.64,416.60 L210.11,416.60 L210.58,416.60 L211.06,416.60 L211.53,416.60 L212.01,416.60 L212.48,416.60 L212.96,416.60 L213.43,416.60 L213.90,416.60 L214.38,416.60 L214.85,416.60 L215.33,416.60 L215.80,416.60 L216.27,416.60 L216.75,416.60 L217.22,416.60 L217.70,416.60 L218.17,416.60 L218.65,416.60 L219.12,416.60 L219.59,416.60 L220.07,416.60 L220.54,416.60 L221.02,416.60 L221.49,416.60 L221.96,416.60 L222.44,416.60 L222.91,416.60 L223.39,416.60 L223.86,416.60 L224.34,416.60 L224.81,416.60 L225.28,416.60 L225.76,416.60 L226.23,416.60 L226.71,416.60 L227.18,416.60 L227.65,416.60 L228.13,416.60 L228.60,416.60 L229.08,416.60 L229.55,416.60 L230.03,416.60 L230.50,416.60 L230.50,416.60Z" fill="#808080" stroke="#777" stroke-width="0.3"/>
<path d="M173.60,416.60 L174.07,416.60 L174.55,416.59 L175.02,416.58 L175.50,416.56 L175.97,416.49 L176.44,416.37 L176.92,416.14 L177.39,415.73 L177.87,415.10 L178.34,414.20 L178.82,413.05 L179.29,411.73 L179.76,410.41 L180.24,409.32 L180.71,408.65 L181.19,408.49 L181.66,408.68 L182.13,408.70 L182.61,407.64 L183.08,404.45 L183.56,398.67 L184.03,391.29 L184.51,384.94 L184.98,382.60 L185.45,384.67 L185.93,389.67 L186.40,396.24 L186.88,402.82 L187.35,408.25 L187.82,412.07 L188.30,414.40 L188.77,415.64 L189.25,416.23 L189.72,416.47 L190.20,416.56 L190.67,416.59 L191.14,416.60 L191.62,416.60 L192.09,416.60 L192.57,416.60 L193.04,416.60 L193.51,416.60 L193.99,416.60 L194.46,416.60 L194.94,416.60 L195.41,416.60 L195.89,416.60 L196.36,416.60 L196.83,416.60 L197.31,416.60 L197.78,416.60 L198.26,416.60 L198.73,416.60 L199.20,416.60 L199.68,416.60 L200.15,416.60 L200.63,416.60 L201.10,416.60 L201.58,416.60 L202.05,416.60 L202.52,416.60 L203.00,416.60 L203.47,416.60 L203.95,416.60 L204.42,416.60 L204.89,416.60 L205.37,416.60 L205.84,416.60 L206.32,416.60 L206.79,416.60 L207.27,416.60 L207.74,416.60 L208.21,416.60 L208.69,416.60 L209.16,416.60 L209.64,416.60 L210.11,416.60 L210.58,416.60 L211.06,416.60 L211.53,416.60 L212.01,416.60 L212.48,416.60 L212.96,416.60 L213.43,416.60 L213.90,416.60 L214.38,416.60 L214.85,416.60 L215.33,416.60 L215.80,416.60 L216.27,416.60 L216.75,416.60 L217.22,416.60 L217.70,416.60 L218.17,416.60 L218.65,416.60 L219.12,416.60 L219.59,416.60 L220.07,416.60 L220.54,416.60 L221.02,416.60 L221.49,416.60 L221.96,416.60 L222.44,416.60 L222.91,416.60 L223.39,416.60 L223.86,416.60 L224.34,416.60 L224.81,416.60 L225.28,416.60 L225.76,416.60 L226.23,416.60 L226.71,416.60 L227.18,416.60 L227.65,416.60 L228.13,416.60 L228.60,416.60 L229.08,416.60 L229.55,416.60 L230.03,416.60 L230.50,416.60" fill="none" stroke="#000" stroke-width="0.95" stroke-linejoin="round"/>
<rect x="173.50" y="382.50" width="57.00" height="34.00" fill="none" stroke="#333" stroke-width="1"/>
<line x1="176.44" y1="416.60" x2="176.44" y2="419.00" stroke="#111" stroke-width="0.75"/>
<line x1="178.15" y1="416.60" x2="178.15" y2="418.40" stroke="#111" stroke-width="0.75"/>
<line x1="181.00" y1="416.60" x2="181.00" y2="419.60" stroke="#111" stroke-width="0.75"/>
<line x1="184.25" y1="416.60" x2="184.25" y2="418.80" stroke="#111" stroke-width="0.75"/>
<line x1="186.16" y1="416.60" x2="186.16" y2="418.80" stroke="#111" stroke-width="0.75"/>
<line x1="187.51" y1="416.60" x2="187.51" y2="418.80" stroke="#111" stroke-width="0.75"/>
<line x1="188.55" y1="416.60" x2="188.55" y2="418.80" stroke="#111" stroke-width="0.75"/>
<line x1="189.41" y1="416.60" x2="189.41" y2="418.80" stroke="#111" stroke-width="0.75"/>
<line x1="190.13" y1="416.60" x2="190.13" y2="418.80" stroke="#111" stroke-width="0.75"/>
<line x1="190.76" y1="416.60" x2="190.76" y2="418.80" stroke="#111" stroke-width="0.75"/>
<line x1="191.31" y1="416.60" x2="191.31" y2="418.80" stroke="#111" stroke-width="0.75"/>
<line x1="191.81" y1="416.60" x2="191.81" y2="419.60" stroke="#111" stroke-width="0.75"/>
<line x1="194.55" y1="416.60" x2="194.55" y2="418.80" stroke="#111" stroke-width="0.75"/>
<line x1="196.15" y1="416.60" x2="196.15" y2="418.80" stroke="#111" stroke-width="0.75"/>
<line x1="197.29" y1="416.60" x2="197.29" y2="418.80" stroke="#111" stroke-width="0.75"/>
<line x1="198.17" y1="416.60" x2="198.17" y2="418.80" stroke="#111" stroke-width="0.75"/>
<line x1="198.89" y1="416.60" x2="198.89" y2="418.80" stroke="#111" stroke-width="0.75"/>
<line x1="199.50" y1="416.60" x2="199.50" y2="418.80" stroke="#111" stroke-width="0.75"/>
<line x1="200.03" y1="416.60" x2="200.03" y2="418.80" stroke="#111" stroke-width="0.75"/>
<line x1="200.50" y1="416.60" x2="200.50" y2="418.80" stroke="#111" stroke-width="0.75"/>
<line x1="200.91" y1="416.60" x2="200.91" y2="419.60" stroke="#111" stroke-width="0.75"/>
<line x1="203.48" y1="416.60" x2="203.48" y2="418.80" stroke="#111" stroke-width="0.75"/>
<line x1="204.98" y1="416.60" x2="204.98" y2="418.80" stroke="#111" stroke-width="0.75"/>
<line x1="206.05" y1="416.60" x2="206.05" y2="418.80" stroke="#111" stroke-width="0.75"/>
<line x1="206.88" y1="416.60" x2="206.88" y2="418.80" stroke="#111" stroke-width="0.75"/>
<line x1="207.55" y1="416.60" x2="207.55" y2="418.80" stroke="#111" stroke-width="0.75"/>
<line x1="208.12" y1="416.60" x2="208.12" y2="418.80" stroke="#111" stroke-width="0.75"/>
<line x1="208.62" y1="416.60" x2="208.62" y2="418.80" stroke="#111" stroke-width="0.75"/>
<line x1="209.06" y1="416.60" x2="209.06" y2="418.80" stroke="#111" stroke-width="0.75"/>
<line x1="209.45" y1="416.60" x2="209.45" y2="419.60" stroke="#111" stroke-width="0.75"/>
<line x1="212.02" y1="416.60" x2="212.02" y2="418.80" stroke="#111" stroke-width="0.75"/>
<line x1="213.52" y1="416.60" x2="213.52" y2="418.80" stroke="#111" stroke-width="0.75"/>
<line x1="214.59" y1="416.60" x2="214.59" y2="418.80" stroke="#111" stroke-width="0.75"/>
<line x1="215.41" y1="416.60" x2="215.41" y2="418.80" stroke="#111" stroke-width="0.75"/>
<line x1="216.09" y1="416.60" x2="216.09" y2="418.80" stroke="#111" stroke-width="0.75"/>
<line x1="216.66" y1="416.60" x2="216.66" y2="418.80" stroke="#111" stroke-width="0.75"/>
<line x1="217.15" y1="416.60" x2="217.15" y2="418.80" stroke="#111" stroke-width="0.75"/>
<line x1="217.59" y1="416.60" x2="217.59" y2="418.80" stroke="#111" stroke-width="0.75"/>
<line x1="217.98" y1="416.60" x2="217.98" y2="419.60" stroke="#111" stroke-width="0.75"/>
<line x1="220.55" y1="416.60" x2="220.55" y2="418.80" stroke="#111" stroke-width="0.75"/>
<line x1="222.05" y1="416.60" x2="222.05" y2="418.80" stroke="#111" stroke-width="0.75"/>
<line x1="223.12" y1="416.60" x2="223.12" y2="418.80" stroke="#111" stroke-width="0.75"/>
<line x1="223.95" y1="416.60" x2="223.95" y2="418.80" stroke="#111" stroke-width="0.75"/>
<line x1="224.62" y1="416.60" x2="224.62" y2="418.80" stroke="#111" stroke-width="0.75"/>
<line x1="225.19" y1="416.60" x2="225.19" y2="418.80" stroke="#111" stroke-width="0.75"/>
<line x1="225.69" y1="416.60" x2="225.69" y2="418.80" stroke="#111" stroke-width="0.75"/>
<line x1="226.13" y1="416.60" x2="226.13" y2="418.80" stroke="#111" stroke-width="0.75"/>
<line x1="226.52" y1="416.60" x2="226.52" y2="419.60" stroke="#111" stroke-width="0.75"/>
<text x="18.60" y="441.30" font-size="8.3" text-anchor="middle" fill="#111" stroke="#111" stroke-width="0.22">Memory</text>
<path d="M39.40,458.20 L39.40,458.20 L39.87,458.20 L40.35,458.20 L40.82,458.20 L41.30,458.20 L41.77,458.20 L42.24,458.20 L42.72,458.20 L43.19,458.20 L43.67,458.19 L44.14,458.17 L44.62,458.13 L45.09,458.05 L45.56,457.89 L46.04,457.59 L46.51,457.07 L46.99,456.21 L47.46,454.89 L47.94,452.97 L48.41,450.36 L48.88,447.07 L49.36,443.23 L49.83,439.10 L50.31,435.12 L50.78,431.75 L51.25,429.48 L51.73,428.63 L52.20,428.94 L52.68,429.91 L53.15,431.46 L53.62,433.50 L54.10,435.91 L54.57,438.53 L55.05,441.24 L55.52,443.91 L56.00,446.43 L56.47,448.73 L56.94,450.75 L57.42,452.48 L57.89,453.90 L58.37,455.04 L58.84,455.93 L59.31,456.61 L59.79,457.11 L60.26,457.47 L60.74,457.72 L61.21,457.89 L61.69,458.01 L62.16,458.08 L62.63,458.13 L63.11,458.16 L63.58,458.18 L64.06,458.19 L64.53,458.19 L65.00,458.20 L65.48,458.20 L65.95,458.20 L66.43,458.20 L66.90,458.20 L67.38,458.20 L67.85,458.20 L68.32,458.20 L68.80,458.20 L69.27,458.20 L69.75,458.20 L70.22,458.20 L70.69,458.20 L71.17,458.20 L71.64,458.20 L72.12,458.20 L72.59,458.20 L73.07,458.20 L73.54,458.20 L74.01,458.20 L74.49,458.20 L74.96,458.20 L75.44,458.20 L75.91,458.20 L76.38,458.20 L76.86,458.20 L77.33,458.20 L77.81,458.20 L78.28,458.20 L78.76,458.20 L79.23,458.20 L79.70,458.20 L80.18,458.20 L80.65,458.20 L81.13,458.20 L81.60,458.20 L82.07,458.20 L82.55,458.20 L83.02,458.20 L83.50,458.20 L83.97,458.20 L84.45,458.20 L84.92,458.20 L85.39,458.20 L85.87,458.20 L86.34,458.20 L86.82,458.20 L87.29,458.20 L87.76,458.20 L88.24,458.20 L88.71,458.20 L89.19,458.20 L89.66,458.20 L90.14,458.20 L90.61,458.20 L91.08,458.20 L91.56,458.20 L92.03,458.20 L92.51,458.20 L92.98,458.20 L93.45,458.20 L93.93,458.20 L94.40,458.20 L94.88,458.20 L95.35,458.20 L95.83,458.20 L96.30,458.20 L96.30,458.20Z" fill="#808080" stroke="#777" stroke-width="0.3"/>
<path d="M39.40,458.19 L39.87,458.17 L40.35,458.12 L40.82,458.01 L41.30,457.79 L41.77,457.40 L42.24,456.75 L42.72,455.78 L43.19,454.44 L43.67,452.79 L44.14,451.01 L44.62,449.34 L45.09,448.10 L45.56,447.53 L46.04,447.76 L46.51,448.67 L46.99,449.92 L47.46,450.84 L47.94,450.50 L48.41,447.86 L48.88,442.38 L49.36,434.92 L49.83,427.97 L50.31,424.64 L50.78,425.61 L51.25,428.87 L51.73,433.74 L52.20,439.30 L52.68,444.68 L53.15,449.25 L53.62,452.71 L54.10,455.09 L54.57,456.56 L55.05,457.40 L55.52,457.84 L56.00,458.05 L56.47,458.14 L56.94,458.18 L57.42,458.19 L57.89,458.20 L58.37,458.20 L58.84,458.20 L59.31,458.20 L59.79,458.20 L60.26,458.20 L60.74,458.20 L61.21,458.20 L61.69,458.20 L62.16,458.20 L62.63,458.20 L63.11,458.20 L63.58,458.20 L64.06,458.20 L64.53,458.20 L65.00,458.20 L65.48,458.20 L65.95,458.20 L66.43,458.20 L66.90,458.20 L67.38,458.20 L67.85,458.20 L68.32,458.20 L68.80,458.20 L69.27,458.20 L69.75,458.20 L70.22,458.20 L70.69,458.20 L71.17,458.20 L71.64,458.20 L72.12,458.20 L72.59,458.20 L73.07,458.20 L73.54,458.20 L74.01,458.20 L74.49,458.20 L74.96,458.20 L75.44,458.20 L75.91,458.20 L76.38,458.20 L76.86,458.20 L77.33,458.20 L77.81,458.20 L78.28,458.20 L78.76,458.20 L79.23,458.20 L79.70,458.20 L80.18,458.20 L80.65,458.20 L81.13,458.20 L81.60,458.20 L82.07,458.20 L82.55,458.20 L83.02,458.20 L83.50,458.20 L83.97,458.20 L84.45,458.20 L84.92,458.20 L85.39,458.20 L85.87,458.20 L86.34,458.20 L86.82,458.20 L87.29,458.20 L87.76,458.20 L88.24,458.20 L88.71,458.20 L89.19,458.20 L89.66,458.20 L90.14,458.20 L90.61,458.20 L91.08,458.20 L91.56,458.20 L92.03,458.20 L92.51,458.20 L92.98,458.20 L93.45,458.20 L93.93,458.20 L94.40,458.20 L94.88,458.20 L95.35,458.20 L95.83,458.20 L96.30,458.20" fill="none" stroke="#000" stroke-width="0.95" stroke-linejoin="round"/>
<rect x="39.50" y="424.50" width="57.00" height="34.00" fill="none" stroke="#333" stroke-width="1"/>
<line x1="42.24" y1="458.20" x2="42.24" y2="460.60" stroke="#111" stroke-width="0.75"/>
<line x1="43.95" y1="458.20" x2="43.95" y2="460.00" stroke="#111" stroke-width="0.75"/>
<line x1="46.80" y1="458.20" x2="46.80" y2="461.20" stroke="#111" stroke-width="0.75"/>
<line x1="50.05" y1="458.20" x2="50.05" y2="460.40" stroke="#111" stroke-width="0.75"/>
<line x1="51.96" y1="458.20" x2="51.96" y2="460.40" stroke="#111" stroke-width="0.75"/>
<line x1="53.31" y1="458.20" x2="53.31" y2="460.40" stroke="#111" stroke-width="0.75"/>
<line x1="54.35" y1="458.20" x2="54.35" y2="460.40" stroke="#111" stroke-width="0.75"/>
<line x1="55.21" y1="458.20" x2="55.21" y2="460.40" stroke="#111" stroke-width="0.75"/>
<line x1="55.93" y1="458.20" x2="55.93" y2="460.40" stroke="#111" stroke-width="0.75"/>
<line x1="56.56" y1="458.20" x2="56.56" y2="460.40" stroke="#111" stroke-width="0.75"/>
<line x1="57.11" y1="458.20" x2="57.11" y2="460.40" stroke="#111" stroke-width="0.75"/>
<line x1="57.61" y1="458.20" x2="57.61" y2="461.20" stroke="#111" stroke-width="0.75"/>
<line x1="60.35" y1="458.20" x2="60.35" y2="460.40" stroke="#111" stroke-width="0.75"/>
<line x1="61.95" y1="458.20" x2="61.95" y2="460.40" stroke="#111" stroke-width="0.75"/>
<line x1="63.09" y1="458.20" x2="63.09" y2="460.40" stroke="#111" stroke-width="0.75"/>
<line x1="63.97" y1="458.20" x2="63.97" y2="460.40" stroke="#111" stroke-width="0.75"/>
<line x1="64.69" y1="458.20" x2="64.69" y2="460.40" stroke="#111" stroke-width="0.75"/>
<line x1="65.30" y1="458.20" x2="65.30" y2="460.40" stroke="#111" stroke-width="0.75"/>
<line x1="65.83" y1="458.20" x2="65.83" y2="460.40" stroke="#111" stroke-width="0.75"/>
<line x1="66.30" y1="458.20" x2="66.30" y2="460.40" stroke="#111" stroke-width="0.75"/>
<line x1="66.71" y1="458.20" x2="66.71" y2="461.20" stroke="#111" stroke-width="0.75"/>
<line x1="69.28" y1="458.20" x2="69.28" y2="460.40" stroke="#111" stroke-width="0.75"/>
<line x1="70.78" y1="458.20" x2="70.78" y2="460.40" stroke="#111" stroke-width="0.75"/>
<line x1="71.85" y1="458.20" x2="71.85" y2="460.40" stroke="#111" stroke-width="0.75"/>
<line x1="72.68" y1="458.20" x2="72.68" y2="460.40" stroke="#111" stroke-width="0.75"/>
<line x1="73.35" y1="458.20" x2="73.35" y2="460.40" stroke="#111" stroke-width="0.75"/>
<line x1="73.92" y1="458.20" x2="73.92" y2="460.40" stroke="#111" stroke-width="0.75"/>
<line x1="74.42" y1="458.20" x2="74.42" y2="460.40" stroke="#111" stroke-width="0.75"/>
<line x1="74.86" y1="458.20" x2="74.86" y2="460.40" stroke="#111" stroke-width="0.75"/>
<line x1="75.25" y1="458.20" x2="75.25" y2="461.20" stroke="#111" stroke-width="0.75"/>
<line x1="77.82" y1="458.20" x2="77.82" y2="460.40" stroke="#111" stroke-width="0.75"/>
<line x1="79.32" y1="458.20" x2="79.32" y2="460.40" stroke="#111" stroke-width="0.75"/>
<line x1="80.39" y1="458.20" x2="80.39" y2="460.40" stroke="#111" stroke-width="0.75"/>
<line x1="81.21" y1="458.20" x2="81.21" y2="460.40" stroke="#111" stroke-width="0.75"/>
<line x1="81.89" y1="458.20" x2="81.89" y2="460.40" stroke="#111" stroke-width="0.75"/>
<line x1="82.46" y1="458.20" x2="82.46" y2="460.40" stroke="#111" stroke-width="0.75"/>
<line x1="82.95" y1="458.20" x2="82.95" y2="460.40" stroke="#111" stroke-width="0.75"/>
<line x1="83.39" y1="458.20" x2="83.39" y2="460.40" stroke="#111" stroke-width="0.75"/>
<line x1="83.78" y1="458.20" x2="83.78" y2="461.20" stroke="#111" stroke-width="0.75"/>
<line x1="86.35" y1="458.20" x2="86.35" y2="460.40" stroke="#111" stroke-width="0.75"/>
<line x1="87.85" y1="458.20" x2="87.85" y2="460.40" stroke="#111" stroke-width="0.75"/>
<line x1="88.92" y1="458.20" x2="88.92" y2="460.40" stroke="#111" stroke-width="0.75"/>
<line x1="89.75" y1="458.20" x2="89.75" y2="460.40" stroke="#111" stroke-width="0.75"/>
<line x1="90.42" y1="458.20" x2="90.42" y2="460.40" stroke="#111" stroke-width="0.75"/>
<line x1="90.99" y1="458.20" x2="90.99" y2="460.40" stroke="#111" stroke-width="0.75"/>
<line x1="91.49" y1="458.20" x2="91.49" y2="460.40" stroke="#111" stroke-width="0.75"/>
<line x1="91.93" y1="458.20" x2="91.93" y2="460.40" stroke="#111" stroke-width="0.75"/>
<line x1="92.32" y1="458.20" x2="92.32" y2="461.20" stroke="#111" stroke-width="0.75"/>
<path d="M106.50,458.20 L106.50,458.18 L106.97,458.16 L107.45,458.12 L107.92,458.03 L108.40,457.88 L108.87,457.61 L109.34,457.19 L109.82,456.57 L110.29,455.70 L110.77,454.59 L111.24,453.26 L111.72,451.83 L112.19,450.43 L112.66,449.24 L113.14,448.42 L113.61,448.07 L114.09,448.25 L114.56,448.81 L115.03,449.24 L115.51,448.84 L115.98,446.94 L116.46,443.16 L116.93,437.77 L117.41,431.81 L117.88,426.91 L118.35,424.64 L118.83,425.40 L119.30,428.22 L119.78,432.57 L120.25,437.71 L120.72,442.90 L121.20,447.52 L121.67,451.23 L122.15,453.95 L122.62,455.78 L123.10,456.91 L123.57,457.56 L124.04,457.90 L124.52,458.07 L124.99,458.15 L125.47,458.18 L125.94,458.19 L126.41,458.20 L126.89,458.20 L127.36,458.20 L127.84,458.20 L128.31,458.20 L128.79,458.20 L129.26,458.20 L129.73,458.20 L130.21,458.20 L130.68,458.20 L131.16,458.20 L131.63,458.20 L132.10,458.20 L132.58,458.20 L133.05,458.20 L133.53,458.20 L134.00,458.20 L134.48,458.20 L134.95,458.20 L135.42,458.20 L135.90,458.20 L136.37,458.20 L136.85,458.20 L137.32,458.20 L137.80,458.20 L138.27,458.20 L138.74,458.20 L139.22,458.20 L139.69,458.20 L140.17,458.20 L140.64,458.20 L141.11,458.20 L141.59,458.20 L142.06,458.20 L142.54,458.20 L143.01,458.20 L143.49,458.20 L143.96,458.20 L144.43,458.20 L144.91,458.20 L145.38,458.20 L145.86,458.20 L146.33,458.20 L146.80,458.20 L147.28,458.20 L147.75,458.20 L148.23,458.20 L148.70,458.20 L149.18,458.20 L149.65,458.20 L150.12,458.20 L150.60,458.20 L151.07,458.20 L151.55,458.20 L152.02,458.20 L152.49,458.20 L152.97,458.20 L153.44,458.20 L153.92,458.20 L154.39,458.20 L154.87,458.20 L155.34,458.20 L155.81,458.20 L156.29,458.20 L156.76,458.20 L157.24,458.20 L157.71,458.20 L158.18,458.20 L158.66,458.20 L159.13,458.20 L159.61,458.20 L160.08,458.20 L160.56,458.20 L161.03,458.20 L161.50,458.20 L161.98,458.20 L162.45,458.20 L162.93,458.20 L163.40,458.20 L163.40,458.20Z" fill="#808080" stroke="#777" stroke-width="0.3"/>
<path d="M106.50,458.18 L106.97,458.16 L107.45,458.12 L107.92,458.03 L108.40,457.88 L108.87,457.61 L109.34,457.19 L109.82,456.57 L110.29,455.70 L110.77,454.59 L111.24,453.26 L111.72,451.83 L112.19,450.43 L112.66,449.24 L113.14,448.42 L113.61,448.07 L114.09,448.25 L114.56,448.81 L115.03,449.24 L115.51,448.84 L115.98,446.94 L116.46,443.16 L116.93,437.77 L117.41,431.81 L117.88,426.91 L118.35,424.64 L118.83,425.40 L119.30,428.22 L119.78,432.57 L120.25,437.71 L120.72,442.90 L121.20,447.52 L121.67,451.23 L122.15,453.95 L122.62,455.78 L123.10,456.91 L123.57,457.56 L124.04,457.90 L124.52,458.07 L124.99,458.15 L125.47,458.18 L125.94,458.19 L126.41,458.20 L126.89,458.20 L127.36,458.20 L127.84,458.20 L128.31,458.20 L128.79,458.20 L129.26,458.20 L129.73,458.20 L130.21,458.20 L130.68,458.20 L131.16,458.20 L131.63,458.20 L132.10,458.20 L132.58,458.20 L133.05,458.20 L133.53,458.20 L134.00,458.20 L134.48,458.20 L134.95,458.20 L135.42,458.20 L135.90,458.20 L136.37,458.20 L136.85,458.20 L137.32,458.20 L137.80,458.20 L138.27,458.20 L138.74,458.20 L139.22,458.20 L139.69,458.20 L140.17,458.20 L140.64,458.20 L141.11,458.20 L141.59,458.20 L142.06,458.20 L142.54,458.20 L143.01,458.20 L143.49,458.20 L143.96,458.20 L144.43,458.20 L144.91,458.20 L145.38,458.20 L145.86,458.20 L146.33,458.20 L146.80,458.20 L147.28,458.20 L147.75,458.20 L148.23,458.20 L148.70,458.20 L149.18,458.20 L149.65,458.20 L150.12,458.20 L150.60,458.20 L151.07,458.20 L151.55,458.20 L152.02,458.20 L152.49,458.20 L152.97,458.20 L153.44,458.20 L153.92,458.20 L154.39,458.20 L154.87,458.20 L155.34,458.20 L155.81,458.20 L156.29,458.20 L156.76,458.20 L157.24,458.20 L157.71,458.20 L158.18,458.20 L158.66,458.20 L159.13,458.20 L159.61,458.20 L160.08,458.20 L160.56,458.20 L161.03,458.20 L161.50,458.20 L161.98,458.20 L162.45,458.20 L162.93,458.20 L163.40,458.20" fill="none" stroke="#000" stroke-width="0.95" stroke-linejoin="round"/>
<rect x="106.50" y="424.50" width="57.00" height="34.00" fill="none" stroke="#333" stroke-width="1"/>
<line x1="109.34" y1="458.20" x2="109.34" y2="460.60" stroke="#111" stroke-width="0.75"/>
<line x1="111.05" y1="458.20" x2="111.05" y2="460.00" stroke="#111" stroke-width="0.75"/>
<line x1="113.90" y1="458.20" x2="113.90" y2="461.20" stroke="#111" stroke-width="0.75"/>
<line x1="117.15" y1="458.20" x2="117.15" y2="460.40" stroke="#111" stroke-width="0.75"/>
<line x1="119.06" y1="458.20" x2="119.06" y2="460.40" stroke="#111" stroke-width="0.75"/>
<line x1="120.41" y1="458.20" x2="120.41" y2="460.40" stroke="#111" stroke-width="0.75"/>
<line x1="121.45" y1="458.20" x2="121.45" y2="460.40" stroke="#111" stroke-width="0.75"/>
<line x1="122.31" y1="458.20" x2="122.31" y2="460.40" stroke="#111" stroke-width="0.75"/>
<line x1="123.03" y1="458.20" x2="123.03" y2="460.40" stroke="#111" stroke-width="0.75"/>
<line x1="123.66" y1="458.20" x2="123.66" y2="460.40" stroke="#111" stroke-width="0.75"/>
<line x1="124.21" y1="458.20" x2="124.21" y2="460.40" stroke="#111" stroke-width="0.75"/>
<line x1="124.71" y1="458.20" x2="124.71" y2="461.20" stroke="#111" stroke-width="0.75"/>
<line x1="127.45" y1="458.20" x2="127.45" y2="460.40" stroke="#111" stroke-width="0.75"/>
<line x1="129.05" y1="458.20" x2="129.05" y2="460.40" stroke="#111" stroke-width="0.75"/>
<line x1="130.19" y1="458.20" x2="130.19" y2="460.40" stroke="#111" stroke-width="0.75"/>
<line x1="131.07" y1="458.20" x2="131.07" y2="460.40" stroke="#111" stroke-width="0.75"/>
<line x1="131.79" y1="458.20" x2="131.79" y2="460.40" stroke="#111" stroke-width="0.75"/>
<line x1="132.40" y1="458.20" x2="132.40" y2="460.40" stroke="#111" stroke-width="0.75"/>
<line x1="132.93" y1="458.20" x2="132.93" y2="460.40" stroke="#111" stroke-width="0.75"/>
<line x1="133.40" y1="458.20" x2="133.40" y2="460.40" stroke="#111" stroke-width="0.75"/>
<line x1="133.81" y1="458.20" x2="133.81" y2="461.20" stroke="#111" stroke-width="0.75"/>
<line x1="136.38" y1="458.20" x2="136.38" y2="460.40" stroke="#111" stroke-width="0.75"/>
<line x1="137.88" y1="458.20" x2="137.88" y2="460.40" stroke="#111" stroke-width="0.75"/>
<line x1="138.95" y1="458.20" x2="138.95" y2="460.40" stroke="#111" stroke-width="0.75"/>
<line x1="139.78" y1="458.20" x2="139.78" y2="460.40" stroke="#111" stroke-width="0.75"/>
<line x1="140.45" y1="458.20" x2="140.45" y2="460.40" stroke="#111" stroke-width="0.75"/>
<line x1="141.02" y1="458.20" x2="141.02" y2="460.40" stroke="#111" stroke-width="0.75"/>
<line x1="141.52" y1="458.20" x2="141.52" y2="460.40" stroke="#111" stroke-width="0.75"/>
<line x1="141.96" y1="458.20" x2="141.96" y2="460.40" stroke="#111" stroke-width="0.75"/>
<line x1="142.35" y1="458.20" x2="142.35" y2="461.20" stroke="#111" stroke-width="0.75"/>
<line x1="144.92" y1="458.20" x2="144.92" y2="460.40" stroke="#111" stroke-width="0.75"/>
<line x1="146.42" y1="458.20" x2="146.42" y2="460.40" stroke="#111" stroke-width="0.75"/>
<line x1="147.49" y1="458.20" x2="147.49" y2="460.40" stroke="#111" stroke-width="0.75"/>
<line x1="148.31" y1="458.20" x2="148.31" y2="460.40" stroke="#111" stroke-width="0.75"/>
<line x1="148.99" y1="458.20" x2="148.99" y2="460.40" stroke="#111" stroke-width="0.75"/>
<line x1="149.56" y1="458.20" x2="149.56" y2="460.40" stroke="#111" stroke-width="0.75"/>
<line x1="150.05" y1="458.20" x2="150.05" y2="460.40" stroke="#111" stroke-width="0.75"/>
<line x1="150.49" y1="458.20" x2="150.49" y2="460.40" stroke="#111" stroke-width="0.75"/>
<line x1="150.88" y1="458.20" x2="150.88" y2="461.20" stroke="#111" stroke-width="0.75"/>
<line x1="153.45" y1="458.20" x2="153.45" y2="460.40" stroke="#111" stroke-width="0.75"/>
<line x1="154.95" y1="458.20" x2="154.95" y2="460.40" stroke="#111" stroke-width="0.75"/>
<line x1="156.02" y1="458.20" x2="156.02" y2="460.40" stroke="#111" stroke-width="0.75"/>
<line x1="156.85" y1="458.20" x2="156.85" y2="460.40" stroke="#111" stroke-width="0.75"/>
<line x1="157.52" y1="458.20" x2="157.52" y2="460.40" stroke="#111" stroke-width="0.75"/>
<line x1="158.09" y1="458.20" x2="158.09" y2="460.40" stroke="#111" stroke-width="0.75"/>
<line x1="158.59" y1="458.20" x2="158.59" y2="460.40" stroke="#111" stroke-width="0.75"/>
<line x1="159.03" y1="458.20" x2="159.03" y2="460.40" stroke="#111" stroke-width="0.75"/>
<line x1="159.42" y1="458.20" x2="159.42" y2="461.20" stroke="#111" stroke-width="0.75"/>
<path d="M173.60,458.20 L173.60,458.20 L174.07,458.20 L174.55,458.20 L175.02,458.20 L175.50,458.20 L175.97,458.20 L176.44,458.20 L176.92,458.20 L177.39,458.20 L177.87,458.20 L178.34,458.20 L178.82,458.20 L179.29,458.20 L179.76,458.20 L180.24,458.20 L180.71,458.20 L181.19,458.20 L181.66,458.19 L182.13,458.19 L182.61,458.17 L183.08,458.13 L183.56,458.04 L184.03,457.89 L184.51,457.61 L184.98,457.13 L185.45,456.38 L185.93,455.26 L186.40,453.70 L186.88,451.67 L187.35,449.23 L187.82,446.51 L188.30,443.76 L188.77,441.30 L189.25,439.45 L189.72,438.48 L190.20,438.44 L190.67,438.84 L191.14,439.59 L191.62,440.66 L192.09,441.98 L192.57,443.49 L193.04,445.11 L193.51,446.78 L193.99,448.42 L194.46,449.99 L194.94,451.44 L195.41,452.74 L195.89,453.87 L196.36,454.83 L196.83,455.63 L197.31,456.28 L197.78,456.79 L198.26,457.19 L198.73,457.49 L199.20,457.71 L199.68,457.86 L200.15,457.98 L200.63,458.05 L201.10,458.11 L201.58,458.14 L202.05,458.16 L202.52,458.18 L203.00,458.19 L203.47,458.19 L203.95,458.20 L204.42,458.20 L204.89,458.20 L205.37,458.20 L205.84,458.20 L206.32,458.20 L206.79,458.20 L207.27,458.20 L207.74,458.20 L208.21,458.20 L208.69,458.20 L209.16,458.20 L209.64,458.20 L210.11,458.20 L210.58,458.20 L211.06,458.20 L211.53,458.20 L212.01,458.20 L212.48,458.20 L212.96,458.20 L213.43,458.20 L213.90,458.20 L214.38,458.20 L214.85,458.20 L215.33,458.20 L215.80,458.20 L216.27,458.20 L216.75,458.20 L217.22,458.20 L217.70,458.20 L218.17,458.20 L218.65,458.20 L219.12,458.20 L219.59,458.20 L220.07,458.20 L220.54,458.20 L221.02,458.20 L221.49,458.20 L221.96,458.20 L222.44,458.20 L222.91,458.20 L223.39,458.20 L223.86,458.20 L224.34,458.20 L224.81,458.20 L225.28,458.20 L225.76,458.20 L226.23,458.20 L226.71,458.20 L227.18,458.20 L227.65,458.20 L228.13,458.20 L228.60,458.20 L229.08,458.20 L229.55,458.20 L230.03,458.20 L230.50,458.20 L230.50,458.20Z" fill="#808080" stroke="#777" stroke-width="0.3"/>
<path d="M173.60,458.20 L174.07,458.20 L174.55,458.19 L175.02,458.18 L175.50,458.14 L175.97,458.07 L176.44,457.91 L176.92,457.62 L177.39,457.12 L177.87,456.34 L178.34,455.22 L178.82,453.78 L179.29,452.14 L179.76,450.50 L180.24,449.14 L180.71,448.32 L181.19,448.19 L181.66,448.67 L182.13,449.39 L182.61,449.69 L183.08,448.68 L183.56,445.56 L184.03,440.16 L184.51,433.45 L184.98,427.50 L185.45,424.65 L185.93,425.66 L186.40,429.27 L186.88,434.63 L187.35,440.62 L187.82,446.19 L188.30,450.69 L188.77,453.90 L189.25,455.95 L189.72,457.12 L190.20,457.73 L190.67,458.01 L191.14,458.13 L191.62,458.18 L192.09,458.19 L192.57,458.20 L193.04,458.20 L193.51,458.20 L193.99,458.20 L194.46,458.20 L194.94,458.20 L195.41,458.20 L195.89,458.20 L196.36,458.20 L196.83,458.20 L197.31,458.20 L197.78,458.20 L198.26,458.20 L198.73,458.20 L199.20,458.20 L199.68,458.20 L200.15,458.20 L200.63,458.20 L201.10,458.20 L201.58,458.20 L202.05,458.20 L202.52,458.20 L203.00,458.20 L203.47,458.20 L203.95,458.20 L204.42,458.20 L204.89,458.20 L205.37,458.20 L205.84,458.20 L206.32,458.20 L206.79,458.20 L207.27,458.20 L207.74,458.20 L208.21,458.20 L208.69,458.20 L209.16,458.20 L209.64,458.20 L210.11,458.20 L210.58,458.20 L211.06,458.20 L211.53,458.20 L212.01,458.20 L212.48,458.20 L212.96,458.20 L213.43,458.20 L213.90,458.20 L214.38,458.20 L214.85,458.20 L215.33,458.20 L215.80,458.20 L216.27,458.20 L216.75,458.20 L217.22,458.20 L217.70,458.20 L218.17,458.20 L218.65,458.20 L219.12,458.20 L219.59,458.20 L220.07,458.20 L220.54,458.20 L221.02,458.20 L221.49,458.20 L221.96,458.20 L222.44,458.20 L222.91,458.20 L223.39,458.20 L223.86,458.20 L224.34,458.20 L224.81,458.20 L225.28,458.20 L225.76,458.20 L226.23,458.20 L226.71,458.20 L227.18,458.20 L227.65,458.20 L228.13,458.20 L228.60,458.20 L229.08,458.20 L229.55,458.20 L230.03,458.20 L230.50,458.20" fill="none" stroke="#000" stroke-width="0.95" stroke-linejoin="round"/>
<rect x="173.50" y="424.50" width="57.00" height="34.00" fill="none" stroke="#333" stroke-width="1"/>
<line x1="176.44" y1="458.20" x2="176.44" y2="460.60" stroke="#111" stroke-width="0.75"/>
<line x1="178.15" y1="458.20" x2="178.15" y2="460.00" stroke="#111" stroke-width="0.75"/>
<line x1="181.00" y1="458.20" x2="181.00" y2="461.20" stroke="#111" stroke-width="0.75"/>
<line x1="184.25" y1="458.20" x2="184.25" y2="460.40" stroke="#111" stroke-width="0.75"/>
<line x1="186.16" y1="458.20" x2="186.16" y2="460.40" stroke="#111" stroke-width="0.75"/>
<line x1="187.51" y1="458.20" x2="187.51" y2="460.40" stroke="#111" stroke-width="0.75"/>
<line x1="188.55" y1="458.20" x2="188.55" y2="460.40" stroke="#111" stroke-width="0.75"/>
<line x1="189.41" y1="458.20" x2="189.41" y2="460.40" stroke="#111" stroke-width="0.75"/>
<line x1="190.13" y1="458.20" x2="190.13" y2="460.40" stroke="#111" stroke-width="0.75"/>
<line x1="190.76" y1="458.20" x2="190.76" y2="460.40" stroke="#111" stroke-width="0.75"/>
<line x1="191.31" y1="458.20" x2="191.31" y2="460.40" stroke="#111" stroke-width="0.75"/>
<line x1="191.81" y1="458.20" x2="191.81" y2="461.20" stroke="#111" stroke-width="0.75"/>
<line x1="194.55" y1="458.20" x2="194.55" y2="460.40" stroke="#111" stroke-width="0.75"/>
<line x1="196.15" y1="458.20" x2="196.15" y2="460.40" stroke="#111" stroke-width="0.75"/>
<line x1="197.29" y1="458.20" x2="197.29" y2="460.40" stroke="#111" stroke-width="0.75"/>
<line x1="198.17" y1="458.20" x2="198.17" y2="460.40" stroke="#111" stroke-width="0.75"/>
<line x1="198.89" y1="458.20" x2="198.89" y2="460.40" stroke="#111" stroke-width="0.75"/>
<line x1="199.50" y1="458.20" x2="199.50" y2="460.40" stroke="#111" stroke-width="0.75"/>
<line x1="200.03" y1="458.20" x2="200.03" y2="460.40" stroke="#111" stroke-width="0.75"/>
<line x1="200.50" y1="458.20" x2="200.50" y2="460.40" stroke="#111" stroke-width="0.75"/>
<line x1="200.91" y1="458.20" x2="200.91" y2="461.20" stroke="#111" stroke-width="0.75"/>
<line x1="203.48" y1="458.20" x2="203.48" y2="460.40" stroke="#111" stroke-width="0.75"/>
<line x1="204.98" y1="458.20" x2="204.98" y2="460.40" stroke="#111" stroke-width="0.75"/>
<line x1="206.05" y1="458.20" x2="206.05" y2="460.40" stroke="#111" stroke-width="0.75"/>
<line x1="206.88" y1="458.20" x2="206.88" y2="460.40" stroke="#111" stroke-width="0.75"/>
<line x1="207.55" y1="458.20" x2="207.55" y2="460.40" stroke="#111" stroke-width="0.75"/>
<line x1="208.12" y1="458.20" x2="208.12" y2="460.40" stroke="#111" stroke-width="0.75"/>
<line x1="208.62" y1="458.20" x2="208.62" y2="460.40" stroke="#111" stroke-width="0.75"/>
<line x1="209.06" y1="458.20" x2="209.06" y2="460.40" stroke="#111" stroke-width="0.75"/>
<line x1="209.45" y1="458.20" x2="209.45" y2="461.20" stroke="#111" stroke-width="0.75"/>
<line x1="212.02" y1="458.20" x2="212.02" y2="460.40" stroke="#111" stroke-width="0.75"/>
<line x1="213.52" y1="458.20" x2="213.52" y2="460.40" stroke="#111" stroke-width="0.75"/>
<line x1="214.59" y1="458.20" x2="214.59" y2="460.40" stroke="#111" stroke-width="0.75"/>
<line x1="215.41" y1="458.20" x2="215.41" y2="460.40" stroke="#111" stroke-width="0.75"/>
<line x1="216.09" y1="458.20" x2="216.09" y2="460.40" stroke="#111" stroke-width="0.75"/>
<line x1="216.66" y1="458.20" x2="216.66" y2="460.40" stroke="#111" stroke-width="0.75"/>
<line x1="217.15" y1="458.20" x2="217.15" y2="460.40" stroke="#111" stroke-width="0.75"/>
<line x1="217.59" y1="458.20" x2="217.59" y2="460.40" stroke="#111" stroke-width="0.75"/>
<line x1="217.98" y1="458.20" x2="217.98" y2="461.20" stroke="#111" stroke-width="0.75"/>
<line x1="220.55" y1="458.20" x2="220.55" y2="460.40" stroke="#111" stroke-width="0.75"/>
<line x1="222.05" y1="458.20" x2="222.05" y2="460.40" stroke="#111" stroke-width="0.75"/>
<line x1="223.12" y1="458.20" x2="223.12" y2="460.40" stroke="#111" stroke-width="0.75"/>
<line x1="223.95" y1="458.20" x2="223.95" y2="460.40" stroke="#111" stroke-width="0.75"/>
<line x1="224.62" y1="458.20" x2="224.62" y2="460.40" stroke="#111" stroke-width="0.75"/>
<line x1="225.19" y1="458.20" x2="225.19" y2="460.40" stroke="#111" stroke-width="0.75"/>
<line x1="225.69" y1="458.20" x2="225.69" y2="460.40" stroke="#111" stroke-width="0.75"/>
<line x1="226.13" y1="458.20" x2="226.13" y2="460.40" stroke="#111" stroke-width="0.75"/>
<line x1="226.52" y1="458.20" x2="226.52" y2="461.20" stroke="#111" stroke-width="0.75"/>
<line x1="40.00" y1="465.20" x2="86.90" y2="465.20" stroke="#222" stroke-width="0.8"/>
<polygon points="88.90,465.20 85.70,463.70 85.70,466.70" fill="#222"/>
<text x="40.20" y="474.30" font-size="8.6" text-anchor="start" fill="#111" stroke="#111" stroke-width="0.22">Pyronin Y</text>
<text x="268.80" y="372.00" font-size="11.5" font-weight="bold" text-anchor="start" fill="#000" stroke="#000" stroke-width="0.1">F</text>
<text x="338.25" y="377.40" font-size="8.4" text-anchor="middle" fill="#111" stroke="#111" stroke-width="0.22">IL-2 100 U/ml</text>
<text x="404.55" y="377.40" font-size="8.4" text-anchor="middle" fill="#111" stroke="#111" stroke-width="0.22">IL-7 0.2 ng/ml</text>
<text x="470.65" y="377.40" font-size="8.4" text-anchor="middle" fill="#111" stroke="#111" stroke-width="0.22">IL-7 5 ng/ml</text>
<text x="289.00" y="401.50" font-size="8.3" text-anchor="middle" fill="#111" stroke="#111" stroke-width="0.22">Naive</text>
<path d="M310.20,415.30 L310.20,415.30 L310.67,415.49 L311.34,415.92 L312.12,416.34 L312.94,416.54 L313.72,416.27 L314.40,415.30 L314.97,413.48 L315.49,410.97 L315.98,407.99 L316.44,404.79 L316.89,401.58 L317.33,398.60 L317.76,395.51 L318.18,392.04 L318.58,388.58 L318.96,385.49 L319.33,383.14 L319.69,381.90 L320.02,382.04 L320.34,383.30 L320.64,385.30 L320.94,387.66 L321.23,390.00 L321.53,391.92 L321.80,393.50 L322.04,395.07 L322.27,396.62 L322.54,398.12 L322.88,399.56 L323.31,400.94 L323.79,402.25 L324.27,403.50 L324.82,404.70 L325.49,405.84 L326.35,406.92 L327.45,407.95 L328.88,408.94 L330.60,409.88 L332.50,410.77 L334.48,411.59 L336.41,412.32 L338.20,412.96 L339.72,413.49 L341.03,413.91 L342.30,414.26 L343.71,414.53 L345.41,414.76 L347.57,414.97 L350.54,415.12 L354.23,415.21 L358.22,415.26 L362.08,415.28 L365.39,415.28 L367.70,415.30 L367.70,415.30Z" fill="#808080" stroke="#777" stroke-width="0.3"/>
<path d="M310.20,415.30 L310.67,415.49 L311.34,415.92 L312.12,416.34 L312.94,416.54 L313.72,416.27 L314.40,415.30 L314.97,413.48 L315.49,410.97 L315.98,407.99 L316.44,404.79 L316.89,401.58 L317.33,398.60 L317.76,395.51 L318.18,392.04 L318.58,388.58 L318.96,385.49 L319.33,383.14 L319.69,381.90 L320.02,382.04 L320.34,383.30 L320.64,385.30 L320.94,387.66 L321.23,390.00 L321.53,391.92 L321.80,393.50 L322.04,395.07 L322.27,396.62 L322.54,398.12 L322.88,399.56 L323.31,400.94 L323.79,402.25 L324.27,403.50 L324.82,404.70 L325.49,405.84 L326.35,406.92 L327.45,407.95 L328.88,408.94 L330.60,409.88 L332.50,410.77 L334.48,411.59 L336.41,412.32 L338.20,412.96 L339.72,413.49 L341.03,413.91 L342.30,414.26 L343.71,414.53 L345.41,414.76 L347.57,414.97 L350.54,415.12 L354.23,415.21 L358.22,415.26 L362.08,415.28 L365.39,415.28 L367.70,415.30" fill="none" stroke="#000" stroke-width="0.95" stroke-linejoin="round"/>
<rect x="310.50" y="381.50" width="57.00" height="34.00" fill="none" stroke="#333" stroke-width="1"/>
<line x1="313.07" y1="415.30" x2="313.07" y2="417.70" stroke="#111" stroke-width="0.75"/>
<line x1="314.80" y1="415.30" x2="314.80" y2="417.10" stroke="#111" stroke-width="0.75"/>
<line x1="317.68" y1="415.30" x2="317.68" y2="418.30" stroke="#111" stroke-width="0.75"/>
<line x1="320.96" y1="415.30" x2="320.96" y2="417.50" stroke="#111" stroke-width="0.75"/>
<line x1="322.89" y1="415.30" x2="322.89" y2="417.50" stroke="#111" stroke-width="0.75"/>
<line x1="324.25" y1="415.30" x2="324.25" y2="417.50" stroke="#111" stroke-width="0.75"/>
<line x1="325.31" y1="415.30" x2="325.31" y2="417.50" stroke="#111" stroke-width="0.75"/>
<line x1="326.18" y1="415.30" x2="326.18" y2="417.50" stroke="#111" stroke-width="0.75"/>
<line x1="326.91" y1="415.30" x2="326.91" y2="417.50" stroke="#111" stroke-width="0.75"/>
<line x1="327.54" y1="415.30" x2="327.54" y2="417.50" stroke="#111" stroke-width="0.75"/>
<line x1="328.10" y1="415.30" x2="328.10" y2="417.50" stroke="#111" stroke-width="0.75"/>
<line x1="328.60" y1="415.30" x2="328.60" y2="418.30" stroke="#111" stroke-width="0.75"/>
<line x1="331.37" y1="415.30" x2="331.37" y2="417.50" stroke="#111" stroke-width="0.75"/>
<line x1="332.99" y1="415.30" x2="332.99" y2="417.50" stroke="#111" stroke-width="0.75"/>
<line x1="334.14" y1="415.30" x2="334.14" y2="417.50" stroke="#111" stroke-width="0.75"/>
<line x1="335.03" y1="415.30" x2="335.03" y2="417.50" stroke="#111" stroke-width="0.75"/>
<line x1="335.76" y1="415.30" x2="335.76" y2="417.50" stroke="#111" stroke-width="0.75"/>
<line x1="336.37" y1="415.30" x2="336.37" y2="417.50" stroke="#111" stroke-width="0.75"/>
<line x1="336.91" y1="415.30" x2="336.91" y2="417.50" stroke="#111" stroke-width="0.75"/>
<line x1="337.38" y1="415.30" x2="337.38" y2="417.50" stroke="#111" stroke-width="0.75"/>
<line x1="337.80" y1="415.30" x2="337.80" y2="418.30" stroke="#111" stroke-width="0.75"/>
<line x1="340.40" y1="415.30" x2="340.40" y2="417.50" stroke="#111" stroke-width="0.75"/>
<line x1="341.92" y1="415.30" x2="341.92" y2="417.50" stroke="#111" stroke-width="0.75"/>
<line x1="342.99" y1="415.30" x2="342.99" y2="417.50" stroke="#111" stroke-width="0.75"/>
<line x1="343.83" y1="415.30" x2="343.83" y2="417.50" stroke="#111" stroke-width="0.75"/>
<line x1="344.51" y1="415.30" x2="344.51" y2="417.50" stroke="#111" stroke-width="0.75"/>
<line x1="345.09" y1="415.30" x2="345.09" y2="417.50" stroke="#111" stroke-width="0.75"/>
<line x1="345.59" y1="415.30" x2="345.59" y2="417.50" stroke="#111" stroke-width="0.75"/>
<line x1="346.03" y1="415.30" x2="346.03" y2="417.50" stroke="#111" stroke-width="0.75"/>
<line x1="346.43" y1="415.30" x2="346.43" y2="418.30" stroke="#111" stroke-width="0.75"/>
<line x1="349.02" y1="415.30" x2="349.02" y2="417.50" stroke="#111" stroke-width="0.75"/>
<line x1="350.54" y1="415.30" x2="350.54" y2="417.50" stroke="#111" stroke-width="0.75"/>
<line x1="351.62" y1="415.30" x2="351.62" y2="417.50" stroke="#111" stroke-width="0.75"/>
<line x1="352.45" y1="415.30" x2="352.45" y2="417.50" stroke="#111" stroke-width="0.75"/>
<line x1="353.14" y1="415.30" x2="353.14" y2="417.50" stroke="#111" stroke-width="0.75"/>
<line x1="353.71" y1="415.30" x2="353.71" y2="417.50" stroke="#111" stroke-width="0.75"/>
<line x1="354.21" y1="415.30" x2="354.21" y2="417.50" stroke="#111" stroke-width="0.75"/>
<line x1="354.66" y1="415.30" x2="354.66" y2="417.50" stroke="#111" stroke-width="0.75"/>
<line x1="355.05" y1="415.30" x2="355.05" y2="418.30" stroke="#111" stroke-width="0.75"/>
<line x1="357.65" y1="415.30" x2="357.65" y2="417.50" stroke="#111" stroke-width="0.75"/>
<line x1="359.17" y1="415.30" x2="359.17" y2="417.50" stroke="#111" stroke-width="0.75"/>
<line x1="360.24" y1="415.30" x2="360.24" y2="417.50" stroke="#111" stroke-width="0.75"/>
<line x1="361.08" y1="415.30" x2="361.08" y2="417.50" stroke="#111" stroke-width="0.75"/>
<line x1="361.76" y1="415.30" x2="361.76" y2="417.50" stroke="#111" stroke-width="0.75"/>
<line x1="362.34" y1="415.30" x2="362.34" y2="417.50" stroke="#111" stroke-width="0.75"/>
<line x1="362.84" y1="415.30" x2="362.84" y2="417.50" stroke="#111" stroke-width="0.75"/>
<line x1="363.28" y1="415.30" x2="363.28" y2="417.50" stroke="#111" stroke-width="0.75"/>
<line x1="363.68" y1="415.30" x2="363.68" y2="418.30" stroke="#111" stroke-width="0.75"/>
<path d="M376.50,415.30 L376.50,415.30 L377.00,415.49 L377.71,415.92 L378.54,416.34 L379.41,416.54 L380.23,416.27 L380.93,415.30 L381.49,413.48 L381.98,410.97 L382.43,407.99 L382.85,404.79 L383.26,401.58 L383.69,398.60 L384.13,395.52 L384.57,392.07 L385.00,388.62 L385.41,385.54 L385.80,383.18 L386.16,381.90 L386.47,381.98 L386.75,383.19 L387.00,385.11 L387.24,387.37 L387.47,389.55 L387.71,391.25 L387.93,392.48 L388.10,393.55 L388.26,394.55 L388.47,395.56 L388.75,396.66 L389.15,397.93 L389.62,399.47 L390.12,401.21 L390.70,403.05 L391.41,404.86 L392.29,406.53 L393.40,407.95 L394.83,409.12 L396.54,410.12 L398.43,410.98 L400.39,411.72 L402.31,412.38 L404.10,412.96 L405.62,413.45 L406.95,413.80 L408.24,414.07 L409.66,414.27 L411.39,414.45 L413.59,414.63 L416.59,414.81 L420.34,414.95 L424.39,415.07 L428.30,415.16 L431.65,415.24 L434.00,415.30 L434.00,415.30Z" fill="#808080" stroke="#777" stroke-width="0.3"/>
<path d="M376.50,415.30 L377.00,415.49 L377.71,415.92 L378.54,416.34 L379.41,416.54 L380.23,416.27 L380.93,415.30 L381.49,413.48 L381.98,410.97 L382.43,407.99 L382.85,404.79 L383.26,401.58 L383.69,398.60 L384.13,395.52 L384.57,392.07 L385.00,388.62 L385.41,385.54 L385.80,383.18 L386.16,381.90 L386.47,381.98 L386.75,383.19 L387.00,385.11 L387.24,387.37 L387.47,389.55 L387.71,391.25 L387.93,392.48 L388.10,393.55 L388.26,394.55 L388.47,395.56 L388.75,396.66 L389.15,397.93 L389.62,399.47 L390.12,401.21 L390.70,403.05 L391.41,404.86 L392.29,406.53 L393.40,407.95 L394.83,409.12 L396.54,410.12 L398.43,410.98 L400.39,411.72 L402.31,412.38 L404.10,412.96 L405.62,413.45 L406.95,413.80 L408.24,414.07 L409.66,414.27 L411.39,414.45 L413.59,414.63 L416.59,414.81 L420.34,414.95 L424.39,415.07 L428.30,415.16 L431.65,415.24 L434.00,415.30" fill="none" stroke="#000" stroke-width="0.95" stroke-linejoin="round"/>
<rect x="376.50" y="381.50" width="58.00" height="34.00" fill="none" stroke="#333" stroke-width="1"/>
<line x1="379.38" y1="415.30" x2="379.38" y2="417.70" stroke="#111" stroke-width="0.75"/>
<line x1="381.10" y1="415.30" x2="381.10" y2="417.10" stroke="#111" stroke-width="0.75"/>
<line x1="383.98" y1="415.30" x2="383.98" y2="418.30" stroke="#111" stroke-width="0.75"/>
<line x1="387.26" y1="415.30" x2="387.26" y2="417.50" stroke="#111" stroke-width="0.75"/>
<line x1="389.19" y1="415.30" x2="389.19" y2="417.50" stroke="#111" stroke-width="0.75"/>
<line x1="390.55" y1="415.30" x2="390.55" y2="417.50" stroke="#111" stroke-width="0.75"/>
<line x1="391.61" y1="415.30" x2="391.61" y2="417.50" stroke="#111" stroke-width="0.75"/>
<line x1="392.48" y1="415.30" x2="392.48" y2="417.50" stroke="#111" stroke-width="0.75"/>
<line x1="393.21" y1="415.30" x2="393.21" y2="417.50" stroke="#111" stroke-width="0.75"/>
<line x1="393.84" y1="415.30" x2="393.84" y2="417.50" stroke="#111" stroke-width="0.75"/>
<line x1="394.40" y1="415.30" x2="394.40" y2="417.50" stroke="#111" stroke-width="0.75"/>
<line x1="394.90" y1="415.30" x2="394.90" y2="418.30" stroke="#111" stroke-width="0.75"/>
<line x1="397.67" y1="415.30" x2="397.67" y2="417.50" stroke="#111" stroke-width="0.75"/>
<line x1="399.29" y1="415.30" x2="399.29" y2="417.50" stroke="#111" stroke-width="0.75"/>
<line x1="400.44" y1="415.30" x2="400.44" y2="417.50" stroke="#111" stroke-width="0.75"/>
<line x1="401.33" y1="415.30" x2="401.33" y2="417.50" stroke="#111" stroke-width="0.75"/>
<line x1="402.06" y1="415.30" x2="402.06" y2="417.50" stroke="#111" stroke-width="0.75"/>
<line x1="402.67" y1="415.30" x2="402.67" y2="417.50" stroke="#111" stroke-width="0.75"/>
<line x1="403.21" y1="415.30" x2="403.21" y2="417.50" stroke="#111" stroke-width="0.75"/>
<line x1="403.68" y1="415.30" x2="403.68" y2="417.50" stroke="#111" stroke-width="0.75"/>
<line x1="404.10" y1="415.30" x2="404.10" y2="418.30" stroke="#111" stroke-width="0.75"/>
<line x1="406.70" y1="415.30" x2="406.70" y2="417.50" stroke="#111" stroke-width="0.75"/>
<line x1="408.22" y1="415.30" x2="408.22" y2="417.50" stroke="#111" stroke-width="0.75"/>
<line x1="409.29" y1="415.30" x2="409.29" y2="417.50" stroke="#111" stroke-width="0.75"/>
<line x1="410.13" y1="415.30" x2="410.13" y2="417.50" stroke="#111" stroke-width="0.75"/>
<line x1="410.81" y1="415.30" x2="410.81" y2="417.50" stroke="#111" stroke-width="0.75"/>
<line x1="411.39" y1="415.30" x2="411.39" y2="417.50" stroke="#111" stroke-width="0.75"/>
<line x1="411.89" y1="415.30" x2="411.89" y2="417.50" stroke="#111" stroke-width="0.75"/>
<line x1="412.33" y1="415.30" x2="412.33" y2="417.50" stroke="#111" stroke-width="0.75"/>
<line x1="412.73" y1="415.30" x2="412.73" y2="418.30" stroke="#111" stroke-width="0.75"/>
<line x1="415.32" y1="415.30" x2="415.32" y2="417.50" stroke="#111" stroke-width="0.75"/>
<line x1="416.84" y1="415.30" x2="416.84" y2="417.50" stroke="#111" stroke-width="0.75"/>
<line x1="417.92" y1="415.30" x2="417.92" y2="417.50" stroke="#111" stroke-width="0.75"/>
<line x1="418.75" y1="415.30" x2="418.75" y2="417.50" stroke="#111" stroke-width="0.75"/>
<line x1="419.44" y1="415.30" x2="419.44" y2="417.50" stroke="#111" stroke-width="0.75"/>
<line x1="420.01" y1="415.30" x2="420.01" y2="417.50" stroke="#111" stroke-width="0.75"/>
<line x1="420.51" y1="415.30" x2="420.51" y2="417.50" stroke="#111" stroke-width="0.75"/>
<line x1="420.96" y1="415.30" x2="420.96" y2="417.50" stroke="#111" stroke-width="0.75"/>
<line x1="421.35" y1="415.30" x2="421.35" y2="418.30" stroke="#111" stroke-width="0.75"/>
<line x1="423.95" y1="415.30" x2="423.95" y2="417.50" stroke="#111" stroke-width="0.75"/>
<line x1="425.47" y1="415.30" x2="425.47" y2="417.50" stroke="#111" stroke-width="0.75"/>
<line x1="426.54" y1="415.30" x2="426.54" y2="417.50" stroke="#111" stroke-width="0.75"/>
<line x1="427.38" y1="415.30" x2="427.38" y2="417.50" stroke="#111" stroke-width="0.75"/>
<line x1="428.06" y1="415.30" x2="428.06" y2="417.50" stroke="#111" stroke-width="0.75"/>
<line x1="428.64" y1="415.30" x2="428.64" y2="417.50" stroke="#111" stroke-width="0.75"/>
<line x1="429.14" y1="415.30" x2="429.14" y2="417.50" stroke="#111" stroke-width="0.75"/>
<line x1="429.58" y1="415.30" x2="429.58" y2="417.50" stroke="#111" stroke-width="0.75"/>
<line x1="429.98" y1="415.30" x2="429.98" y2="418.30" stroke="#111" stroke-width="0.75"/>
<path d="M442.60,415.30 L442.60,415.30 L443.22,415.42 L444.11,415.67 L445.14,415.93 L446.21,416.04 L447.18,415.88 L447.95,415.30 L448.49,414.19 L448.90,412.63 L449.22,410.79 L449.49,408.84 L449.76,406.95 L450.08,405.28 L450.41,403.66 L450.74,401.92 L451.06,400.23 L451.39,398.77 L451.73,397.73 L452.09,397.26 L452.47,397.55 L452.86,398.48 L453.27,399.81 L453.69,401.32 L454.10,402.78 L454.50,403.94 L454.88,404.87 L455.25,405.74 L455.61,406.55 L455.99,407.31 L456.40,408.00 L456.86,408.62 L457.34,409.19 L457.83,409.72 L458.34,410.19 L458.93,410.56 L459.61,410.83 L460.43,410.96 L461.43,410.90 L462.62,410.67 L463.91,410.33 L465.22,409.94 L466.46,409.57 L467.56,409.29 L468.47,409.07 L469.28,408.87 L470.02,408.68 L470.74,408.52 L471.49,408.39 L472.33,408.29 L473.28,408.22 L474.31,408.17 L475.37,408.16 L476.42,408.17 L477.39,408.22 L478.25,408.29 L478.96,408.38 L479.57,408.50 L480.11,408.64 L480.62,408.82 L481.14,409.03 L481.70,409.29 L482.31,409.60 L482.93,409.96 L483.56,410.35 L484.19,410.77 L484.82,411.20 L485.44,411.63 L486.07,412.07 L486.73,412.55 L487.39,413.05 L488.00,413.52 L488.55,413.95 L489.00,414.30 L489.22,414.57 L489.22,414.79 L489.15,414.97 L489.16,415.10 L489.43,415.21 L490.10,415.30 L491.36,415.36 L493.14,415.37 L495.17,415.36 L497.18,415.34 L498.91,415.31 L500.10,415.30 L500.10,415.30Z" fill="#808080" stroke="#777" stroke-width="0.3"/>
<path d="M442.60,415.30 L442.99,415.49 L443.54,415.92 L444.19,416.34 L444.88,416.54 L445.56,416.27 L446.17,415.30 L446.71,413.48 L447.24,410.97 L447.75,407.99 L448.25,404.79 L448.74,401.58 L449.21,398.60 L449.68,395.51 L450.13,392.04 L450.57,388.58 L450.99,385.49 L451.40,383.14 L451.80,381.90 L452.18,382.03 L452.54,383.27 L452.89,385.26 L453.22,387.62 L453.55,389.96 L453.87,391.92 L454.18,393.61 L454.46,395.36 L454.74,397.10 L455.02,398.76 L455.32,400.29 L455.65,401.61 L455.98,402.69 L456.28,403.60 L456.60,404.36 L456.98,405.03 L457.45,405.66 L458.07,406.28 L458.81,406.87 L459.64,407.38 L460.58,407.85 L461.61,408.30 L462.75,408.77 L463.99,409.29 L465.43,409.88 L467.08,410.54 L468.83,411.21 L470.58,411.86 L472.22,412.46 L473.65,412.96 L474.66,413.37 L475.30,413.70 L475.84,413.98 L476.52,414.22 L477.62,414.43 L479.40,414.63 L482.22,414.81 L485.96,414.95 L490.11,415.07 L494.18,415.16 L497.67,415.24 L500.10,415.30" fill="none" stroke="#000" stroke-width="0.95" stroke-linejoin="round"/>
<rect x="442.50" y="381.50" width="58.00" height="34.00" fill="none" stroke="#333" stroke-width="1"/>
<line x1="445.48" y1="415.30" x2="445.48" y2="417.70" stroke="#111" stroke-width="0.75"/>
<line x1="447.20" y1="415.30" x2="447.20" y2="417.10" stroke="#111" stroke-width="0.75"/>
<line x1="450.08" y1="415.30" x2="450.08" y2="418.30" stroke="#111" stroke-width="0.75"/>
<line x1="453.36" y1="415.30" x2="453.36" y2="417.50" stroke="#111" stroke-width="0.75"/>
<line x1="455.29" y1="415.30" x2="455.29" y2="417.50" stroke="#111" stroke-width="0.75"/>
<line x1="456.65" y1="415.30" x2="456.65" y2="417.50" stroke="#111" stroke-width="0.75"/>
<line x1="457.71" y1="415.30" x2="457.71" y2="417.50" stroke="#111" stroke-width="0.75"/>
<line x1="458.58" y1="415.30" x2="458.58" y2="417.50" stroke="#111" stroke-width="0.75"/>
<line x1="459.31" y1="415.30" x2="459.31" y2="417.50" stroke="#111" stroke-width="0.75"/>
<line x1="459.94" y1="415.30" x2="459.94" y2="417.50" stroke="#111" stroke-width="0.75"/>
<line x1="460.50" y1="415.30" x2="460.50" y2="417.50" stroke="#111" stroke-width="0.75"/>
<line x1="461.00" y1="415.30" x2="461.00" y2="418.30" stroke="#111" stroke-width="0.75"/>
<line x1="463.77" y1="415.30" x2="463.77" y2="417.50" stroke="#111" stroke-width="0.75"/>
<line x1="465.39" y1="415.30" x2="465.39" y2="417.50" stroke="#111" stroke-width="0.75"/>
<line x1="466.54" y1="415.30" x2="466.54" y2="417.50" stroke="#111" stroke-width="0.75"/>
<line x1="467.43" y1="415.30" x2="467.43" y2="417.50" stroke="#111" stroke-width="0.75"/>
<line x1="468.16" y1="415.30" x2="468.16" y2="417.50" stroke="#111" stroke-width="0.75"/>
<line x1="468.77" y1="415.30" x2="468.77" y2="417.50" stroke="#111" stroke-width="0.75"/>
<line x1="469.31" y1="415.30" x2="469.31" y2="417.50" stroke="#111" stroke-width="0.75"/>
<line x1="469.78" y1="415.30" x2="469.78" y2="417.50" stroke="#111" stroke-width="0.75"/>
<line x1="470.20" y1="415.30" x2="470.20" y2="418.30" stroke="#111" stroke-width="0.75"/>
<line x1="472.80" y1="415.30" x2="472.80" y2="417.50" stroke="#111" stroke-width="0.75"/>
<line x1="474.32" y1="415.30" x2="474.32" y2="417.50" stroke="#111" stroke-width="0.75"/>
<line x1="475.39" y1="415.30" x2="475.39" y2="417.50" stroke="#111" stroke-width="0.75"/>
<line x1="476.23" y1="415.30" x2="476.23" y2="417.50" stroke="#111" stroke-width="0.75"/>
<line x1="476.91" y1="415.30" x2="476.91" y2="417.50" stroke="#111" stroke-width="0.75"/>
<line x1="477.49" y1="415.30" x2="477.49" y2="417.50" stroke="#111" stroke-width="0.75"/>
<line x1="477.99" y1="415.30" x2="477.99" y2="417.50" stroke="#111" stroke-width="0.75"/>
<line x1="478.43" y1="415.30" x2="478.43" y2="417.50" stroke="#111" stroke-width="0.75"/>
<line x1="478.83" y1="415.30" x2="478.83" y2="418.30" stroke="#111" stroke-width="0.75"/>
<line x1="481.42" y1="415.30" x2="481.42" y2="417.50" stroke="#111" stroke-width="0.75"/>
<line x1="482.94" y1="415.30" x2="482.94" y2="417.50" stroke="#111" stroke-width="0.75"/>
<line x1="484.02" y1="415.30" x2="484.02" y2="417.50" stroke="#111" stroke-width="0.75"/>
<line x1="484.85" y1="415.30" x2="484.85" y2="417.50" stroke="#111" stroke-width="0.75"/>
<line x1="485.54" y1="415.30" x2="485.54" y2="417.50" stroke="#111" stroke-width="0.75"/>
<line x1="486.11" y1="415.30" x2="486.11" y2="417.50" stroke="#111" stroke-width="0.75"/>
<line x1="486.61" y1="415.30" x2="486.61" y2="417.50" stroke="#111" stroke-width="0.75"/>
<line x1="487.06" y1="415.30" x2="487.06" y2="417.50" stroke="#111" stroke-width="0.75"/>
<line x1="487.45" y1="415.30" x2="487.45" y2="418.30" stroke="#111" stroke-width="0.75"/>
<line x1="490.05" y1="415.30" x2="490.05" y2="417.50" stroke="#111" stroke-width="0.75"/>
<line x1="491.57" y1="415.30" x2="491.57" y2="417.50" stroke="#111" stroke-width="0.75"/>
<line x1="492.64" y1="415.30" x2="492.64" y2="417.50" stroke="#111" stroke-width="0.75"/>
<line x1="493.48" y1="415.30" x2="493.48" y2="417.50" stroke="#111" stroke-width="0.75"/>
<line x1="494.16" y1="415.30" x2="494.16" y2="417.50" stroke="#111" stroke-width="0.75"/>
<line x1="494.74" y1="415.30" x2="494.74" y2="417.50" stroke="#111" stroke-width="0.75"/>
<line x1="495.24" y1="415.30" x2="495.24" y2="417.50" stroke="#111" stroke-width="0.75"/>
<line x1="495.68" y1="415.30" x2="495.68" y2="417.50" stroke="#111" stroke-width="0.75"/>
<line x1="496.08" y1="415.30" x2="496.08" y2="418.30" stroke="#111" stroke-width="0.75"/>
<text x="289.00" y="442.20" font-size="8.3" text-anchor="middle" fill="#111" stroke="#111" stroke-width="0.22">Memory</text>
<path d="M310.20,457.10 L310.20,457.10 L311.02,457.25 L312.20,457.59 L313.58,457.92 L315.00,458.07 L316.30,457.86 L317.33,457.10 L318.08,455.61 L318.68,453.50 L319.16,451.03 L319.57,448.45 L319.94,446.02 L320.32,444.00 L320.69,442.26 L321.00,440.59 L321.29,439.06 L321.55,437.77 L321.82,436.81 L322.10,436.27 L322.39,436.24 L322.67,436.69 L322.95,437.47 L323.24,438.42 L323.55,439.41 L323.88,440.30 L324.24,441.15 L324.60,442.10 L324.98,443.09 L325.39,444.06 L325.82,444.94 L326.30,445.68 L326.77,446.33 L327.23,446.96 L327.71,447.50 L328.28,447.90 L328.98,448.10 L329.87,448.03 L331.01,447.64 L332.38,446.98 L333.89,446.12 L335.43,445.12 L336.90,444.05 L338.20,442.99 L339.34,441.88 L340.38,440.65 L341.35,439.36 L342.28,438.05 L343.20,436.78 L344.12,435.60 L345.10,434.45 L346.12,433.28 L347.13,432.15 L348.06,431.12 L348.86,430.23 L349.47,429.55 L349.82,429.01 L349.92,428.56 L349.90,428.27 L349.85,428.18 L349.88,428.36 L350.10,428.88 L350.54,429.82 L351.09,431.16 L351.73,432.77 L352.41,434.53 L353.09,436.29 L353.73,437.95 L354.33,439.54 L354.94,441.19 L355.55,442.85 L356.16,444.49 L356.76,446.06 L357.35,447.52 L357.95,448.92 L358.56,450.29 L359.16,451.59 L359.74,452.79 L360.29,453.85 L360.80,454.75 L361.22,455.45 L361.57,455.98 L361.88,456.38 L362.21,456.67 L362.60,456.90 L363.10,457.10 L363.79,457.24 L364.63,457.27 L365.54,457.25 L366.42,457.19 L367.17,457.13 L367.70,457.10 L367.70,457.10Z" fill="#808080" stroke="#777" stroke-width="0.3"/>
<path d="M310.20,457.10 L310.96,457.24 L312.05,457.55 L313.32,457.86 L314.64,458.00 L315.87,457.80 L316.87,457.10 L317.65,455.68 L318.33,453.63 L318.91,451.24 L319.43,448.81 L319.89,446.64 L320.32,445.00 L320.68,443.86 L320.95,442.96 L321.18,442.32 L321.38,441.93 L321.62,441.82 L321.93,441.98 L322.31,442.59 L322.73,443.66 L323.17,445.00 L323.64,446.42 L324.11,447.72 L324.57,448.70 L325.03,449.40 L325.49,449.98 L325.95,450.44 L326.43,450.78 L326.92,450.98 L327.45,451.05 L327.98,451.00 L328.52,450.84 L329.07,450.55 L329.67,450.11 L330.33,449.50 L331.07,448.70 L331.94,447.65 L332.92,446.34 L333.96,444.86 L335.02,443.30 L336.05,441.75 L337.00,440.30 L337.87,438.89 L338.71,437.43 L339.52,435.97 L340.30,434.59 L341.05,433.32 L341.77,432.24 L342.45,431.37 L343.09,430.69 L343.69,430.14 L344.28,429.64 L344.84,429.12 L345.39,428.54 L345.92,427.77 L346.42,426.84 L346.90,425.89 L347.37,425.09 L347.84,424.58 L348.32,424.51 L348.82,424.96 L349.34,425.84 L349.85,427.01 L350.36,428.33 L350.85,429.67 L351.31,430.89 L351.73,431.99 L352.12,433.08 L352.48,434.19 L352.85,435.35 L353.26,436.59 L353.73,437.95 L354.26,439.49 L354.85,441.21 L355.47,443.01 L356.11,444.80 L356.74,446.51 L357.35,448.03 L357.95,449.39 L358.56,450.68 L359.16,451.87 L359.74,452.96 L360.29,453.92 L360.80,454.75 L361.22,455.42 L361.57,455.94 L361.88,456.34 L362.21,456.65 L362.60,456.89 L363.10,457.10 L363.79,457.24 L364.63,457.27 L365.54,457.25 L366.42,457.19 L367.17,457.13 L367.70,457.10" fill="none" stroke="#000" stroke-width="0.95" stroke-linejoin="round"/>
<rect x="310.50" y="423.50" width="57.00" height="34.00" fill="none" stroke="#333" stroke-width="1"/>
<line x1="313.07" y1="457.10" x2="313.07" y2="459.50" stroke="#111" stroke-width="0.75"/>
<line x1="314.80" y1="457.10" x2="314.80" y2="458.90" stroke="#111" stroke-width="0.75"/>
<line x1="317.68" y1="457.10" x2="317.68" y2="460.10" stroke="#111" stroke-width="0.75"/>
<line x1="320.96" y1="457.10" x2="320.96" y2="459.30" stroke="#111" stroke-width="0.75"/>
<line x1="322.89" y1="457.10" x2="322.89" y2="459.30" stroke="#111" stroke-width="0.75"/>
<line x1="324.25" y1="457.10" x2="324.25" y2="459.30" stroke="#111" stroke-width="0.75"/>
<line x1="325.31" y1="457.10" x2="325.31" y2="459.30" stroke="#111" stroke-width="0.75"/>
<line x1="326.18" y1="457.10" x2="326.18" y2="459.30" stroke="#111" stroke-width="0.75"/>
<line x1="326.91" y1="457.10" x2="326.91" y2="459.30" stroke="#111" stroke-width="0.75"/>
<line x1="327.54" y1="457.10" x2="327.54" y2="459.30" stroke="#111" stroke-width="0.75"/>
<line x1="328.10" y1="457.10" x2="328.10" y2="459.30" stroke="#111" stroke-width="0.75"/>
<line x1="328.60" y1="457.10" x2="328.60" y2="460.10" stroke="#111" stroke-width="0.75"/>
<line x1="331.37" y1="457.10" x2="331.37" y2="459.30" stroke="#111" stroke-width="0.75"/>
<line x1="332.99" y1="457.10" x2="332.99" y2="459.30" stroke="#111" stroke-width="0.75"/>
<line x1="334.14" y1="457.10" x2="334.14" y2="459.30" stroke="#111" stroke-width="0.75"/>
<line x1="335.03" y1="457.10" x2="335.03" y2="459.30" stroke="#111" stroke-width="0.75"/>
<line x1="335.76" y1="457.10" x2="335.76" y2="459.30" stroke="#111" stroke-width="0.75"/>
<line x1="336.37" y1="457.10" x2="336.37" y2="459.30" stroke="#111" stroke-width="0.75"/>
<line x1="336.91" y1="457.10" x2="336.91" y2="459.30" stroke="#111" stroke-width="0.75"/>
<line x1="337.38" y1="457.10" x2="337.38" y2="459.30" stroke="#111" stroke-width="0.75"/>
<line x1="337.80" y1="457.10" x2="337.80" y2="460.10" stroke="#111" stroke-width="0.75"/>
<line x1="340.40" y1="457.10" x2="340.40" y2="459.30" stroke="#111" stroke-width="0.75"/>
<line x1="341.92" y1="457.10" x2="341.92" y2="459.30" stroke="#111" stroke-width="0.75"/>
<line x1="342.99" y1="457.10" x2="342.99" y2="459.30" stroke="#111" stroke-width="0.75"/>
<line x1="343.83" y1="457.10" x2="343.83" y2="459.30" stroke="#111" stroke-width="0.75"/>
<line x1="344.51" y1="457.10" x2="344.51" y2="459.30" stroke="#111" stroke-width="0.75"/>
<line x1="345.09" y1="457.10" x2="345.09" y2="459.30" stroke="#111" stroke-width="0.75"/>
<line x1="345.59" y1="457.10" x2="345.59" y2="459.30" stroke="#111" stroke-width="0.75"/>
<line x1="346.03" y1="457.10" x2="346.03" y2="459.30" stroke="#111" stroke-width="0.75"/>
<line x1="346.43" y1="457.10" x2="346.43" y2="460.10" stroke="#111" stroke-width="0.75"/>
<line x1="349.02" y1="457.10" x2="349.02" y2="459.30" stroke="#111" stroke-width="0.75"/>
<line x1="350.54" y1="457.10" x2="350.54" y2="459.30" stroke="#111" stroke-width="0.75"/>
<line x1="351.62" y1="457.10" x2="351.62" y2="459.30" stroke="#111" stroke-width="0.75"/>
<line x1="352.45" y1="457.10" x2="352.45" y2="459.30" stroke="#111" stroke-width="0.75"/>
<line x1="353.14" y1="457.10" x2="353.14" y2="459.30" stroke="#111" stroke-width="0.75"/>
<line x1="353.71" y1="457.10" x2="353.71" y2="459.30" stroke="#111" stroke-width="0.75"/>
<line x1="354.21" y1="457.10" x2="354.21" y2="459.30" stroke="#111" stroke-width="0.75"/>
<line x1="354.66" y1="457.10" x2="354.66" y2="459.30" stroke="#111" stroke-width="0.75"/>
<line x1="355.05" y1="457.10" x2="355.05" y2="460.10" stroke="#111" stroke-width="0.75"/>
<line x1="357.65" y1="457.10" x2="357.65" y2="459.30" stroke="#111" stroke-width="0.75"/>
<line x1="359.17" y1="457.10" x2="359.17" y2="459.30" stroke="#111" stroke-width="0.75"/>
<line x1="360.24" y1="457.10" x2="360.24" y2="459.30" stroke="#111" stroke-width="0.75"/>
<line x1="361.08" y1="457.10" x2="361.08" y2="459.30" stroke="#111" stroke-width="0.75"/>
<line x1="361.76" y1="457.10" x2="361.76" y2="459.30" stroke="#111" stroke-width="0.75"/>
<line x1="362.34" y1="457.10" x2="362.34" y2="459.30" stroke="#111" stroke-width="0.75"/>
<line x1="362.84" y1="457.10" x2="362.84" y2="459.30" stroke="#111" stroke-width="0.75"/>
<line x1="363.28" y1="457.10" x2="363.28" y2="459.30" stroke="#111" stroke-width="0.75"/>
<line x1="363.68" y1="457.10" x2="363.68" y2="460.10" stroke="#111" stroke-width="0.75"/>
<path d="M376.50,457.10 L376.50,457.10 L377.35,457.21 L378.57,457.46 L380.00,457.71 L381.46,457.82 L382.78,457.66 L383.80,457.10 L384.50,456.00 L385.00,454.44 L385.36,452.61 L385.66,450.69 L385.94,448.88 L386.27,447.36 L386.65,445.99 L387.01,444.62 L387.37,443.35 L387.71,442.29 L388.06,441.57 L388.40,441.31 L388.75,441.64 L389.09,442.52 L389.43,443.72 L389.77,445.07 L390.09,446.34 L390.42,447.36 L390.69,448.18 L390.91,448.99 L391.13,449.73 L391.39,450.36 L391.73,450.81 L392.20,451.05 L392.81,451.07 L393.54,450.90 L394.35,450.57 L395.22,450.08 L396.12,449.45 L397.03,448.70 L397.95,447.77 L398.92,446.65 L399.92,445.38 L400.93,444.03 L401.95,442.66 L402.95,441.31 L403.94,439.95 L404.94,438.53 L405.94,437.09 L406.93,435.65 L407.93,434.24 L408.93,432.91 L409.97,431.59 L411.08,430.26 L412.18,428.96 L413.22,427.76 L414.15,426.70 L414.91,425.85 L415.45,425.19 L415.81,424.67 L416.06,424.30 L416.26,424.08 L416.46,424.04 L416.75,424.17 L417.10,424.45 L417.45,424.87 L417.82,425.45 L418.21,426.24 L418.62,427.26 L419.05,428.54 L419.52,430.22 L420.01,432.29 L420.53,434.59 L421.06,436.96 L421.58,439.26 L422.10,441.31 L422.60,443.17 L423.10,444.97 L423.60,446.68 L424.09,448.29 L424.59,449.75 L425.09,451.05 L425.60,452.17 L426.14,453.12 L426.67,453.93 L427.18,454.62 L427.66,455.22 L428.08,455.76 L428.39,456.19 L428.62,456.50 L428.80,456.72 L429.00,456.88 L429.28,456.99 L429.69,457.10 L430.30,457.18 L431.08,457.20 L431.94,457.18 L432.78,457.15 L433.50,457.12 L434.00,457.10 L434.00,457.10Z" fill="#808080" stroke="#777" stroke-width="0.3"/>
<path d="M376.50,457.10 L377.35,457.21 L378.57,457.46 L380.00,457.71 L381.46,457.82 L382.78,457.66 L383.80,457.10 L384.50,455.99 L385.00,454.41 L385.36,452.56 L385.66,450.64 L385.94,448.84 L386.27,447.36 L386.65,446.08 L387.01,444.83 L387.37,443.70 L387.71,442.79 L388.06,442.18 L388.40,441.98 L388.75,442.32 L389.09,443.16 L389.43,444.31 L389.77,445.58 L390.09,446.77 L390.42,447.69 L390.69,448.42 L390.91,449.11 L391.13,449.73 L391.39,450.23 L391.73,450.57 L392.20,450.72 L392.81,450.66 L393.54,450.45 L394.35,450.09 L395.22,449.56 L396.12,448.87 L397.03,448.03 L397.95,446.96 L398.92,445.65 L399.92,444.19 L400.93,442.64 L401.95,441.09 L402.95,439.63 L403.94,438.21 L404.94,436.78 L405.94,435.34 L406.94,433.93 L407.94,432.55 L408.93,431.23 L409.95,429.82 L411.01,428.29 L412.07,426.80 L413.09,425.50 L414.03,424.57 L414.85,424.17 L415.51,424.36 L416.04,425.01 L416.48,426.02 L416.91,427.30 L417.36,428.73 L417.90,430.22 L418.55,431.88 L419.26,433.80 L420.00,435.89 L420.75,438.02 L421.45,440.09 L422.10,441.98 L422.67,443.74 L423.18,445.48 L423.67,447.15 L424.14,448.71 L424.60,450.14 L425.09,451.39 L425.60,452.44 L426.14,453.33 L426.67,454.08 L427.18,454.71 L427.66,455.26 L428.08,455.76 L428.39,456.17 L428.62,456.48 L428.80,456.70 L429.00,456.86 L429.28,456.99 L429.69,457.10 L430.30,457.18 L431.08,457.20 L431.94,457.18 L432.78,457.15 L433.50,457.12 L434.00,457.10" fill="none" stroke="#000" stroke-width="0.95" stroke-linejoin="round"/>
<rect x="376.50" y="423.50" width="58.00" height="34.00" fill="none" stroke="#333" stroke-width="1"/>
<line x1="379.38" y1="457.10" x2="379.38" y2="459.50" stroke="#111" stroke-width="0.75"/>
<line x1="381.10" y1="457.10" x2="381.10" y2="458.90" stroke="#111" stroke-width="0.75"/>
<line x1="383.98" y1="457.10" x2="383.98" y2="460.10" stroke="#111" stroke-width="0.75"/>
<line x1="387.26" y1="457.10" x2="387.26" y2="459.30" stroke="#111" stroke-width="0.75"/>
<line x1="389.19" y1="457.10" x2="389.19" y2="459.30" stroke="#111" stroke-width="0.75"/>
<line x1="390.55" y1="457.10" x2="390.55" y2="459.30" stroke="#111" stroke-width="0.75"/>
<line x1="391.61" y1="457.10" x2="391.61" y2="459.30" stroke="#111" stroke-width="0.75"/>
<line x1="392.48" y1="457.10" x2="392.48" y2="459.30" stroke="#111" stroke-width="0.75"/>
<line x1="393.21" y1="457.10" x2="393.21" y2="459.30" stroke="#111" stroke-width="0.75"/>
<line x1="393.84" y1="457.10" x2="393.84" y2="459.30" stroke="#111" stroke-width="0.75"/>
<line x1="394.40" y1="457.10" x2="394.40" y2="459.30" stroke="#111" stroke-width="0.75"/>
<line x1="394.90" y1="457.10" x2="394.90" y2="460.10" stroke="#111" stroke-width="0.75"/>
<line x1="397.67" y1="457.10" x2="397.67" y2="459.30" stroke="#111" stroke-width="0.75"/>
<line x1="399.29" y1="457.10" x2="399.29" y2="459.30" stroke="#111" stroke-width="0.75"/>
<line x1="400.44" y1="457.10" x2="400.44" y2="459.30" stroke="#111" stroke-width="0.75"/>
<line x1="401.33" y1="457.10" x2="401.33" y2="459.30" stroke="#111" stroke-width="0.75"/>
<line x1="402.06" y1="457.10" x2="402.06" y2="459.30" stroke="#111" stroke-width="0.75"/>
<line x1="402.67" y1="457.10" x2="402.67" y2="459.30" stroke="#111" stroke-width="0.75"/>
<line x1="403.21" y1="457.10" x2="403.21" y2="459.30" stroke="#111" stroke-width="0.75"/>
<line x1="403.68" y1="457.10" x2="403.68" y2="459.30" stroke="#111" stroke-width="0.75"/>
<line x1="404.10" y1="457.10" x2="404.10" y2="460.10" stroke="#111" stroke-width="0.75"/>
<line x1="406.70" y1="457.10" x2="406.70" y2="459.30" stroke="#111" stroke-width="0.75"/>
<line x1="408.22" y1="457.10" x2="408.22" y2="459.30" stroke="#111" stroke-width="0.75"/>
<line x1="409.29" y1="457.10" x2="409.29" y2="459.30" stroke="#111" stroke-width="0.75"/>
<line x1="410.13" y1="457.10" x2="410.13" y2="459.30" stroke="#111" stroke-width="0.75"/>
<line x1="410.81" y1="457.10" x2="410.81" y2="459.30" stroke="#111" stroke-width="0.75"/>
<line x1="411.39" y1="457.10" x2="411.39" y2="459.30" stroke="#111" stroke-width="0.75"/>
<line x1="411.89" y1="457.10" x2="411.89" y2="459.30" stroke="#111" stroke-width="0.75"/>
<line x1="412.33" y1="457.10" x2="412.33" y2="459.30" stroke="#111" stroke-width="0.75"/>
<line x1="412.73" y1="457.10" x2="412.73" y2="460.10" stroke="#111" stroke-width="0.75"/>
<line x1="415.32" y1="457.10" x2="415.32" y2="459.30" stroke="#111" stroke-width="0.75"/>
<line x1="416.84" y1="457.10" x2="416.84" y2="459.30" stroke="#111" stroke-width="0.75"/>
<line x1="417.92" y1="457.10" x2="417.92" y2="459.30" stroke="#111" stroke-width="0.75"/>
<line x1="418.75" y1="457.10" x2="418.75" y2="459.30" stroke="#111" stroke-width="0.75"/>
<line x1="419.44" y1="457.10" x2="419.44" y2="459.30" stroke="#111" stroke-width="0.75"/>
<line x1="420.01" y1="457.10" x2="420.01" y2="459.30" stroke="#111" stroke-width="0.75"/>
<line x1="420.51" y1="457.10" x2="420.51" y2="459.30" stroke="#111" stroke-width="0.75"/>
<line x1="420.96" y1="457.10" x2="420.96" y2="459.30" stroke="#111" stroke-width="0.75"/>
<line x1="421.35" y1="457.10" x2="421.35" y2="460.10" stroke="#111" stroke-width="0.75"/>
<line x1="423.95" y1="457.10" x2="423.95" y2="459.30" stroke="#111" stroke-width="0.75"/>
<line x1="425.47" y1="457.10" x2="425.47" y2="459.30" stroke="#111" stroke-width="0.75"/>
<line x1="426.54" y1="457.10" x2="426.54" y2="459.30" stroke="#111" stroke-width="0.75"/>
<line x1="427.38" y1="457.10" x2="427.38" y2="459.30" stroke="#111" stroke-width="0.75"/>
<line x1="428.06" y1="457.10" x2="428.06" y2="459.30" stroke="#111" stroke-width="0.75"/>
<line x1="428.64" y1="457.10" x2="428.64" y2="459.30" stroke="#111" stroke-width="0.75"/>
<line x1="429.14" y1="457.10" x2="429.14" y2="459.30" stroke="#111" stroke-width="0.75"/>
<line x1="429.58" y1="457.10" x2="429.58" y2="459.30" stroke="#111" stroke-width="0.75"/>
<line x1="429.98" y1="457.10" x2="429.98" y2="460.10" stroke="#111" stroke-width="0.75"/>
<path d="M442.60,457.10 L442.60,457.10 L443.40,457.21 L444.55,457.46 L445.89,457.71 L447.26,457.82 L448.52,457.66 L449.50,457.10 L450.19,455.96 L450.71,454.31 L451.11,452.40 L451.44,450.44 L451.75,448.68 L452.09,447.36 L452.43,446.41 L452.72,445.65 L453.00,445.09 L453.27,444.73 L453.56,444.59 L453.87,444.67 L454.21,445.08 L454.57,445.83 L454.94,446.79 L455.32,447.84 L455.71,448.86 L456.11,449.71 L456.49,450.44 L456.85,451.18 L457.22,451.87 L457.62,452.50 L458.11,453.02 L458.70,453.40 L459.42,453.64 L460.24,453.75 L461.14,453.76 L462.08,453.69 L463.04,453.56 L463.99,453.40 L464.94,453.22 L465.91,453.01 L466.90,452.73 L467.91,452.38 L468.91,451.94 L469.91,451.39 L470.93,450.71 L471.97,449.93 L473.01,449.06 L474.03,448.10 L475.02,447.08 L475.95,446.01 L476.83,444.90 L477.68,443.73 L478.50,442.50 L479.27,441.20 L479.99,439.79 L480.67,438.28 L481.27,436.54 L481.81,434.56 L482.31,432.49 L482.77,430.47 L483.21,428.66 L483.66,427.20 L484.08,426.01 L484.46,424.97 L484.83,424.13 L485.20,423.56 L485.59,423.33 L486.01,423.50 L486.48,424.16 L486.98,425.28 L487.50,426.73 L488.02,428.40 L488.53,430.17 L489.00,431.90 L489.45,433.69 L489.87,435.65 L490.28,437.70 L490.68,439.76 L491.08,441.78 L491.48,443.66 L491.87,445.47 L492.25,447.28 L492.64,449.04 L493.01,450.68 L493.39,452.15 L493.78,453.40 L494.14,454.41 L494.48,455.22 L494.82,455.86 L495.18,456.37 L495.59,456.77 L496.08,457.10 L496.69,457.31 L497.44,457.37 L498.23,457.33 L498.99,457.24 L499.64,457.14 L500.10,457.10 L500.10,457.10Z" fill="#808080" stroke="#777" stroke-width="0.3"/>
<path d="M442.60,457.10 L443.35,457.20 L444.41,457.42 L445.66,457.65 L446.95,457.75 L448.14,457.61 L449.10,457.10 L449.81,456.09 L450.40,454.64 L450.89,452.94 L451.31,451.20 L451.70,449.61 L452.09,448.36 L452.45,447.42 L452.77,446.60 L453.05,445.93 L453.32,445.43 L453.59,445.11 L453.87,445.00 L454.16,445.17 L454.44,445.61 L454.72,446.24 L455.01,446.97 L455.32,447.71 L455.65,448.36 L455.98,449.03 L456.28,449.80 L456.60,450.57 L456.98,451.26 L457.45,451.79 L458.07,452.06 L458.85,452.06 L459.78,451.86 L460.81,451.49 L461.89,450.99 L462.96,450.38 L463.99,449.71 L464.98,448.92 L465.96,447.99 L466.94,446.96 L467.93,445.86 L468.92,444.75 L469.91,443.66 L470.93,442.56 L471.97,441.41 L473.01,440.24 L474.03,439.08 L475.02,437.97 L475.95,436.94 L476.83,435.89 L477.66,434.76 L478.46,433.69 L479.23,432.77 L479.96,432.14 L480.67,431.90 L481.33,432.11 L481.94,432.68 L482.52,433.54 L483.08,434.59 L483.65,435.75 L484.23,436.94 L484.82,438.23 L485.41,439.72 L486.01,441.31 L486.60,442.94 L487.19,444.53 L487.80,446.01 L488.41,447.43 L489.04,448.85 L489.68,450.23 L490.30,451.54 L490.91,452.72 L491.48,453.74 L491.97,454.59 L492.39,455.31 L492.78,455.90 L493.21,456.39 L493.71,456.79 L494.35,457.10 L495.21,457.29 L496.27,457.35 L497.40,457.31 L498.50,457.22 L499.44,457.14 L500.10,457.10" fill="none" stroke="#000" stroke-width="0.95" stroke-linejoin="round"/>
<rect x="442.50" y="423.50" width="58.00" height="34.00" fill="none" stroke="#333" stroke-width="1"/>
<line x1="445.48" y1="457.10" x2="445.48" y2="459.50" stroke="#111" stroke-width="0.75"/>
<line x1="447.20" y1="457.10" x2="447.20" y2="458.90" stroke="#111" stroke-width="0.75"/>
<line x1="450.08" y1="457.10" x2="450.08" y2="460.10" stroke="#111" stroke-width="0.75"/>
<line x1="453.36" y1="457.10" x2="453.36" y2="459.30" stroke="#111" stroke-width="0.75"/>
<line x1="455.29" y1="457.10" x2="455.29" y2="459.30" stroke="#111" stroke-width="0.75"/>
<line x1="456.65" y1="457.10" x2="456.65" y2="459.30" stroke="#111" stroke-width="0.75"/>
<line x1="457.71" y1="457.10" x2="457.71" y2="459.30" stroke="#111" stroke-width="0.75"/>
<line x1="458.58" y1="457.10" x2="458.58" y2="459.30" stroke="#111" stroke-width="0.75"/>
<line x1="459.31" y1="457.10" x2="459.31" y2="459.30" stroke="#111" stroke-width="0.75"/>
<line x1="459.94" y1="457.10" x2="459.94" y2="459.30" stroke="#111" stroke-width="0.75"/>
<line x1="460.50" y1="457.10" x2="460.50" y2="459.30" stroke="#111" stroke-width="0.75"/>
<line x1="461.00" y1="457.10" x2="461.00" y2="460.10" stroke="#111" stroke-width="0.75"/>
<line x1="463.77" y1="457.10" x2="463.77" y2="459.30" stroke="#111" stroke-width="0.75"/>
<line x1="465.39" y1="457.10" x2="465.39" y2="459.30" stroke="#111" stroke-width="0.75"/>
<line x1="466.54" y1="457.10" x2="466.54" y2="459.30" stroke="#111" stroke-width="0.75"/>
<line x1="467.43" y1="457.10" x2="467.43" y2="459.30" stroke="#111" stroke-width="0.75"/>
<line x1="468.16" y1="457.10" x2="468.16" y2="459.30" stroke="#111" stroke-width="0.75"/>
<line x1="468.77" y1="457.10" x2="468.77" y2="459.30" stroke="#111" stroke-width="0.75"/>
<line x1="469.31" y1="457.10" x2="469.31" y2="459.30" stroke="#111" stroke-width="0.75"/>
<line x1="469.78" y1="457.10" x2="469.78" y2="459.30" stroke="#111" stroke-width="0.75"/>
<line x1="470.20" y1="457.10" x2="470.20" y2="460.10" stroke="#111" stroke-width="0.75"/>
<line x1="472.80" y1="457.10" x2="472.80" y2="459.30" stroke="#111" stroke-width="0.75"/>
<line x1="474.32" y1="457.10" x2="474.32" y2="459.30" stroke="#111" stroke-width="0.75"/>
<line x1="475.39" y1="457.10" x2="475.39" y2="459.30" stroke="#111" stroke-width="0.75"/>
<line x1="476.23" y1="457.10" x2="476.23" y2="459.30" stroke="#111" stroke-width="0.75"/>
<line x1="476.91" y1="457.10" x2="476.91" y2="459.30" stroke="#111" stroke-width="0.75"/>
<line x1="477.49" y1="457.10" x2="477.49" y2="459.30" stroke="#111" stroke-width="0.75"/>
<line x1="477.99" y1="457.10" x2="477.99" y2="459.30" stroke="#111" stroke-width="0.75"/>
<line x1="478.43" y1="457.10" x2="478.43" y2="459.30" stroke="#111" stroke-width="0.75"/>
<line x1="478.83" y1="457.10" x2="478.83" y2="460.10" stroke="#111" stroke-width="0.75"/>
<line x1="481.42" y1="457.10" x2="481.42" y2="459.30" stroke="#111" stroke-width="0.75"/>
<line x1="482.94" y1="457.10" x2="482.94" y2="459.30" stroke="#111" stroke-width="0.75"/>
<line x1="484.02" y1="457.10" x2="484.02" y2="459.30" stroke="#111" stroke-width="0.75"/>
<line x1="484.85" y1="457.10" x2="484.85" y2="459.30" stroke="#111" stroke-width="0.75"/>
<line x1="485.54" y1="457.10" x2="485.54" y2="459.30" stroke="#111" stroke-width="0.75"/>
<line x1="486.11" y1="457.10" x2="486.11" y2="459.30" stroke="#111" stroke-width="0.75"/>
<line x1="486.61" y1="457.10" x2="486.61" y2="459.30" stroke="#111" stroke-width="0.75"/>
<line x1="487.06" y1="457.10" x2="487.06" y2="459.30" stroke="#111" stroke-width="0.75"/>
<line x1="487.45" y1="457.10" x2="487.45" y2="460.10" stroke="#111" stroke-width="0.75"/>
<line x1="490.05" y1="457.10" x2="490.05" y2="459.30" stroke="#111" stroke-width="0.75"/>
<line x1="491.57" y1="457.10" x2="491.57" y2="459.30" stroke="#111" stroke-width="0.75"/>
<line x1="492.64" y1="457.10" x2="492.64" y2="459.30" stroke="#111" stroke-width="0.75"/>
<line x1="493.48" y1="457.10" x2="493.48" y2="459.30" stroke="#111" stroke-width="0.75"/>
<line x1="494.16" y1="457.10" x2="494.16" y2="459.30" stroke="#111" stroke-width="0.75"/>
<line x1="494.74" y1="457.10" x2="494.74" y2="459.30" stroke="#111" stroke-width="0.75"/>
<line x1="495.24" y1="457.10" x2="495.24" y2="459.30" stroke="#111" stroke-width="0.75"/>
<line x1="495.68" y1="457.10" x2="495.68" y2="459.30" stroke="#111" stroke-width="0.75"/>
<line x1="496.08" y1="457.10" x2="496.08" y2="460.10" stroke="#111" stroke-width="0.75"/>
<line x1="310.80" y1="463.80" x2="357.70" y2="463.80" stroke="#222" stroke-width="0.8"/>
<polygon points="359.70,463.80 356.50,462.30 356.50,465.30" fill="#222"/>
<text x="311.00" y="474.00" font-size="8.6" text-anchor="start" fill="#111" stroke="#111" stroke-width="0.22">TNF-<tspan dx="0.9" font-family="Liberation Serif" font-size="9.4">&#945;</tspan></text>
</svg>
</body></html>
